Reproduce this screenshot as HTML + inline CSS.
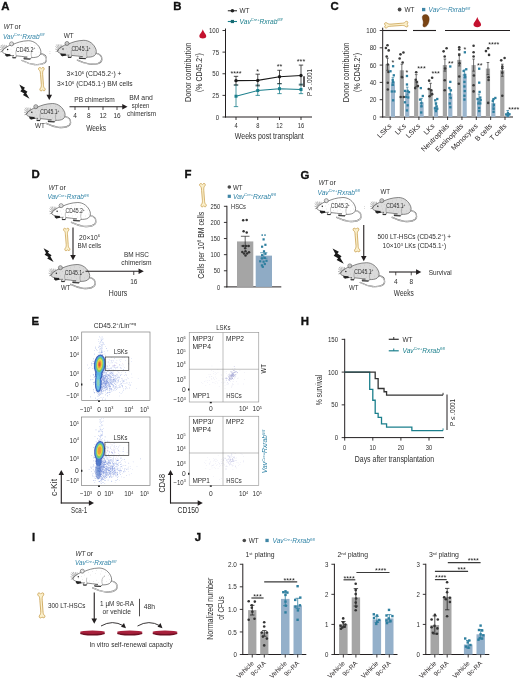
<!DOCTYPE html>
<html><head><meta charset="utf-8"><title>Figure</title>
<style>
html,body{margin:0;padding:0;background:#fff;}
body{width:520px;height:681px;overflow:hidden;}
svg{display:block;}
text{font-family:"Liberation Sans",sans-serif;}
</style></head><body>
<svg width="520" height="681" viewBox="0 0 520 681">
<g fill="#231f20" stroke="none" opacity="0.999">
<rect x="0" y="0" width="520" height="681" fill="#ffffff"/>
<text x="1.20" y="10.30" font-size="11.40" fill="#111" font-weight="bold" stroke="#111" stroke-width="0.35">A</text>
<text x="173.20" y="10.30" font-size="11.40" fill="#111" font-weight="bold" stroke="#111" stroke-width="0.35">B</text>
<text x="330.50" y="10.30" font-size="11.40" fill="#111" font-weight="bold" stroke="#111" stroke-width="0.35">C</text>
<text x="31.50" y="178.20" font-size="11.40" fill="#111" font-weight="bold" stroke="#111" stroke-width="0.35">D</text>
<text x="184.50" y="178.20" font-size="11.40" fill="#111" font-weight="bold" stroke="#111" stroke-width="0.35">F</text>
<text x="300.50" y="178.50" font-size="11.40" fill="#111" font-weight="bold" stroke="#111" stroke-width="0.35">G</text>
<text x="31.50" y="325.20" font-size="11.40" fill="#111" font-weight="bold" stroke="#111" stroke-width="0.35">E</text>
<text x="300.80" y="325.20" font-size="11.40" fill="#111" font-weight="bold" stroke="#111" stroke-width="0.35">H</text>
<text x="32.00" y="541.20" font-size="11.40" fill="#111" font-weight="bold" stroke="#111" stroke-width="0.35">I</text>
<text x="194.80" y="541.20" font-size="11.40" fill="#111" font-weight="bold" stroke="#111" stroke-width="0.35">J</text>
<text x="3.75" y="28.80" font-size="6.50" fill="#2e2e2e" font-style="italic" textLength="9.50" lengthAdjust="spacingAndGlyphs">WT</text>
<text x="14.60" y="28.80" font-size="6.50" fill="#2e2e2e" textLength="6.40" lengthAdjust="spacingAndGlyphs">or</text>
<text x="3.00" y="38.80" font-size="6.50" fill="#2f83a6" font-style="italic" textLength="41.50" lengthAdjust="spacingAndGlyphs">Vav<tspan dy="-2.34" font-size="3.90">Cre+</tspan><tspan dy="2.34">Rxrab</tspan><tspan dy="-2.34" font-size="3.90">fl/fl</tspan></text>
<g transform="translate(1.80,41.20)">
<path d="M38.3,12.3 C42.5,13.2 45,15.8 44.6,18.8 C44.2,22.6 38.5,24 32.5,23.3 C27.5,22.7 24,21.2 20.2,19.3" fill="none" stroke="#6a6a6a" stroke-width="1.35" stroke-linecap="round"/>
<path d="M38.3,12.3 C42.5,13.2 45,15.8 44.6,18.8 C44.2,22.6 38.5,24 32.5,23.3 C27.5,22.7 24,21.2 20.2,19.3" fill="none" stroke="#ffffff" stroke-width="0.7" stroke-linecap="round"/>
<path d="M0,10.3 C1,8.5 3.5,6.3 7.5,4.3 L11.8,3 C15,1.5 20,-0.3 26.5,-0.5 C32,-0.5 37,3.3 38.8,8.8 C39.5,11.2 39,13.6 37,15 C35,16.3 32,16.4 29.5,16.4 L28.5,17.8 L22,17.5 L22.3,16.3 L25.5,15.9 C22,15.3 18,15.1 14.5,14.6 L14,16.5 L10.8,16.5 L11,15.2 L12,14.3 C9.5,14.5 8,14.3 7,14 L5,15.1 L3.6,14.2 L4.2,13 C2.5,12.4 0.8,11.5 0,10.3 Z" fill="#ffffff" stroke="#4a4a4a" stroke-width="0.65" stroke-linejoin="round"/>
<circle cx="9.8" cy="2.7" r="2.0" fill="#ffffff" stroke="#4a4a4a" stroke-width="0.6"/>
<circle cx="9.9" cy="3.0" r="1.0" fill="none" stroke="#777" stroke-width="0.3"/>
<path d="M32.5,7.2 C29.8,8.8 28.5,12 30,16 M14.3,9.2 C13.8,11.6 14,13.2 14.5,14.6" fill="none" stroke="#666" stroke-width="0.4"/>
<path d="M16,4h.4M20,3h.4M24,2h.4M29,2.5h.4M33,4h.4M36,7h.4M18,6.5h.4M23,5h.4M28,5.5h.4M32,8h.4M37,11h.4M21,13h.4M26,14h.4M34,13h.4M17,12.5h.4M24,11.8h.4M30,12h.4M9,8h.4M6,10h.4M10,11h.4M12,6.5h.4M8,12.5h.4" stroke="#888" stroke-width="0.4" fill="none"/>
<path d="M1.8,8.6 L-1.8,5.6 M2,8.2 L-0.8,3.8 M2.6,7.7 L0.8,3.4 M3.4,7.2 L2.8,3.6 M1.6,9.2 L-2,8.2 M1.6,9.8 L-1.6,10.8 M4.4,6.6 L4.6,3.8" stroke="#444" stroke-width="0.38" fill="none"/>
<circle cx="5.8" cy="8.2" r="0.75" fill="#222"/>
<path d="M3.2,12.6 L8.4,13 L9,14.8 L5.2,15.4 L3.8,14.4 Z" fill="#222"/>
<path d="M22,17.6 L28.5,17.9 M10.8,16.6 L14,16.6" stroke="#2a2a2a" stroke-width="1.0"/>
<text x="14.20" y="10.40" font-size="6.60" fill="#2e2e2e" textLength="19.20" lengthAdjust="spacingAndGlyphs">CD45.2<tspan dy="-2.38" font-size="3.96">+</tspan></text>
</g>
<text x="49.30" y="54.00" font-size="5.00" fill="#777">:</text>
<text x="63.75" y="37.50" font-size="6.50" fill="#2e2e2e" textLength="10.00" lengthAdjust="spacingAndGlyphs">WT</text>
<g transform="translate(57.20,40.80)">
<path d="M38.3,12.3 C42.5,13.2 45,15.8 44.6,18.8 C44.2,22.6 38.5,24 32.5,23.3 C27.5,22.7 24,21.2 20.2,19.3" fill="none" stroke="#6a6a6a" stroke-width="1.35" stroke-linecap="round"/>
<path d="M38.3,12.3 C42.5,13.2 45,15.8 44.6,18.8 C44.2,22.6 38.5,24 32.5,23.3 C27.5,22.7 24,21.2 20.2,19.3" fill="none" stroke="#ececec" stroke-width="0.7" stroke-linecap="round"/>
<path d="M0,10.3 C1,8.5 3.5,6.3 7.5,4.3 L11.8,3 C15,1.5 20,-0.3 26.5,-0.5 C32,-0.5 37,3.3 38.8,8.8 C39.5,11.2 39,13.6 37,15 C35,16.3 32,16.4 29.5,16.4 L28.5,17.8 L22,17.5 L22.3,16.3 L25.5,15.9 C22,15.3 18,15.1 14.5,14.6 L14,16.5 L10.8,16.5 L11,15.2 L12,14.3 C9.5,14.5 8,14.3 7,14 L5,15.1 L3.6,14.2 L4.2,13 C2.5,12.4 0.8,11.5 0,10.3 Z" fill="#dcdcdc" stroke="#4a4a4a" stroke-width="0.65" stroke-linejoin="round"/>
<circle cx="9.8" cy="2.7" r="2.0" fill="#dcdcdc" stroke="#4a4a4a" stroke-width="0.6"/>
<circle cx="9.9" cy="3.0" r="1.0" fill="none" stroke="#777" stroke-width="0.3"/>
<path d="M32.5,7.2 C29.8,8.8 28.5,12 30,16 M14.3,9.2 C13.8,11.6 14,13.2 14.5,14.6" fill="none" stroke="#666" stroke-width="0.4"/>
<path d="M16,4h.4M20,3h.4M24,2h.4M29,2.5h.4M33,4h.4M36,7h.4M18,6.5h.4M23,5h.4M28,5.5h.4M32,8h.4M37,11h.4M21,13h.4M26,14h.4M34,13h.4M17,12.5h.4M24,11.8h.4M30,12h.4M9,8h.4M6,10h.4M10,11h.4M12,6.5h.4M8,12.5h.4" stroke="#888" stroke-width="0.4" fill="none"/>
<path d="M1.8,8.6 L-1.8,5.6 M2,8.2 L-0.8,3.8 M2.6,7.7 L0.8,3.4 M3.4,7.2 L2.8,3.6 M1.6,9.2 L-2,8.2 M1.6,9.8 L-1.6,10.8 M4.4,6.6 L4.6,3.8" stroke="#444" stroke-width="0.38" fill="none"/>
<circle cx="5.8" cy="8.2" r="0.75" fill="#222"/>
<path d="M3.2,12.6 L8.4,13 L9,14.8 L5.2,15.4 L3.8,14.4 Z" fill="#222"/>
<path d="M22,17.6 L28.5,17.9 M10.8,16.6 L14,16.6" stroke="#2a2a2a" stroke-width="1.0"/>
<text x="14.20" y="10.40" font-size="6.60" fill="#2e2e2e" textLength="19.20" lengthAdjust="spacingAndGlyphs">CD45.1<tspan dy="-2.38" font-size="3.96">+</tspan></text>
</g>
<path transform="translate(38.20,67.00) rotate(-3) scale(1)" d="M1.2,0.6 C0,0.8 -0.2,2.6 1,3.4 C1.8,4 1.9,5.5 1.9,7.5 L2.2,17.5 C2.2,19.5 1.8,20.6 1,21.4 C0,22.4 0.5,24.2 1.8,24 C2.5,23.9 2.8,23.4 3.1,23.1 C3.5,23.6 4,24.1 4.8,24 C6,23.8 6.2,22.2 5.2,21.4 C4.4,20.7 4.3,19.5 4.3,17.5 L4.1,7.5 C4.1,5.5 4.3,4.1 5.2,3.4 C6.3,2.5 6,0.6 4.7,0.7 C3.9,0.7 3.4,1.3 3,1.7 C2.6,1.2 2.1,0.5 1.2,0.6 Z" fill="#fbf0cc" stroke="#c89e4c" stroke-width="0.75"/>
<line x1="49.25" y1="66.00" x2="49.25" y2="97.20" stroke="#231f20" stroke-width="1.1" />
<path d="M49.25,100.00 L46.45,94.75 L52.05,94.75 Z" fill="#231f20"/>
<text x="94.00" y="76.00" font-size="6.50" fill="#2e2e2e" text-anchor="middle" textLength="55.00" lengthAdjust="spacingAndGlyphs">3×10<tspan dy="-2.34" font-size="3.90">6</tspan><tspan dy="2.34"> (CD45.2</tspan><tspan dy="-2.34" font-size="3.90">+</tspan><tspan dy="2.34">) +</tspan></text>
<text x="94.80" y="86.20" font-size="6.50" fill="#2e2e2e" text-anchor="middle" textLength="75.50" lengthAdjust="spacingAndGlyphs">3×10<tspan dy="-2.34" font-size="3.90">6</tspan><tspan dy="2.34"> (CD45.1</tspan><tspan dy="-2.34" font-size="3.90">+</tspan><tspan dy="2.34">) BM cells</tspan></text>
<polygon transform="translate(19.30,84.60) scale(1.02)" points="0,0 5.6,3 4.3,4.6 8,7 6.8,8.4 10,13.8 3.6,10.3 4.9,8.7 1,6.5 2.4,4.8" fill="#1a1a1a"/>
<g transform="translate(26.00,104.00)">
<path d="M38.3,12.3 C42.5,13.2 45,15.8 44.6,18.8 C44.2,22.6 38.5,24 32.5,23.3 C27.5,22.7 24,21.2 20.2,19.3" fill="none" stroke="#6a6a6a" stroke-width="1.35" stroke-linecap="round"/>
<path d="M38.3,12.3 C42.5,13.2 45,15.8 44.6,18.8 C44.2,22.6 38.5,24 32.5,23.3 C27.5,22.7 24,21.2 20.2,19.3" fill="none" stroke="#ececec" stroke-width="0.7" stroke-linecap="round"/>
<path d="M0,10.3 C1,8.5 3.5,6.3 7.5,4.3 L11.8,3 C15,1.5 20,-0.3 26.5,-0.5 C32,-0.5 37,3.3 38.8,8.8 C39.5,11.2 39,13.6 37,15 C35,16.3 32,16.4 29.5,16.4 L28.5,17.8 L22,17.5 L22.3,16.3 L25.5,15.9 C22,15.3 18,15.1 14.5,14.6 L14,16.5 L10.8,16.5 L11,15.2 L12,14.3 C9.5,14.5 8,14.3 7,14 L5,15.1 L3.6,14.2 L4.2,13 C2.5,12.4 0.8,11.5 0,10.3 Z" fill="#dadada" stroke="#4a4a4a" stroke-width="0.65" stroke-linejoin="round"/>
<circle cx="9.8" cy="2.7" r="2.0" fill="#dadada" stroke="#4a4a4a" stroke-width="0.6"/>
<circle cx="9.9" cy="3.0" r="1.0" fill="none" stroke="#777" stroke-width="0.3"/>
<path d="M32.5,7.2 C29.8,8.8 28.5,12 30,16 M14.3,9.2 C13.8,11.6 14,13.2 14.5,14.6" fill="none" stroke="#666" stroke-width="0.4"/>
<path d="M16,4h.4M20,3h.4M24,2h.4M29,2.5h.4M33,4h.4M36,7h.4M18,6.5h.4M23,5h.4M28,5.5h.4M32,8h.4M37,11h.4M21,13h.4M26,14h.4M34,13h.4M17,12.5h.4M24,11.8h.4M30,12h.4M9,8h.4M6,10h.4M10,11h.4M12,6.5h.4M8,12.5h.4" stroke="#888" stroke-width="0.4" fill="none"/>
<path d="M1.8,8.6 L-1.8,5.6 M2,8.2 L-0.8,3.8 M2.6,7.7 L0.8,3.4 M3.4,7.2 L2.8,3.6 M1.6,9.2 L-2,8.2 M1.6,9.8 L-1.6,10.8 M4.4,6.6 L4.6,3.8" stroke="#444" stroke-width="0.38" fill="none"/>
<circle cx="5.8" cy="8.2" r="0.75" fill="#222"/>
<path d="M3.2,12.6 L8.4,13 L9,14.8 L5.2,15.4 L3.8,14.4 Z" fill="#222"/>
<path d="M22,17.6 L28.5,17.9 M10.8,16.6 L14,16.6" stroke="#2a2a2a" stroke-width="1.0"/>
<text x="14.20" y="10.40" font-size="6.60" fill="#2e2e2e" textLength="19.20" lengthAdjust="spacingAndGlyphs">CD45.1<tspan dy="-2.38" font-size="3.96">+</tspan></text>
</g>
<text x="35.00" y="128.30" font-size="6.50" fill="#2e2e2e" textLength="10.00" lengthAdjust="spacingAndGlyphs">WT</text>
<line x1="69.50" y1="106.75" x2="124.70" y2="106.75" stroke="#231f20" stroke-width="1.1" />
<path d="M127.50,106.75 L122.25,103.95 L122.25,109.55 Z" fill="#231f20"/>
<line x1="75.00" y1="106.75" x2="75.00" y2="110.00" stroke="#231f20" stroke-width="0.8" />
<text x="75.00" y="118.20" font-size="6.50" fill="#2e2e2e" text-anchor="middle">4</text>
<line x1="88.75" y1="106.75" x2="88.75" y2="110.00" stroke="#231f20" stroke-width="0.8" />
<text x="88.75" y="118.20" font-size="6.50" fill="#2e2e2e" text-anchor="middle">8</text>
<line x1="103.00" y1="106.75" x2="103.00" y2="110.00" stroke="#231f20" stroke-width="0.8" />
<text x="103.00" y="118.20" font-size="6.50" fill="#2e2e2e" text-anchor="middle">12</text>
<line x1="117.00" y1="106.75" x2="117.00" y2="110.00" stroke="#231f20" stroke-width="0.8" />
<text x="117.00" y="118.20" font-size="6.50" fill="#2e2e2e" text-anchor="middle">16</text>
<text x="74.25" y="102.30" font-size="6.50" fill="#2e2e2e" textLength="40.50" lengthAdjust="spacingAndGlyphs">PB chimerism</text>
<text x="141.00" y="100.00" font-size="6.50" fill="#2e2e2e" text-anchor="middle" textLength="23.50" lengthAdjust="spacingAndGlyphs">BM and</text>
<text x="140.60" y="107.80" font-size="6.50" fill="#2e2e2e" text-anchor="middle" textLength="17.50" lengthAdjust="spacingAndGlyphs">spleen</text>
<text x="141.60" y="115.60" font-size="6.50" fill="#2e2e2e" text-anchor="middle" textLength="29.00" lengthAdjust="spacingAndGlyphs">chimerism</text>
<text x="96.10" y="131.00" font-size="9.30" fill="#2e2e2e" text-anchor="middle" textLength="19.80" lengthAdjust="spacingAndGlyphs">Weeks</text>
<line x1="225.50" y1="28.50" x2="225.50" y2="117.50" stroke="#231f20" stroke-width="1" />
<line x1="225.00" y1="117.00" x2="312.00" y2="117.00" stroke="#231f20" stroke-width="1" />
<line x1="222.50" y1="117.00" x2="225.50" y2="117.00" stroke="#231f20" stroke-width="0.9" />
<text x="219.10" y="119.60" font-size="7.30" fill="#2e2e2e" text-anchor="end" textLength="3.40" lengthAdjust="spacingAndGlyphs">0</text>
<line x1="222.50" y1="95.38" x2="225.50" y2="95.38" stroke="#231f20" stroke-width="0.9" />
<text x="219.10" y="97.97" font-size="7.30" fill="#2e2e2e" text-anchor="end" textLength="6.80" lengthAdjust="spacingAndGlyphs">25</text>
<line x1="222.50" y1="73.75" x2="225.50" y2="73.75" stroke="#231f20" stroke-width="0.9" />
<text x="219.10" y="76.35" font-size="7.30" fill="#2e2e2e" text-anchor="end" textLength="6.80" lengthAdjust="spacingAndGlyphs">50</text>
<line x1="222.50" y1="52.12" x2="225.50" y2="52.12" stroke="#231f20" stroke-width="0.9" />
<text x="219.10" y="54.73" font-size="7.30" fill="#2e2e2e" text-anchor="end" textLength="6.80" lengthAdjust="spacingAndGlyphs">75</text>
<line x1="222.50" y1="30.50" x2="225.50" y2="30.50" stroke="#231f20" stroke-width="0.9" />
<text x="219.10" y="33.10" font-size="7.30" fill="#2e2e2e" text-anchor="end" textLength="10.20" lengthAdjust="spacingAndGlyphs">100</text>
<line x1="236.00" y1="117.00" x2="236.00" y2="120.00" stroke="#231f20" stroke-width="0.9" />
<text x="236.00" y="127.90" font-size="7.30" fill="#2e2e2e" text-anchor="middle" textLength="3.20" lengthAdjust="spacingAndGlyphs">4</text>
<line x1="257.75" y1="117.00" x2="257.75" y2="120.00" stroke="#231f20" stroke-width="0.9" />
<text x="257.75" y="127.90" font-size="7.30" fill="#2e2e2e" text-anchor="middle" textLength="3.20" lengthAdjust="spacingAndGlyphs">8</text>
<line x1="279.50" y1="117.00" x2="279.50" y2="120.00" stroke="#231f20" stroke-width="0.9" />
<text x="279.50" y="127.90" font-size="7.30" fill="#2e2e2e" text-anchor="middle" textLength="6.40" lengthAdjust="spacingAndGlyphs">12</text>
<line x1="301.00" y1="117.00" x2="301.00" y2="120.00" stroke="#231f20" stroke-width="0.9" />
<text x="301.00" y="127.90" font-size="7.30" fill="#2e2e2e" text-anchor="middle" textLength="6.40" lengthAdjust="spacingAndGlyphs">16</text>
<text x="269.30" y="139.30" font-size="8.60" fill="#2e2e2e" text-anchor="middle" textLength="69.00" lengthAdjust="spacingAndGlyphs">Weeks post transplant</text>
<text x="191.40" y="72.40" font-size="8.60" fill="#2e2e2e" text-anchor="middle" textLength="59.30" lengthAdjust="spacingAndGlyphs" transform="rotate(-90 191.40 72.40)">Donor contribution</text>
<text x="202.40" y="72.60" font-size="8.60" fill="#2e2e2e" text-anchor="middle" textLength="39.00" lengthAdjust="spacingAndGlyphs" transform="rotate(-90 202.40 72.60)">(% CD45.2<tspan dy="-3.10" font-size="5.16">+</tspan><tspan dy="3.10">)</tspan></text>
<path d="M202.80,29.20 C201.77,32.63 199.35,34.10 199.35,36.26 C199.35,39.20 206.25,39.20 206.25,36.26 C206.25,34.10 203.84,32.63 202.80,29.20 Z" fill="#c4122f"/>
<line x1="227.80" y1="10.75" x2="237.00" y2="10.75" stroke="#333" stroke-width="1.1" />
<circle cx="232.40" cy="10.75" r="1.80" fill="#222" />
<text x="239.50" y="13.20" font-size="6.50" fill="#2e2e2e" textLength="10.00" lengthAdjust="spacingAndGlyphs">WT</text>
<line x1="227.80" y1="21.50" x2="237.00" y2="21.50" stroke="#1b7f8c" stroke-width="1.1" />
<rect x="230.80" y="19.90" width="3.20" height="3.20" fill="#176a72" />
<text x="239.50" y="23.60" font-size="6.50" fill="#1b7f8c" font-style="italic" textLength="43.00" lengthAdjust="spacingAndGlyphs">Vav<tspan dy="-2.34" font-size="3.90">Cre+</tspan><tspan dy="2.34">Rxrab</tspan><tspan dy="-2.34" font-size="3.90">fl/fl</tspan></text>
<line x1="236.00" y1="85.00" x2="236.00" y2="106.62" stroke="#1b7f8c" stroke-width="0.8" />
<line x1="233.80" y1="85.00" x2="238.20" y2="85.00" stroke="#1b7f8c" stroke-width="0.8" />
<line x1="233.80" y1="106.62" x2="238.20" y2="106.62" stroke="#1b7f8c" stroke-width="0.8" />
<line x1="257.75" y1="85.00" x2="257.75" y2="95.38" stroke="#1b7f8c" stroke-width="0.8" />
<line x1="255.55" y1="85.00" x2="259.95" y2="85.00" stroke="#1b7f8c" stroke-width="0.8" />
<line x1="255.55" y1="95.38" x2="259.95" y2="95.38" stroke="#1b7f8c" stroke-width="0.8" />
<line x1="279.50" y1="83.70" x2="279.50" y2="93.64" stroke="#1b7f8c" stroke-width="0.8" />
<line x1="277.30" y1="83.70" x2="281.70" y2="83.70" stroke="#1b7f8c" stroke-width="0.8" />
<line x1="277.30" y1="93.64" x2="281.70" y2="93.64" stroke="#1b7f8c" stroke-width="0.8" />
<line x1="301.00" y1="84.13" x2="301.00" y2="93.64" stroke="#1b7f8c" stroke-width="0.8" />
<line x1="298.80" y1="84.13" x2="303.20" y2="84.13" stroke="#1b7f8c" stroke-width="0.8" />
<line x1="298.80" y1="93.64" x2="303.20" y2="93.64" stroke="#1b7f8c" stroke-width="0.8" />
<polyline points="236.00,96.24 257.75,90.53 279.50,88.71 301.00,89.49" fill="none" stroke="#1b7f8c" stroke-width="1.1"/>
<rect x="234.50" y="94.74" width="3.00" height="3.00" fill="#1b7f8c" />
<rect x="256.25" y="89.03" width="3.00" height="3.00" fill="#1b7f8c" />
<rect x="278.00" y="87.21" width="3.00" height="3.00" fill="#1b7f8c" />
<rect x="299.50" y="87.99" width="3.00" height="3.00" fill="#1b7f8c" />
<line x1="236.00" y1="76.34" x2="236.00" y2="85.00" stroke="#222" stroke-width="0.8" />
<line x1="233.80" y1="76.34" x2="238.20" y2="76.34" stroke="#222" stroke-width="0.8" />
<line x1="233.80" y1="85.00" x2="238.20" y2="85.00" stroke="#222" stroke-width="0.8" />
<line x1="257.75" y1="74.18" x2="257.75" y2="85.86" stroke="#222" stroke-width="0.8" />
<line x1="255.55" y1="74.18" x2="259.95" y2="74.18" stroke="#222" stroke-width="0.8" />
<line x1="255.55" y1="85.86" x2="259.95" y2="85.86" stroke="#222" stroke-width="0.8" />
<line x1="279.50" y1="70.29" x2="279.50" y2="83.70" stroke="#222" stroke-width="0.8" />
<line x1="277.30" y1="70.29" x2="281.70" y2="70.29" stroke="#222" stroke-width="0.8" />
<line x1="277.30" y1="83.70" x2="281.70" y2="83.70" stroke="#222" stroke-width="0.8" />
<line x1="301.00" y1="65.10" x2="301.00" y2="85.00" stroke="#222" stroke-width="0.8" />
<line x1="298.80" y1="65.10" x2="303.20" y2="65.10" stroke="#222" stroke-width="0.8" />
<line x1="298.80" y1="85.00" x2="303.20" y2="85.00" stroke="#222" stroke-width="0.8" />
<polyline points="236.00,80.67 257.75,80.41 279.50,76.78 301.00,75.48" fill="none" stroke="#1a1a1a" stroke-width="1.1"/>
<circle cx="236.00" cy="80.67" r="1.70" fill="#1a1a1a" />
<circle cx="257.75" cy="80.41" r="1.70" fill="#1a1a1a" />
<circle cx="279.50" cy="76.78" r="1.70" fill="#1a1a1a" />
<circle cx="301.00" cy="75.48" r="1.70" fill="#1a1a1a" />
<text x="236.00" y="76.20" font-size="7.00" text-anchor="middle" fill="#222222" textLength="11.20" lengthAdjust="spacingAndGlyphs">****</text>
<text x="257.75" y="73.90" font-size="7.00" text-anchor="middle" fill="#222222" textLength="2.80" lengthAdjust="spacingAndGlyphs">*</text>
<text x="279.50" y="68.90" font-size="7.00" text-anchor="middle" fill="#222222" textLength="5.60" lengthAdjust="spacingAndGlyphs">**</text>
<text x="301.00" y="63.80" font-size="7.00" text-anchor="middle" fill="#222222" textLength="8.40" lengthAdjust="spacingAndGlyphs">***</text>
<line x1="304.00" y1="76.30" x2="304.00" y2="87.00" stroke="#231f20" stroke-width="1.5" />
<text x="312.30" y="82.50" font-size="6.80" fill="#2e2e2e" text-anchor="middle" textLength="27.00" lengthAdjust="spacingAndGlyphs" transform="rotate(-90 312.30 82.50)">P ≤ .0001</text>
<line x1="382.70" y1="27.70" x2="382.70" y2="117.50" stroke="#231f20" stroke-width="1" />
<line x1="382.20" y1="117.00" x2="513.00" y2="117.00" stroke="#231f20" stroke-width="1" />
<line x1="379.70" y1="117.00" x2="382.70" y2="117.00" stroke="#231f20" stroke-width="0.9" />
<text x="376.50" y="119.60" font-size="7.30" fill="#2e2e2e" text-anchor="end" textLength="3.40" lengthAdjust="spacingAndGlyphs">0</text>
<line x1="379.70" y1="99.70" x2="382.70" y2="99.70" stroke="#231f20" stroke-width="0.9" />
<text x="376.50" y="102.30" font-size="7.30" fill="#2e2e2e" text-anchor="end" textLength="6.80" lengthAdjust="spacingAndGlyphs">20</text>
<line x1="379.70" y1="82.40" x2="382.70" y2="82.40" stroke="#231f20" stroke-width="0.9" />
<text x="376.50" y="85.00" font-size="7.30" fill="#2e2e2e" text-anchor="end" textLength="6.80" lengthAdjust="spacingAndGlyphs">40</text>
<line x1="379.70" y1="65.10" x2="382.70" y2="65.10" stroke="#231f20" stroke-width="0.9" />
<text x="376.50" y="67.70" font-size="7.30" fill="#2e2e2e" text-anchor="end" textLength="6.80" lengthAdjust="spacingAndGlyphs">60</text>
<line x1="379.70" y1="47.80" x2="382.70" y2="47.80" stroke="#231f20" stroke-width="0.9" />
<text x="376.50" y="50.40" font-size="7.30" fill="#2e2e2e" text-anchor="end" textLength="6.80" lengthAdjust="spacingAndGlyphs">80</text>
<line x1="379.70" y1="30.50" x2="382.70" y2="30.50" stroke="#231f20" stroke-width="0.9" />
<text x="376.50" y="33.10" font-size="7.30" fill="#2e2e2e" text-anchor="end" textLength="10.20" lengthAdjust="spacingAndGlyphs">100</text>
<text x="349.40" y="72.40" font-size="8.60" fill="#2e2e2e" text-anchor="middle" textLength="59.50" lengthAdjust="spacingAndGlyphs" transform="rotate(-90 349.40 72.40)">Donor contribution</text>
<text x="359.80" y="72.40" font-size="8.60" fill="#2e2e2e" text-anchor="middle" textLength="39.00" lengthAdjust="spacingAndGlyphs" transform="rotate(-90 359.80 72.40)">(% CD45.2<tspan dy="-3.10" font-size="5.16">+</tspan><tspan dy="3.10">)</tspan></text>
<line x1="383.00" y1="30.50" x2="407.00" y2="30.50" stroke="#231f20" stroke-width="1.1" />
<line x1="413.00" y1="30.50" x2="436.00" y2="30.50" stroke="#231f20" stroke-width="1.1" />
<line x1="445.00" y1="30.50" x2="510.00" y2="30.50" stroke="#231f20" stroke-width="1.1" />
<path transform="translate(408.40,21.00) rotate(87) scale(1)" d="M1.2,0.6 C0,0.8 -0.2,2.6 1,3.4 C1.8,4 1.9,5.5 1.9,7.5 L2.2,17.5 C2.2,19.5 1.8,20.6 1,21.4 C0,22.4 0.5,24.2 1.8,24 C2.5,23.9 2.8,23.4 3.1,23.1 C3.5,23.6 4,24.1 4.8,24 C6,23.8 6.2,22.2 5.2,21.4 C4.4,20.7 4.3,19.5 4.3,17.5 L4.1,7.5 C4.1,5.5 4.3,4.1 5.2,3.4 C6.3,2.5 6,0.6 4.7,0.7 C3.9,0.7 3.4,1.3 3,1.7 C2.6,1.2 2.1,0.5 1.2,0.6 Z" fill="#fbf0cc" stroke="#c89e4c" stroke-width="0.75"/>
<path d="M424.3,14.8 C427,14 429.2,15.8 429.2,19 C429.2,23 427,27 424.3,27 C422.8,27 422.6,25.3 423.2,23.5 C423.8,21.5 422.3,19.5 422.3,17.5 C422.3,16 423,15.1 424.3,14.8 Z" fill="#7a4413" stroke="#5a300c" stroke-width="0.4"/>
<path d="M477.30,17.00 C476.16,20.78 473.50,22.40 473.50,24.78 C473.50,28.02 481.10,28.02 481.10,24.78 C481.10,22.40 478.44,20.78 477.30,17.00 Z" fill="#c4122f"/>
<circle cx="399.60" cy="9.50" r="1.90" fill="#4a4a4a" />
<text x="404.50" y="12.00" font-size="6.50" fill="#2e2e2e" textLength="10.00" lengthAdjust="spacingAndGlyphs">WT</text>
<rect x="422.00" y="7.90" width="3.30" height="3.30" fill="#3f86a6" />
<text x="428.60" y="12.00" font-size="6.50" fill="#2f83a6" font-style="italic" textLength="41.50" lengthAdjust="spacingAndGlyphs">Vav<tspan dy="-2.34" font-size="3.90">Cre+</tspan><tspan dy="2.34">Rxrab</tspan><tspan dy="-2.34" font-size="3.90">fl/fl</tspan></text>
<rect x="385.40" y="64.23" width="4.20" height="52.77" fill="#a5a5a5" />
<rect x="390.80" y="81.53" width="4.20" height="35.47" fill="#9bb5cd" />
<line x1="387.50" y1="58.18" x2="387.50" y2="70.29" stroke="#333" stroke-width="0.7" />
<line x1="386.20" y1="58.18" x2="388.80" y2="58.18" stroke="#333" stroke-width="0.7" />
<line x1="386.20" y1="70.29" x2="388.80" y2="70.29" stroke="#333" stroke-width="0.7" />
<line x1="392.90" y1="77.64" x2="392.90" y2="85.43" stroke="#2e7f9f" stroke-width="0.7" />
<line x1="391.60" y1="77.64" x2="394.20" y2="77.64" stroke="#2e7f9f" stroke-width="0.7" />
<line x1="391.60" y1="85.43" x2="394.20" y2="85.43" stroke="#2e7f9f" stroke-width="0.7" />
<circle cx="387.50" cy="45.29" r="1.30" fill="#3a3a3a" />
<circle cx="385.90" cy="47.97" r="1.30" fill="#3a3a3a" />
<circle cx="388.70" cy="50.39" r="1.30" fill="#3a3a3a" />
<circle cx="387.80" cy="64.49" r="1.30" fill="#3a3a3a" />
<circle cx="387.80" cy="82.75" r="1.30" fill="#3a3a3a" />
<circle cx="387.80" cy="89.49" r="1.30" fill="#3a3a3a" />
<circle cx="386.70" cy="56.45" r="1.30" fill="#3a3a3a" />
<circle cx="388.40" cy="72.02" r="1.30" fill="#3a3a3a" />
<rect x="391.95" y="65.07" width="2.30" height="2.30" fill="#2e7f9f" />
<rect x="389.35" y="70.09" width="2.30" height="2.30" fill="#2e7f9f" />
<rect x="392.65" y="74.16" width="2.30" height="2.30" fill="#2e7f9f" />
<rect x="391.55" y="78.91" width="2.30" height="2.30" fill="#2e7f9f" />
<rect x="391.95" y="80.90" width="2.30" height="2.30" fill="#2e7f9f" />
<rect x="391.55" y="83.59" width="2.30" height="2.30" fill="#2e7f9f" />
<rect x="390.65" y="90.33" width="2.30" height="2.30" fill="#2e7f9f" />
<rect x="393.35" y="90.33" width="2.30" height="2.30" fill="#2e7f9f" />
<rect x="391.95" y="99.16" width="2.30" height="2.30" fill="#2e7f9f" />
<line x1="390.20" y1="117.00" x2="390.20" y2="120.00" stroke="#231f20" stroke-width="0.9" />
<text x="392.10" y="126.60" font-size="7.1" text-anchor="end" fill="#231f20" transform="rotate(-45 392.10 126.60)">LSKs</text>
<rect x="399.75" y="70.29" width="4.20" height="46.71" fill="#a5a5a5" />
<rect x="405.15" y="91.05" width="4.20" height="25.95" fill="#9bb5cd" />
<line x1="401.85" y1="64.23" x2="401.85" y2="76.34" stroke="#333" stroke-width="0.7" />
<line x1="400.55" y1="64.23" x2="403.15" y2="64.23" stroke="#333" stroke-width="0.7" />
<line x1="400.55" y1="76.34" x2="403.15" y2="76.34" stroke="#333" stroke-width="0.7" />
<line x1="407.25" y1="87.16" x2="407.25" y2="94.94" stroke="#2e7f9f" stroke-width="0.7" />
<line x1="405.95" y1="87.16" x2="408.55" y2="87.16" stroke="#2e7f9f" stroke-width="0.7" />
<line x1="405.95" y1="94.94" x2="408.55" y2="94.94" stroke="#2e7f9f" stroke-width="0.7" />
<circle cx="403.45" cy="52.56" r="1.30" fill="#3a3a3a" />
<circle cx="400.45" cy="54.37" r="1.30" fill="#3a3a3a" />
<circle cx="399.65" cy="58.44" r="1.30" fill="#3a3a3a" />
<circle cx="402.65" cy="62.51" r="1.30" fill="#3a3a3a" />
<circle cx="400.65" cy="96.93" r="1.30" fill="#3a3a3a" />
<circle cx="403.75" cy="96.93" r="1.30" fill="#3a3a3a" />
<circle cx="402.05" cy="77.21" r="1.30" fill="#3a3a3a" />
<rect x="405.80" y="74.85" width="2.30" height="2.30" fill="#2e7f9f" />
<rect x="405.80" y="83.33" width="2.30" height="2.30" fill="#2e7f9f" />
<rect x="403.80" y="89.73" width="2.30" height="2.30" fill="#2e7f9f" />
<rect x="406.50" y="89.73" width="2.30" height="2.30" fill="#2e7f9f" />
<rect x="407.80" y="90.94" width="2.30" height="2.30" fill="#2e7f9f" />
<rect x="405.10" y="95.78" width="2.30" height="2.30" fill="#2e7f9f" />
<rect x="407.10" y="96.30" width="2.30" height="2.30" fill="#2e7f9f" />
<rect x="403.80" y="101.14" width="2.30" height="2.30" fill="#2e7f9f" />
<rect x="406.50" y="104.17" width="2.30" height="2.30" fill="#2e7f9f" />
<rect x="405.80" y="109.28" width="2.30" height="2.30" fill="#2e7f9f" />
<line x1="404.55" y1="117.00" x2="404.55" y2="120.00" stroke="#231f20" stroke-width="0.9" />
<text x="406.45" y="126.60" font-size="7.1" text-anchor="end" fill="#231f20" transform="rotate(-45 406.45 126.60)">LKs</text>
<rect x="414.10" y="80.67" width="4.20" height="36.33" fill="#a5a5a5" />
<rect x="419.50" y="102.30" width="4.20" height="14.70" fill="#9bb5cd" />
<line x1="416.20" y1="74.62" x2="416.20" y2="86.72" stroke="#333" stroke-width="0.7" />
<line x1="414.90" y1="74.62" x2="417.50" y2="74.62" stroke="#333" stroke-width="0.7" />
<line x1="414.90" y1="86.72" x2="417.50" y2="86.72" stroke="#333" stroke-width="0.7" />
<line x1="421.60" y1="98.40" x2="421.60" y2="106.19" stroke="#2e7f9f" stroke-width="0.7" />
<line x1="420.30" y1="98.40" x2="422.90" y2="98.40" stroke="#2e7f9f" stroke-width="0.7" />
<line x1="420.30" y1="106.19" x2="422.90" y2="106.19" stroke="#2e7f9f" stroke-width="0.7" />
<circle cx="416.20" cy="72.28" r="1.30" fill="#3a3a3a" />
<circle cx="415.70" cy="79.81" r="1.30" fill="#3a3a3a" />
<circle cx="416.80" cy="82.05" r="1.30" fill="#3a3a3a" />
<circle cx="417.90" cy="86.12" r="1.30" fill="#3a3a3a" />
<circle cx="415.20" cy="88.11" r="1.30" fill="#3a3a3a" />
<rect x="419.65" y="86.96" width="2.30" height="2.30" fill="#2e7f9f" />
<rect x="421.65" y="94.83" width="2.30" height="2.30" fill="#2e7f9f" />
<rect x="418.95" y="98.46" width="2.30" height="2.30" fill="#2e7f9f" />
<rect x="420.25" y="101.84" width="2.30" height="2.30" fill="#2e7f9f" />
<rect x="420.25" y="105.21" width="2.30" height="2.30" fill="#2e7f9f" />
<rect x="420.05" y="111.35" width="2.30" height="2.30" fill="#2e7f9f" />
<line x1="418.90" y1="117.00" x2="418.90" y2="120.00" stroke="#231f20" stroke-width="0.9" />
<text x="420.80" y="126.60" font-size="7.1" text-anchor="end" fill="#231f20" transform="rotate(-45 420.80 126.60)">LSKs</text>
<rect x="428.45" y="89.32" width="4.20" height="27.68" fill="#a5a5a5" />
<rect x="433.85" y="106.62" width="4.20" height="10.38" fill="#9bb5cd" />
<line x1="430.55" y1="83.27" x2="430.55" y2="95.38" stroke="#333" stroke-width="0.7" />
<line x1="429.25" y1="83.27" x2="431.85" y2="83.27" stroke="#333" stroke-width="0.7" />
<line x1="429.25" y1="95.38" x2="431.85" y2="95.38" stroke="#333" stroke-width="0.7" />
<line x1="435.95" y1="102.73" x2="435.95" y2="110.51" stroke="#2e7f9f" stroke-width="0.7" />
<line x1="434.65" y1="102.73" x2="437.25" y2="102.73" stroke="#2e7f9f" stroke-width="0.7" />
<line x1="434.65" y1="110.51" x2="437.25" y2="110.51" stroke="#2e7f9f" stroke-width="0.7" />
<circle cx="432.15" cy="77.73" r="1.30" fill="#3a3a3a" />
<circle cx="429.15" cy="80.67" r="1.30" fill="#3a3a3a" />
<circle cx="428.75" cy="88.97" r="1.30" fill="#3a3a3a" />
<circle cx="431.15" cy="90.19" r="1.30" fill="#3a3a3a" />
<circle cx="432.15" cy="94.16" r="1.30" fill="#3a3a3a" />
<circle cx="429.55" cy="96.24" r="1.30" fill="#3a3a3a" />
<rect x="436.10" y="97.86" width="2.30" height="2.30" fill="#2e7f9f" />
<rect x="434.10" y="99.16" width="2.30" height="2.30" fill="#2e7f9f" />
<rect x="434.80" y="102.53" width="2.30" height="2.30" fill="#2e7f9f" />
<rect x="435.50" y="105.21" width="2.30" height="2.30" fill="#2e7f9f" />
<rect x="433.80" y="107.20" width="2.30" height="2.30" fill="#2e7f9f" />
<rect x="436.10" y="107.63" width="2.30" height="2.30" fill="#2e7f9f" />
<rect x="434.80" y="109.97" width="2.30" height="2.30" fill="#2e7f9f" />
<line x1="433.25" y1="117.00" x2="433.25" y2="120.00" stroke="#231f20" stroke-width="0.9" />
<text x="435.15" y="126.60" font-size="7.1" text-anchor="end" fill="#231f20" transform="rotate(-45 435.15 126.60)">LKs</text>
<rect x="442.80" y="65.10" width="4.20" height="51.90" fill="#a5a5a5" />
<rect x="448.20" y="93.64" width="4.20" height="23.36" fill="#9bb5cd" />
<line x1="444.90" y1="59.05" x2="444.90" y2="71.16" stroke="#333" stroke-width="0.7" />
<line x1="443.60" y1="59.05" x2="446.20" y2="59.05" stroke="#333" stroke-width="0.7" />
<line x1="443.60" y1="71.16" x2="446.20" y2="71.16" stroke="#333" stroke-width="0.7" />
<line x1="450.30" y1="89.75" x2="450.30" y2="97.54" stroke="#2e7f9f" stroke-width="0.7" />
<line x1="449.00" y1="89.75" x2="451.60" y2="89.75" stroke="#2e7f9f" stroke-width="0.7" />
<line x1="449.00" y1="97.54" x2="451.60" y2="97.54" stroke="#2e7f9f" stroke-width="0.7" />
<circle cx="446.60" cy="48.32" r="1.30" fill="#3a3a3a" />
<circle cx="443.60" cy="51.35" r="1.30" fill="#3a3a3a" />
<circle cx="444.70" cy="56.45" r="1.30" fill="#3a3a3a" />
<circle cx="444.70" cy="80.32" r="1.30" fill="#3a3a3a" />
<circle cx="444.70" cy="90.27" r="1.30" fill="#3a3a3a" />
<circle cx="445.10" cy="68.56" r="1.30" fill="#3a3a3a" />
<rect x="449.15" y="65.33" width="2.30" height="2.30" fill="#2e7f9f" />
<rect x="449.15" y="80.73" width="2.30" height="2.30" fill="#2e7f9f" />
<rect x="448.25" y="86.87" width="2.30" height="2.30" fill="#2e7f9f" />
<rect x="449.75" y="89.21" width="2.30" height="2.30" fill="#2e7f9f" />
<rect x="448.65" y="93.01" width="2.30" height="2.30" fill="#2e7f9f" />
<rect x="449.45" y="96.82" width="2.30" height="2.30" fill="#2e7f9f" />
<rect x="448.65" y="102.27" width="2.30" height="2.30" fill="#2e7f9f" />
<rect x="449.15" y="106.08" width="2.30" height="2.30" fill="#2e7f9f" />
<line x1="447.60" y1="117.00" x2="447.60" y2="120.00" stroke="#231f20" stroke-width="0.9" />
<text x="449.50" y="126.60" font-size="7.1" text-anchor="end" fill="#231f20" transform="rotate(-45 449.50 126.60)">Neutrophils</text>
<rect x="457.15" y="59.91" width="4.20" height="57.09" fill="#a5a5a5" />
<rect x="462.55" y="73.75" width="4.20" height="43.25" fill="#9bb5cd" />
<line x1="459.25" y1="53.85" x2="459.25" y2="65.97" stroke="#333" stroke-width="0.7" />
<line x1="457.95" y1="53.85" x2="460.55" y2="53.85" stroke="#333" stroke-width="0.7" />
<line x1="457.95" y1="65.97" x2="460.55" y2="65.97" stroke="#333" stroke-width="0.7" />
<line x1="464.65" y1="69.86" x2="464.65" y2="77.64" stroke="#2e7f9f" stroke-width="0.7" />
<line x1="463.35" y1="69.86" x2="465.95" y2="69.86" stroke="#2e7f9f" stroke-width="0.7" />
<line x1="463.35" y1="77.64" x2="465.95" y2="77.64" stroke="#2e7f9f" stroke-width="0.7" />
<circle cx="459.25" cy="47.19" r="1.30" fill="#3a3a3a" />
<circle cx="459.25" cy="49.53" r="1.30" fill="#3a3a3a" />
<circle cx="459.25" cy="54.89" r="1.30" fill="#3a3a3a" />
<circle cx="459.25" cy="76.43" r="1.30" fill="#3a3a3a" />
<circle cx="458.85" cy="83.70" r="1.30" fill="#3a3a3a" />
<circle cx="459.55" cy="63.37" r="1.30" fill="#3a3a3a" />
<rect x="463.70" y="51.15" width="2.30" height="2.30" fill="#2e7f9f" />
<rect x="465.10" y="68.10" width="2.30" height="2.30" fill="#2e7f9f" />
<rect x="462.50" y="69.92" width="2.30" height="2.30" fill="#2e7f9f" />
<rect x="463.60" y="73.81" width="2.30" height="2.30" fill="#2e7f9f" />
<rect x="464.00" y="76.06" width="2.30" height="2.30" fill="#2e7f9f" />
<rect x="463.30" y="80.73" width="2.30" height="2.30" fill="#2e7f9f" />
<rect x="463.30" y="85.32" width="2.30" height="2.30" fill="#2e7f9f" />
<rect x="463.60" y="89.90" width="2.30" height="2.30" fill="#2e7f9f" />
<rect x="463.30" y="94.57" width="2.30" height="2.30" fill="#2e7f9f" />
<rect x="463.30" y="98.38" width="2.30" height="2.30" fill="#2e7f9f" />
<line x1="461.95" y1="117.00" x2="461.95" y2="120.00" stroke="#231f20" stroke-width="0.9" />
<text x="463.85" y="126.60" font-size="7.1" text-anchor="end" fill="#231f20" transform="rotate(-45 463.85 126.60)">Eosinophils</text>
<rect x="471.50" y="65.10" width="4.20" height="51.90" fill="#a5a5a5" />
<rect x="476.90" y="97.97" width="4.20" height="19.03" fill="#9bb5cd" />
<line x1="473.60" y1="59.05" x2="473.60" y2="71.16" stroke="#333" stroke-width="0.7" />
<line x1="472.30" y1="59.05" x2="474.90" y2="59.05" stroke="#333" stroke-width="0.7" />
<line x1="472.30" y1="71.16" x2="474.90" y2="71.16" stroke="#333" stroke-width="0.7" />
<line x1="479.00" y1="94.08" x2="479.00" y2="101.86" stroke="#2e7f9f" stroke-width="0.7" />
<line x1="477.70" y1="94.08" x2="480.30" y2="94.08" stroke="#2e7f9f" stroke-width="0.7" />
<line x1="477.70" y1="101.86" x2="480.30" y2="101.86" stroke="#2e7f9f" stroke-width="0.7" />
<circle cx="473.60" cy="45.72" r="1.30" fill="#3a3a3a" />
<circle cx="473.60" cy="52.30" r="1.30" fill="#3a3a3a" />
<circle cx="473.60" cy="56.45" r="1.30" fill="#3a3a3a" />
<circle cx="473.60" cy="85.25" r="1.30" fill="#3a3a3a" />
<circle cx="473.60" cy="91.40" r="1.30" fill="#3a3a3a" />
<circle cx="473.90" cy="75.48" r="1.30" fill="#3a3a3a" />
<rect x="478.05" y="67.58" width="2.30" height="2.30" fill="#2e7f9f" />
<rect x="478.05" y="81.51" width="2.30" height="2.30" fill="#2e7f9f" />
<rect x="478.45" y="90.76" width="2.30" height="2.30" fill="#2e7f9f" />
<rect x="479.15" y="96.39" width="2.30" height="2.30" fill="#2e7f9f" />
<rect x="476.45" y="97.86" width="2.30" height="2.30" fill="#2e7f9f" />
<rect x="479.55" y="98.98" width="2.30" height="2.30" fill="#2e7f9f" />
<rect x="477.25" y="102.27" width="2.30" height="2.30" fill="#2e7f9f" />
<rect x="479.15" y="102.27" width="2.30" height="2.30" fill="#2e7f9f" />
<rect x="478.05" y="106.85" width="2.30" height="2.30" fill="#2e7f9f" />
<rect x="478.05" y="109.88" width="2.30" height="2.30" fill="#2e7f9f" />
<line x1="476.30" y1="117.00" x2="476.30" y2="120.00" stroke="#231f20" stroke-width="0.9" />
<text x="478.20" y="126.60" font-size="7.1" text-anchor="end" fill="#231f20" transform="rotate(-45 478.20 126.60)">Monocytes</text>
<rect x="485.85" y="68.56" width="4.20" height="48.44" fill="#a5a5a5" />
<rect x="491.25" y="103.16" width="4.20" height="13.84" fill="#9bb5cd" />
<line x1="487.95" y1="62.51" x2="487.95" y2="74.62" stroke="#333" stroke-width="0.7" />
<line x1="486.65" y1="62.51" x2="489.25" y2="62.51" stroke="#333" stroke-width="0.7" />
<line x1="486.65" y1="74.62" x2="489.25" y2="74.62" stroke="#333" stroke-width="0.7" />
<line x1="493.35" y1="99.27" x2="493.35" y2="107.05" stroke="#2e7f9f" stroke-width="0.7" />
<line x1="492.05" y1="99.27" x2="494.65" y2="99.27" stroke="#2e7f9f" stroke-width="0.7" />
<line x1="492.05" y1="107.05" x2="494.65" y2="107.05" stroke="#2e7f9f" stroke-width="0.7" />
<circle cx="488.15" cy="48.32" r="1.30" fill="#3a3a3a" />
<circle cx="485.95" cy="51.09" r="1.30" fill="#3a3a3a" />
<circle cx="489.05" cy="54.89" r="1.30" fill="#3a3a3a" />
<circle cx="488.55" cy="77.21" r="1.30" fill="#3a3a3a" />
<circle cx="488.55" cy="79.98" r="1.30" fill="#3a3a3a" />
<circle cx="488.15" cy="102.90" r="1.30" fill="#3a3a3a" />
<rect x="494.20" y="96.82" width="2.30" height="2.30" fill="#2e7f9f" />
<rect x="492.40" y="97.94" width="2.30" height="2.30" fill="#2e7f9f" />
<rect x="491.60" y="99.93" width="2.30" height="2.30" fill="#2e7f9f" />
<rect x="492.70" y="103.74" width="2.30" height="2.30" fill="#2e7f9f" />
<rect x="492.40" y="107.63" width="2.30" height="2.30" fill="#2e7f9f" />
<rect x="492.40" y="110.66" width="2.30" height="2.30" fill="#2e7f9f" />
<line x1="490.65" y1="117.00" x2="490.65" y2="120.00" stroke="#231f20" stroke-width="0.9" />
<text x="492.55" y="126.60" font-size="7.1" text-anchor="end" fill="#231f20" transform="rotate(-45 492.55 126.60)">B cells</text>
<rect x="500.20" y="70.29" width="4.20" height="46.71" fill="#a5a5a5" />
<rect x="505.60" y="114.41" width="4.20" height="2.59" fill="#9bb5cd" />
<line x1="502.30" y1="64.23" x2="502.30" y2="76.34" stroke="#333" stroke-width="0.7" />
<line x1="501.00" y1="64.23" x2="503.60" y2="64.23" stroke="#333" stroke-width="0.7" />
<line x1="501.00" y1="76.34" x2="503.60" y2="76.34" stroke="#333" stroke-width="0.7" />
<line x1="507.70" y1="110.51" x2="507.70" y2="116.57" stroke="#2e7f9f" stroke-width="0.7" />
<line x1="506.40" y1="110.51" x2="509.00" y2="110.51" stroke="#2e7f9f" stroke-width="0.7" />
<line x1="506.40" y1="116.57" x2="509.00" y2="116.57" stroke="#2e7f9f" stroke-width="0.7" />
<circle cx="504.60" cy="58.01" r="1.30" fill="#3a3a3a" />
<circle cx="501.20" cy="60.34" r="1.30" fill="#3a3a3a" />
<circle cx="502.30" cy="66.48" r="1.30" fill="#3a3a3a" />
<circle cx="502.30" cy="68.30" r="1.30" fill="#3a3a3a" />
<circle cx="502.30" cy="72.63" r="1.30" fill="#3a3a3a" />
<circle cx="502.30" cy="95.72" r="1.30" fill="#3a3a3a" />
<rect x="505.05" y="113.25" width="2.30" height="2.30" fill="#2e7f9f" />
<rect x="506.75" y="111.87" width="2.30" height="2.30" fill="#2e7f9f" />
<rect x="508.35" y="113.08" width="2.30" height="2.30" fill="#2e7f9f" />
<rect x="506.75" y="114.12" width="2.30" height="2.30" fill="#2e7f9f" />
<line x1="505.00" y1="117.00" x2="505.00" y2="120.00" stroke="#231f20" stroke-width="0.9" />
<text x="506.90" y="126.60" font-size="7.1" text-anchor="end" fill="#231f20" transform="rotate(-45 506.90 126.60)">T cells</text>
<text x="392.80" y="64.60" font-size="7.00" text-anchor="middle" fill="#222222" textLength="2.80" lengthAdjust="spacingAndGlyphs">*</text>
<text x="407.00" y="75.00" font-size="7.00" text-anchor="middle" fill="#222222" textLength="2.80" lengthAdjust="spacingAndGlyphs">*</text>
<text x="421.50" y="71.30" font-size="7.00" text-anchor="middle" fill="#222222" textLength="8.40" lengthAdjust="spacingAndGlyphs">***</text>
<text x="435.70" y="75.70" font-size="7.00" text-anchor="middle" fill="#222222" textLength="8.40" lengthAdjust="spacingAndGlyphs">***</text>
<text x="450.80" y="66.00" font-size="7.00" text-anchor="middle" fill="#222222" textLength="5.60" lengthAdjust="spacingAndGlyphs">**</text>
<text x="465.00" y="51.50" font-size="7.00" text-anchor="middle" fill="#222222" textLength="2.80" lengthAdjust="spacingAndGlyphs">*</text>
<text x="479.70" y="68.10" font-size="7.00" text-anchor="middle" fill="#222222" textLength="5.60" lengthAdjust="spacingAndGlyphs">**</text>
<text x="493.80" y="47.20" font-size="7.00" text-anchor="middle" fill="#222222" textLength="11.20" lengthAdjust="spacingAndGlyphs">****</text>
<text x="513.80" y="112.10" font-size="7.00" text-anchor="middle" fill="#222222" textLength="11.20" lengthAdjust="spacingAndGlyphs">****</text>
<text x="48.75" y="189.50" font-size="6.50" fill="#2e2e2e" font-style="italic" textLength="9.50" lengthAdjust="spacingAndGlyphs">WT</text>
<text x="59.60" y="189.50" font-size="6.50" fill="#2e2e2e" textLength="6.40" lengthAdjust="spacingAndGlyphs">or</text>
<text x="47.50" y="199.00" font-size="6.50" fill="#2f83a6" font-style="italic" textLength="41.30" lengthAdjust="spacingAndGlyphs">Vav<tspan dy="-2.34" font-size="3.90">Cre+</tspan><tspan dy="2.34">Rxrab</tspan><tspan dy="-2.34" font-size="3.90">fl/fl</tspan></text>
<g transform="translate(51.30,203.00)">
<path d="M38.3,12.3 C42.5,13.2 45,15.8 44.6,18.8 C44.2,22.6 38.5,24 32.5,23.3 C27.5,22.7 24,21.2 20.2,19.3" fill="none" stroke="#6a6a6a" stroke-width="1.35" stroke-linecap="round"/>
<path d="M38.3,12.3 C42.5,13.2 45,15.8 44.6,18.8 C44.2,22.6 38.5,24 32.5,23.3 C27.5,22.7 24,21.2 20.2,19.3" fill="none" stroke="#ffffff" stroke-width="0.7" stroke-linecap="round"/>
<path d="M0,10.3 C1,8.5 3.5,6.3 7.5,4.3 L11.8,3 C15,1.5 20,-0.3 26.5,-0.5 C32,-0.5 37,3.3 38.8,8.8 C39.5,11.2 39,13.6 37,15 C35,16.3 32,16.4 29.5,16.4 L28.5,17.8 L22,17.5 L22.3,16.3 L25.5,15.9 C22,15.3 18,15.1 14.5,14.6 L14,16.5 L10.8,16.5 L11,15.2 L12,14.3 C9.5,14.5 8,14.3 7,14 L5,15.1 L3.6,14.2 L4.2,13 C2.5,12.4 0.8,11.5 0,10.3 Z" fill="#ffffff" stroke="#4a4a4a" stroke-width="0.65" stroke-linejoin="round"/>
<circle cx="9.8" cy="2.7" r="2.0" fill="#ffffff" stroke="#4a4a4a" stroke-width="0.6"/>
<circle cx="9.9" cy="3.0" r="1.0" fill="none" stroke="#777" stroke-width="0.3"/>
<path d="M32.5,7.2 C29.8,8.8 28.5,12 30,16 M14.3,9.2 C13.8,11.6 14,13.2 14.5,14.6" fill="none" stroke="#666" stroke-width="0.4"/>
<path d="M16,4h.4M20,3h.4M24,2h.4M29,2.5h.4M33,4h.4M36,7h.4M18,6.5h.4M23,5h.4M28,5.5h.4M32,8h.4M37,11h.4M21,13h.4M26,14h.4M34,13h.4M17,12.5h.4M24,11.8h.4M30,12h.4M9,8h.4M6,10h.4M10,11h.4M12,6.5h.4M8,12.5h.4" stroke="#888" stroke-width="0.4" fill="none"/>
<path d="M1.8,8.6 L-1.8,5.6 M2,8.2 L-0.8,3.8 M2.6,7.7 L0.8,3.4 M3.4,7.2 L2.8,3.6 M1.6,9.2 L-2,8.2 M1.6,9.8 L-1.6,10.8 M4.4,6.6 L4.6,3.8" stroke="#444" stroke-width="0.38" fill="none"/>
<circle cx="5.8" cy="8.2" r="0.75" fill="#222"/>
<path d="M3.2,12.6 L8.4,13 L9,14.8 L5.2,15.4 L3.8,14.4 Z" fill="#222"/>
<path d="M22,17.6 L28.5,17.9 M10.8,16.6 L14,16.6" stroke="#2a2a2a" stroke-width="1.0"/>
<text x="14.20" y="10.40" font-size="6.60" fill="#2e2e2e" textLength="19.20" lengthAdjust="spacingAndGlyphs">CD45.2<tspan dy="-2.38" font-size="3.96">+</tspan></text>
</g>
<path transform="translate(63.20,227.80) rotate(-3) scale(0.96)" d="M1.2,0.6 C0,0.8 -0.2,2.6 1,3.4 C1.8,4 1.9,5.5 1.9,7.5 L2.2,17.5 C2.2,19.5 1.8,20.6 1,21.4 C0,22.4 0.5,24.2 1.8,24 C2.5,23.9 2.8,23.4 3.1,23.1 C3.5,23.6 4,24.1 4.8,24 C6,23.8 6.2,22.2 5.2,21.4 C4.4,20.7 4.3,19.5 4.3,17.5 L4.1,7.5 C4.1,5.5 4.3,4.1 5.2,3.4 C6.3,2.5 6,0.6 4.7,0.7 C3.9,0.7 3.4,1.3 3,1.7 C2.6,1.2 2.1,0.5 1.2,0.6 Z" fill="#fbf0cc" stroke="#c89e4c" stroke-width="0.75"/>
<line x1="73.00" y1="227.50" x2="73.00" y2="257.50" stroke="#231f20" stroke-width="1.1" />
<path d="M73.00,260.30 L70.20,255.05 L75.80,255.05 Z" fill="#231f20"/>
<text x="89.50" y="239.60" font-size="6.50" fill="#2e2e2e" text-anchor="middle" textLength="21.00" lengthAdjust="spacingAndGlyphs">20×10<tspan dy="-2.34" font-size="3.90">6</tspan></text>
<text x="89.30" y="248.20" font-size="6.50" fill="#2e2e2e" text-anchor="middle" textLength="23.50" lengthAdjust="spacingAndGlyphs">BM cells</text>
<polygon transform="translate(43.60,248.20) scale(1)" points="0,0 5.6,3 4.3,4.6 8,7 6.8,8.4 10,13.8 3.6,10.3 4.9,8.7 1,6.5 2.4,4.8" fill="#1a1a1a"/>
<g transform="translate(50.60,265.00)">
<path d="M38.3,12.3 C42.5,13.2 45,15.8 44.6,18.8 C44.2,22.6 38.5,24 32.5,23.3 C27.5,22.7 24,21.2 20.2,19.3" fill="none" stroke="#6a6a6a" stroke-width="1.35" stroke-linecap="round"/>
<path d="M38.3,12.3 C42.5,13.2 45,15.8 44.6,18.8 C44.2,22.6 38.5,24 32.5,23.3 C27.5,22.7 24,21.2 20.2,19.3" fill="none" stroke="#ececec" stroke-width="0.7" stroke-linecap="round"/>
<path d="M0,10.3 C1,8.5 3.5,6.3 7.5,4.3 L11.8,3 C15,1.5 20,-0.3 26.5,-0.5 C32,-0.5 37,3.3 38.8,8.8 C39.5,11.2 39,13.6 37,15 C35,16.3 32,16.4 29.5,16.4 L28.5,17.8 L22,17.5 L22.3,16.3 L25.5,15.9 C22,15.3 18,15.1 14.5,14.6 L14,16.5 L10.8,16.5 L11,15.2 L12,14.3 C9.5,14.5 8,14.3 7,14 L5,15.1 L3.6,14.2 L4.2,13 C2.5,12.4 0.8,11.5 0,10.3 Z" fill="#dadada" stroke="#4a4a4a" stroke-width="0.65" stroke-linejoin="round"/>
<circle cx="9.8" cy="2.7" r="2.0" fill="#dadada" stroke="#4a4a4a" stroke-width="0.6"/>
<circle cx="9.9" cy="3.0" r="1.0" fill="none" stroke="#777" stroke-width="0.3"/>
<path d="M32.5,7.2 C29.8,8.8 28.5,12 30,16 M14.3,9.2 C13.8,11.6 14,13.2 14.5,14.6" fill="none" stroke="#666" stroke-width="0.4"/>
<path d="M16,4h.4M20,3h.4M24,2h.4M29,2.5h.4M33,4h.4M36,7h.4M18,6.5h.4M23,5h.4M28,5.5h.4M32,8h.4M37,11h.4M21,13h.4M26,14h.4M34,13h.4M17,12.5h.4M24,11.8h.4M30,12h.4M9,8h.4M6,10h.4M10,11h.4M12,6.5h.4M8,12.5h.4" stroke="#888" stroke-width="0.4" fill="none"/>
<path d="M1.8,8.6 L-1.8,5.6 M2,8.2 L-0.8,3.8 M2.6,7.7 L0.8,3.4 M3.4,7.2 L2.8,3.6 M1.6,9.2 L-2,8.2 M1.6,9.8 L-1.6,10.8 M4.4,6.6 L4.6,3.8" stroke="#444" stroke-width="0.38" fill="none"/>
<circle cx="5.8" cy="8.2" r="0.75" fill="#222"/>
<path d="M3.2,12.6 L8.4,13 L9,14.8 L5.2,15.4 L3.8,14.4 Z" fill="#222"/>
<path d="M22,17.6 L28.5,17.9 M10.8,16.6 L14,16.6" stroke="#2a2a2a" stroke-width="1.0"/>
<text x="14.20" y="10.40" font-size="6.60" fill="#2e2e2e" textLength="19.20" lengthAdjust="spacingAndGlyphs">CD45.1<tspan dy="-2.38" font-size="3.96">+</tspan></text>
</g>
<text x="61.00" y="290.30" font-size="6.50" fill="#2e2e2e" textLength="9.30" lengthAdjust="spacingAndGlyphs">WT</text>
<line x1="85.50" y1="271.30" x2="141.00" y2="271.30" stroke="#231f20" stroke-width="1.1" />
<path d="M143.80,271.30 L138.55,268.50 L138.55,274.10 Z" fill="#231f20"/>
<line x1="133.75" y1="271.30" x2="133.75" y2="275.00" stroke="#231f20" stroke-width="0.8" />
<text x="133.75" y="283.80" font-size="6.50" fill="#2e2e2e" text-anchor="middle">16</text>
<text x="136.40" y="257.00" font-size="6.50" fill="#2e2e2e" text-anchor="middle" textLength="25.00" lengthAdjust="spacingAndGlyphs">BM HSC</text>
<text x="136.40" y="265.20" font-size="6.50" fill="#2e2e2e" text-anchor="middle" textLength="30.30" lengthAdjust="spacingAndGlyphs">chimerism</text>
<text x="118.00" y="295.60" font-size="9.30" fill="#2e2e2e" text-anchor="middle" textLength="18.50" lengthAdjust="spacingAndGlyphs">Hours</text>
<line x1="226.90" y1="205.80" x2="226.90" y2="287.40" stroke="#231f20" stroke-width="1" />
<line x1="226.40" y1="286.90" x2="281.30" y2="286.90" stroke="#231f20" stroke-width="1" />
<line x1="223.90" y1="286.90" x2="226.90" y2="286.90" stroke="#231f20" stroke-width="0.9" />
<text x="220.10" y="289.50" font-size="7.30" fill="#2e2e2e" text-anchor="end" textLength="3.20" lengthAdjust="spacingAndGlyphs">0</text>
<line x1="223.90" y1="270.78" x2="226.90" y2="270.78" stroke="#231f20" stroke-width="0.9" />
<text x="220.10" y="273.38" font-size="7.30" fill="#2e2e2e" text-anchor="end" textLength="6.40" lengthAdjust="spacingAndGlyphs">50</text>
<line x1="223.90" y1="254.66" x2="226.90" y2="254.66" stroke="#231f20" stroke-width="0.9" />
<text x="220.10" y="257.26" font-size="7.30" fill="#2e2e2e" text-anchor="end" textLength="9.60" lengthAdjust="spacingAndGlyphs">100</text>
<line x1="223.90" y1="238.54" x2="226.90" y2="238.54" stroke="#231f20" stroke-width="0.9" />
<text x="220.10" y="241.14" font-size="7.30" fill="#2e2e2e" text-anchor="end" textLength="9.60" lengthAdjust="spacingAndGlyphs">150</text>
<line x1="223.90" y1="222.42" x2="226.90" y2="222.42" stroke="#231f20" stroke-width="0.9" />
<text x="220.10" y="225.02" font-size="7.30" fill="#2e2e2e" text-anchor="end" textLength="9.60" lengthAdjust="spacingAndGlyphs">200</text>
<line x1="223.90" y1="206.30" x2="226.90" y2="206.30" stroke="#231f20" stroke-width="0.9" />
<text x="220.10" y="208.90" font-size="7.30" fill="#2e2e2e" text-anchor="end" textLength="9.60" lengthAdjust="spacingAndGlyphs">250</text>
<text x="204.20" y="245.30" font-size="8.60" fill="#2e2e2e" text-anchor="middle" textLength="67.00" lengthAdjust="spacingAndGlyphs" transform="rotate(-90 204.20 245.30)">Cells per 10<tspan dy="-3.10" font-size="5.16">6</tspan><tspan dy="3.10"> BM cells</tspan></text>
<path transform="translate(199.30,183.00) rotate(-3) scale(1)" d="M1.2,0.6 C0,0.8 -0.2,2.6 1,3.4 C1.8,4 1.9,5.5 1.9,7.5 L2.2,17.5 C2.2,19.5 1.8,20.6 1,21.4 C0,22.4 0.5,24.2 1.8,24 C2.5,23.9 2.8,23.4 3.1,23.1 C3.5,23.6 4,24.1 4.8,24 C6,23.8 6.2,22.2 5.2,21.4 C4.4,20.7 4.3,19.5 4.3,17.5 L4.1,7.5 C4.1,5.5 4.3,4.1 5.2,3.4 C6.3,2.5 6,0.6 4.7,0.7 C3.9,0.7 3.4,1.3 3,1.7 C2.6,1.2 2.1,0.5 1.2,0.6 Z" fill="#fbf0cc" stroke="#c89e4c" stroke-width="0.75"/>
<circle cx="229.30" cy="187.00" r="1.80" fill="#4a4a4a" />
<text x="233.00" y="189.60" font-size="6.50" fill="#2e2e2e" textLength="9.60" lengthAdjust="spacingAndGlyphs">WT</text>
<rect x="227.70" y="194.70" width="3.20" height="3.20" fill="#3f86a6" />
<text x="233.00" y="198.80" font-size="6.50" fill="#2f83a6" font-style="italic" textLength="43.00" lengthAdjust="spacingAndGlyphs">Vav<tspan dy="-2.34" font-size="3.90">Cre+</tspan><tspan dy="2.34">Rxrab</tspan><tspan dy="-2.34" font-size="3.90">fl/fl</tspan></text>
<text x="231.00" y="208.80" font-size="6.50" fill="#2e2e2e" textLength="15.00" lengthAdjust="spacingAndGlyphs">HSCs</text>
<rect x="237.00" y="241.44" width="16.30" height="45.46" fill="#a5a5a5" />
<rect x="255.70" y="255.63" width="16.30" height="31.27" fill="#8fabc5" />
<line x1="245.20" y1="236.28" x2="245.20" y2="245.96" stroke="#222" stroke-width="0.7" />
<line x1="240.90" y1="236.28" x2="249.50" y2="236.28" stroke="#222" stroke-width="0.7" />
<line x1="240.90" y1="245.96" x2="249.50" y2="245.96" stroke="#222" stroke-width="0.7" />
<line x1="263.80" y1="252.73" x2="263.80" y2="258.21" stroke="#2e7f9f" stroke-width="0.7" />
<line x1="260.20" y1="252.73" x2="267.40" y2="252.73" stroke="#2e7f9f" stroke-width="0.7" />
<line x1="260.20" y1="258.21" x2="267.40" y2="258.21" stroke="#2e7f9f" stroke-width="0.7" />
<circle cx="243.20" cy="220.30" r="1.25" fill="#333" />
<circle cx="246.70" cy="220.00" r="1.25" fill="#333" />
<circle cx="243.60" cy="231.20" r="1.25" fill="#333" />
<circle cx="246.70" cy="232.40" r="1.25" fill="#333" />
<circle cx="243.20" cy="246.00" r="1.25" fill="#333" />
<circle cx="245.90" cy="246.00" r="1.25" fill="#333" />
<circle cx="248.60" cy="246.00" r="1.25" fill="#333" />
<circle cx="245.20" cy="248.30" r="1.25" fill="#333" />
<circle cx="242.30" cy="252.00" r="1.25" fill="#333" />
<circle cx="249.00" cy="252.30" r="1.25" fill="#333" />
<circle cx="245.50" cy="251.30" r="1.25" fill="#333" />
<circle cx="244.00" cy="253.50" r="1.25" fill="#333" />
<circle cx="247.10" cy="253.50" r="1.25" fill="#333" />
<circle cx="245.50" cy="255.40" r="1.25" fill="#333" />
<rect x="261.45" y="234.35" width="1.50" height="1.50" fill="#2e7f9f" />
<rect x="264.25" y="234.35" width="1.50" height="1.50" fill="#2e7f9f" />
<rect x="262.50" y="238.30" width="2.20" height="2.20" fill="#2e7f9f" />
<rect x="264.30" y="243.70" width="2.20" height="2.20" fill="#2e7f9f" />
<rect x="261.00" y="245.60" width="2.20" height="2.20" fill="#2e7f9f" />
<rect x="262.90" y="250.20" width="2.20" height="2.20" fill="#2e7f9f" />
<rect x="261.00" y="254.10" width="2.20" height="2.20" fill="#2e7f9f" />
<rect x="264.30" y="252.70" width="2.20" height="2.20" fill="#2e7f9f" />
<rect x="261.00" y="257.30" width="2.20" height="2.20" fill="#2e7f9f" />
<rect x="263.70" y="256.80" width="2.20" height="2.20" fill="#2e7f9f" />
<rect x="265.40" y="259.70" width="2.20" height="2.20" fill="#2e7f9f" />
<rect x="259.10" y="260.20" width="2.20" height="2.20" fill="#2e7f9f" />
<rect x="262.50" y="260.60" width="2.20" height="2.20" fill="#2e7f9f" />
<rect x="263.70" y="262.90" width="2.20" height="2.20" fill="#2e7f9f" />
<rect x="260.80" y="264.30" width="2.20" height="2.20" fill="#2e7f9f" />
<rect x="261.70" y="265.70" width="2.20" height="2.20" fill="#2e7f9f" />
<text x="318.75" y="185.00" font-size="6.50" fill="#2e2e2e" font-style="italic" textLength="9.50" lengthAdjust="spacingAndGlyphs">WT</text>
<text x="329.60" y="185.00" font-size="6.50" fill="#2e2e2e" textLength="6.40" lengthAdjust="spacingAndGlyphs">or</text>
<text x="317.50" y="194.60" font-size="6.50" fill="#2f83a6" font-style="italic" textLength="42.50" lengthAdjust="spacingAndGlyphs">Vav<tspan dy="-2.34" font-size="3.90">Cre+</tspan><tspan dy="2.34">Rxrab</tspan><tspan dy="-2.34" font-size="3.90">fl/fl</tspan></text>
<g transform="translate(316.50,198.00)">
<path d="M38.3,12.3 C42.5,13.2 45,15.8 44.6,18.8 C44.2,22.6 38.5,24 32.5,23.3 C27.5,22.7 24,21.2 20.2,19.3" fill="none" stroke="#6a6a6a" stroke-width="1.35" stroke-linecap="round"/>
<path d="M38.3,12.3 C42.5,13.2 45,15.8 44.6,18.8 C44.2,22.6 38.5,24 32.5,23.3 C27.5,22.7 24,21.2 20.2,19.3" fill="none" stroke="#ffffff" stroke-width="0.7" stroke-linecap="round"/>
<path d="M0,10.3 C1,8.5 3.5,6.3 7.5,4.3 L11.8,3 C15,1.5 20,-0.3 26.5,-0.5 C32,-0.5 37,3.3 38.8,8.8 C39.5,11.2 39,13.6 37,15 C35,16.3 32,16.4 29.5,16.4 L28.5,17.8 L22,17.5 L22.3,16.3 L25.5,15.9 C22,15.3 18,15.1 14.5,14.6 L14,16.5 L10.8,16.5 L11,15.2 L12,14.3 C9.5,14.5 8,14.3 7,14 L5,15.1 L3.6,14.2 L4.2,13 C2.5,12.4 0.8,11.5 0,10.3 Z" fill="#ffffff" stroke="#4a4a4a" stroke-width="0.65" stroke-linejoin="round"/>
<circle cx="9.8" cy="2.7" r="2.0" fill="#ffffff" stroke="#4a4a4a" stroke-width="0.6"/>
<circle cx="9.9" cy="3.0" r="1.0" fill="none" stroke="#777" stroke-width="0.3"/>
<path d="M32.5,7.2 C29.8,8.8 28.5,12 30,16 M14.3,9.2 C13.8,11.6 14,13.2 14.5,14.6" fill="none" stroke="#666" stroke-width="0.4"/>
<path d="M16,4h.4M20,3h.4M24,2h.4M29,2.5h.4M33,4h.4M36,7h.4M18,6.5h.4M23,5h.4M28,5.5h.4M32,8h.4M37,11h.4M21,13h.4M26,14h.4M34,13h.4M17,12.5h.4M24,11.8h.4M30,12h.4M9,8h.4M6,10h.4M10,11h.4M12,6.5h.4M8,12.5h.4" stroke="#888" stroke-width="0.4" fill="none"/>
<path d="M1.8,8.6 L-1.8,5.6 M2,8.2 L-0.8,3.8 M2.6,7.7 L0.8,3.4 M3.4,7.2 L2.8,3.6 M1.6,9.2 L-2,8.2 M1.6,9.8 L-1.6,10.8 M4.4,6.6 L4.6,3.8" stroke="#444" stroke-width="0.38" fill="none"/>
<circle cx="5.8" cy="8.2" r="0.75" fill="#222"/>
<path d="M3.2,12.6 L8.4,13 L9,14.8 L5.2,15.4 L3.8,14.4 Z" fill="#222"/>
<path d="M22,17.6 L28.5,17.9 M10.8,16.6 L14,16.6" stroke="#2a2a2a" stroke-width="1.0"/>
<text x="14.20" y="10.40" font-size="6.60" fill="#2e2e2e" textLength="19.20" lengthAdjust="spacingAndGlyphs">CD45.2<tspan dy="-2.38" font-size="3.96">+</tspan></text>
</g>
<text x="363.80" y="209.00" font-size="5.00" fill="#777">:</text>
<text x="380.50" y="193.80" font-size="6.50" fill="#2e2e2e" textLength="9.60" lengthAdjust="spacingAndGlyphs">WT</text>
<g transform="translate(372.00,198.00)">
<path d="M38.3,12.3 C42.5,13.2 45,15.8 44.6,18.8 C44.2,22.6 38.5,24 32.5,23.3 C27.5,22.7 24,21.2 20.2,19.3" fill="none" stroke="#6a6a6a" stroke-width="1.35" stroke-linecap="round"/>
<path d="M38.3,12.3 C42.5,13.2 45,15.8 44.6,18.8 C44.2,22.6 38.5,24 32.5,23.3 C27.5,22.7 24,21.2 20.2,19.3" fill="none" stroke="#ececec" stroke-width="0.7" stroke-linecap="round"/>
<path d="M0,10.3 C1,8.5 3.5,6.3 7.5,4.3 L11.8,3 C15,1.5 20,-0.3 26.5,-0.5 C32,-0.5 37,3.3 38.8,8.8 C39.5,11.2 39,13.6 37,15 C35,16.3 32,16.4 29.5,16.4 L28.5,17.8 L22,17.5 L22.3,16.3 L25.5,15.9 C22,15.3 18,15.1 14.5,14.6 L14,16.5 L10.8,16.5 L11,15.2 L12,14.3 C9.5,14.5 8,14.3 7,14 L5,15.1 L3.6,14.2 L4.2,13 C2.5,12.4 0.8,11.5 0,10.3 Z" fill="#dcdcdc" stroke="#4a4a4a" stroke-width="0.65" stroke-linejoin="round"/>
<circle cx="9.8" cy="2.7" r="2.0" fill="#dcdcdc" stroke="#4a4a4a" stroke-width="0.6"/>
<circle cx="9.9" cy="3.0" r="1.0" fill="none" stroke="#777" stroke-width="0.3"/>
<path d="M32.5,7.2 C29.8,8.8 28.5,12 30,16 M14.3,9.2 C13.8,11.6 14,13.2 14.5,14.6" fill="none" stroke="#666" stroke-width="0.4"/>
<path d="M16,4h.4M20,3h.4M24,2h.4M29,2.5h.4M33,4h.4M36,7h.4M18,6.5h.4M23,5h.4M28,5.5h.4M32,8h.4M37,11h.4M21,13h.4M26,14h.4M34,13h.4M17,12.5h.4M24,11.8h.4M30,12h.4M9,8h.4M6,10h.4M10,11h.4M12,6.5h.4M8,12.5h.4" stroke="#888" stroke-width="0.4" fill="none"/>
<path d="M1.8,8.6 L-1.8,5.6 M2,8.2 L-0.8,3.8 M2.6,7.7 L0.8,3.4 M3.4,7.2 L2.8,3.6 M1.6,9.2 L-2,8.2 M1.6,9.8 L-1.6,10.8 M4.4,6.6 L4.6,3.8" stroke="#444" stroke-width="0.38" fill="none"/>
<circle cx="5.8" cy="8.2" r="0.75" fill="#222"/>
<path d="M3.2,12.6 L8.4,13 L9,14.8 L5.2,15.4 L3.8,14.4 Z" fill="#222"/>
<path d="M22,17.6 L28.5,17.9 M10.8,16.6 L14,16.6" stroke="#2a2a2a" stroke-width="1.0"/>
<text x="14.20" y="10.40" font-size="6.60" fill="#2e2e2e" textLength="19.20" lengthAdjust="spacingAndGlyphs">CD45.1<tspan dy="-2.38" font-size="3.96">+</tspan></text>
</g>
<path transform="translate(352.80,227.60) rotate(-3) scale(1.02)" d="M1.2,0.6 C0,0.8 -0.2,2.6 1,3.4 C1.8,4 1.9,5.5 1.9,7.5 L2.2,17.5 C2.2,19.5 1.8,20.6 1,21.4 C0,22.4 0.5,24.2 1.8,24 C2.5,23.9 2.8,23.4 3.1,23.1 C3.5,23.6 4,24.1 4.8,24 C6,23.8 6.2,22.2 5.2,21.4 C4.4,20.7 4.3,19.5 4.3,17.5 L4.1,7.5 C4.1,5.5 4.3,4.1 5.2,3.4 C6.3,2.5 6,0.6 4.7,0.7 C3.9,0.7 3.4,1.3 3,1.7 C2.6,1.2 2.1,0.5 1.2,0.6 Z" fill="#fbf0cc" stroke="#c89e4c" stroke-width="0.75"/>
<line x1="363.75" y1="225.00" x2="363.75" y2="258.50" stroke="#231f20" stroke-width="1.1" />
<path d="M363.75,261.30 L360.95,256.05 L366.55,256.05 Z" fill="#231f20"/>
<text x="414.30" y="238.80" font-size="6.50" fill="#2e2e2e" text-anchor="middle" textLength="73.50" lengthAdjust="spacingAndGlyphs">500 LT-HSCs (CD45.2<tspan dy="-2.34" font-size="3.90">+</tspan><tspan dy="2.34">) +</tspan></text>
<text x="414.30" y="248.10" font-size="6.50" fill="#2e2e2e" text-anchor="middle" textLength="63.50" lengthAdjust="spacingAndGlyphs">10×10<tspan dy="-2.34" font-size="3.90">3</tspan><tspan dy="2.34"> LKs (CD45.1</tspan><tspan dy="-2.34" font-size="3.90">+</tspan><tspan dy="2.34">)</tspan></text>
<polygon transform="translate(332.60,248.40) scale(1.12)" points="0,0 5.6,3 4.3,4.6 8,7 6.8,8.4 10,13.8 3.6,10.3 4.9,8.7 1,6.5 2.4,4.8" fill="#1a1a1a"/>
<g transform="translate(340.00,263.20)">
<path d="M38.3,12.3 C42.5,13.2 45,15.8 44.6,18.8 C44.2,22.6 38.5,24 32.5,23.3 C27.5,22.7 24,21.2 20.2,19.3" fill="none" stroke="#6a6a6a" stroke-width="1.35" stroke-linecap="round"/>
<path d="M38.3,12.3 C42.5,13.2 45,15.8 44.6,18.8 C44.2,22.6 38.5,24 32.5,23.3 C27.5,22.7 24,21.2 20.2,19.3" fill="none" stroke="#ececec" stroke-width="0.7" stroke-linecap="round"/>
<path d="M0,10.3 C1,8.5 3.5,6.3 7.5,4.3 L11.8,3 C15,1.5 20,-0.3 26.5,-0.5 C32,-0.5 37,3.3 38.8,8.8 C39.5,11.2 39,13.6 37,15 C35,16.3 32,16.4 29.5,16.4 L28.5,17.8 L22,17.5 L22.3,16.3 L25.5,15.9 C22,15.3 18,15.1 14.5,14.6 L14,16.5 L10.8,16.5 L11,15.2 L12,14.3 C9.5,14.5 8,14.3 7,14 L5,15.1 L3.6,14.2 L4.2,13 C2.5,12.4 0.8,11.5 0,10.3 Z" fill="#dadada" stroke="#4a4a4a" stroke-width="0.65" stroke-linejoin="round"/>
<circle cx="9.8" cy="2.7" r="2.0" fill="#dadada" stroke="#4a4a4a" stroke-width="0.6"/>
<circle cx="9.9" cy="3.0" r="1.0" fill="none" stroke="#777" stroke-width="0.3"/>
<path d="M32.5,7.2 C29.8,8.8 28.5,12 30,16 M14.3,9.2 C13.8,11.6 14,13.2 14.5,14.6" fill="none" stroke="#666" stroke-width="0.4"/>
<path d="M16,4h.4M20,3h.4M24,2h.4M29,2.5h.4M33,4h.4M36,7h.4M18,6.5h.4M23,5h.4M28,5.5h.4M32,8h.4M37,11h.4M21,13h.4M26,14h.4M34,13h.4M17,12.5h.4M24,11.8h.4M30,12h.4M9,8h.4M6,10h.4M10,11h.4M12,6.5h.4M8,12.5h.4" stroke="#888" stroke-width="0.4" fill="none"/>
<path d="M1.8,8.6 L-1.8,5.6 M2,8.2 L-0.8,3.8 M2.6,7.7 L0.8,3.4 M3.4,7.2 L2.8,3.6 M1.6,9.2 L-2,8.2 M1.6,9.8 L-1.6,10.8 M4.4,6.6 L4.6,3.8" stroke="#444" stroke-width="0.38" fill="none"/>
<circle cx="5.8" cy="8.2" r="0.75" fill="#222"/>
<path d="M3.2,12.6 L8.4,13 L9,14.8 L5.2,15.4 L3.8,14.4 Z" fill="#222"/>
<path d="M22,17.6 L28.5,17.9 M10.8,16.6 L14,16.6" stroke="#2a2a2a" stroke-width="1.0"/>
<text x="14.20" y="10.40" font-size="6.60" fill="#2e2e2e" textLength="19.20" lengthAdjust="spacingAndGlyphs">CD45.1<tspan dy="-2.38" font-size="3.96">+</tspan></text>
</g>
<text x="349.00" y="289.50" font-size="6.50" fill="#2e2e2e" textLength="9.50" lengthAdjust="spacingAndGlyphs">WT</text>
<line x1="389.00" y1="272.00" x2="418.50" y2="272.00" stroke="#231f20" stroke-width="1.1" />
<path d="M421.30,272.00 L416.05,269.20 L416.05,274.80 Z" fill="#231f20"/>
<line x1="395.75" y1="272.00" x2="395.75" y2="275.30" stroke="#231f20" stroke-width="0.8" />
<text x="395.75" y="283.80" font-size="6.50" fill="#2e2e2e" text-anchor="middle">4</text>
<line x1="411.25" y1="272.00" x2="411.25" y2="275.30" stroke="#231f20" stroke-width="0.8" />
<text x="411.25" y="283.80" font-size="6.50" fill="#2e2e2e" text-anchor="middle">8</text>
<text x="428.75" y="274.60" font-size="6.50" fill="#2e2e2e" textLength="23.00" lengthAdjust="spacingAndGlyphs">Survival</text>
<text x="403.75" y="296.20" font-size="9.30" fill="#2e2e2e" text-anchor="middle" textLength="19.80" lengthAdjust="spacingAndGlyphs">Weeks</text>
<defs><filter id="bl" x="-20%" y="-20%" width="140%" height="140%"><feGaussianBlur stdDeviation="0.5"/></filter></defs>
<text x="114.90" y="327.60" font-size="6.30" fill="#2e2e2e" text-anchor="middle" textLength="42.50" lengthAdjust="spacingAndGlyphs">CD45.2<tspan dy="-2.27" font-size="3.78">+</tspan><tspan dy="2.27">/Lin</tspan><tspan dy="-2.27" font-size="3.78">neg</tspan></text>
<path d="M99.1,349.6h0.55v0.55h-0.55zM102.0,342.5h0.55v0.55h-0.55zM99.0,346.1h0.55v0.55h-0.55zM101.3,355.4h0.55v0.55h-0.55zM99.1,336.3h0.55v0.55h-0.55zM101.6,350.4h0.55v0.55h-0.55zM102.7,354.5h0.55v0.55h-0.55zM100.6,344.4h0.55v0.55h-0.55zM104.0,344.3h0.55v0.55h-0.55zM99.7,337.5h0.55v0.55h-0.55zM100.8,347.8h0.55v0.55h-0.55zM100.3,346.1h0.55v0.55h-0.55zM101.1,352.1h0.55v0.55h-0.55zM102.1,348.3h0.55v0.55h-0.55zM98.4,352.2h0.55v0.55h-0.55zM98.9,345.2h0.55v0.55h-0.55zM98.8,346.6h0.55v0.55h-0.55zM99.7,348.3h0.55v0.55h-0.55zM105.0,346.2h0.55v0.55h-0.55zM101.8,336.0h0.55v0.55h-0.55zM100.3,351.9h0.55v0.55h-0.55zM100.6,349.6h0.55v0.55h-0.55zM100.8,338.6h0.55v0.55h-0.55zM101.4,340.1h0.55v0.55h-0.55zM103.1,342.6h0.55v0.55h-0.55zM101.6,346.6h0.55v0.55h-0.55zM101.9,341.8h0.55v0.55h-0.55zM102.0,345.6h0.55v0.55h-0.55zM102.3,351.6h0.55v0.55h-0.55zM100.9,340.4h0.55v0.55h-0.55zM101.7,350.3h0.55v0.55h-0.55zM102.8,343.6h0.55v0.55h-0.55zM101.4,350.7h0.55v0.55h-0.55zM101.1,348.3h0.55v0.55h-0.55zM100.9,341.8h0.55v0.55h-0.55zM99.4,343.4h0.55v0.55h-0.55zM101.5,358.7h0.55v0.55h-0.55zM102.0,355.0h0.55v0.55h-0.55zM101.7,352.2h0.55v0.55h-0.55zM100.9,352.8h0.55v0.55h-0.55zM103.0,344.0h0.55v0.55h-0.55zM99.8,362.3h0.55v0.55h-0.55zM101.0,354.4h0.55v0.55h-0.55zM101.8,337.5h0.55v0.55h-0.55zM103.9,360.8h0.55v0.55h-0.55zM100.9,352.6h0.55v0.55h-0.55zM100.9,339.5h0.55v0.55h-0.55zM100.6,349.6h0.55v0.55h-0.55zM102.2,352.3h0.55v0.55h-0.55zM100.8,357.4h0.55v0.55h-0.55zM99.7,352.9h0.55v0.55h-0.55zM102.1,344.3h0.55v0.55h-0.55zM98.4,339.3h0.55v0.55h-0.55zM101.0,350.8h0.55v0.55h-0.55zM102.7,338.6h0.55v0.55h-0.55zM100.7,351.8h0.55v0.55h-0.55zM101.7,365.1h0.55v0.55h-0.55zM102.0,339.3h0.55v0.55h-0.55zM100.2,348.4h0.55v0.55h-0.55zM103.9,351.5h0.55v0.55h-0.55zM100.8,359.1h0.55v0.55h-0.55zM100.6,361.5h0.55v0.55h-0.55zM99.8,342.8h0.55v0.55h-0.55zM101.6,358.0h0.55v0.55h-0.55zM101.6,349.0h0.55v0.55h-0.55zM98.3,340.9h0.55v0.55h-0.55zM99.9,342.3h0.55v0.55h-0.55zM101.5,343.9h0.55v0.55h-0.55zM101.7,347.3h0.55v0.55h-0.55z" fill="#4f6fd2" opacity="0.55"/>
<path d="M99.9,382.1h0.6v0.6h-0.6zM106.3,386.2h0.6v0.6h-0.6zM115.0,380.5h0.6v0.6h-0.6zM104.1,382.6h0.6v0.6h-0.6zM121.2,382.9h0.6v0.6h-0.6zM114.7,382.5h0.6v0.6h-0.6zM112.2,384.6h0.6v0.6h-0.6zM101.2,369.7h0.6v0.6h-0.6zM101.6,372.9h0.6v0.6h-0.6zM107.8,369.7h0.6v0.6h-0.6zM116.7,375.0h0.6v0.6h-0.6zM110.0,376.1h0.6v0.6h-0.6zM113.3,385.3h0.6v0.6h-0.6zM120.2,381.0h0.6v0.6h-0.6zM101.5,376.1h0.6v0.6h-0.6zM101.6,374.3h0.6v0.6h-0.6zM114.9,386.1h0.6v0.6h-0.6zM114.0,382.9h0.6v0.6h-0.6zM99.5,375.4h0.6v0.6h-0.6zM102.7,382.3h0.6v0.6h-0.6zM104.2,384.7h0.6v0.6h-0.6zM113.1,377.0h0.6v0.6h-0.6zM105.6,387.0h0.6v0.6h-0.6zM109.2,370.1h0.6v0.6h-0.6zM108.8,377.8h0.6v0.6h-0.6zM109.2,386.4h0.6v0.6h-0.6zM111.3,372.4h0.6v0.6h-0.6zM101.8,384.8h0.6v0.6h-0.6zM104.7,387.0h0.6v0.6h-0.6zM112.0,380.8h0.6v0.6h-0.6zM104.6,382.1h0.6v0.6h-0.6zM104.4,380.4h0.6v0.6h-0.6zM99.9,374.6h0.6v0.6h-0.6zM107.3,381.9h0.6v0.6h-0.6zM100.9,381.8h0.6v0.6h-0.6zM105.7,377.9h0.6v0.6h-0.6zM104.4,382.8h0.6v0.6h-0.6zM110.3,368.5h0.6v0.6h-0.6zM100.4,378.1h0.6v0.6h-0.6zM112.3,381.9h0.6v0.6h-0.6zM101.5,378.1h0.6v0.6h-0.6zM101.6,386.5h0.6v0.6h-0.6zM99.4,375.2h0.6v0.6h-0.6zM105.7,380.2h0.6v0.6h-0.6zM115.1,377.9h0.6v0.6h-0.6zM109.1,385.9h0.6v0.6h-0.6zM113.7,374.7h0.6v0.6h-0.6zM111.6,379.4h0.6v0.6h-0.6zM99.4,378.5h0.6v0.6h-0.6zM99.9,371.5h0.6v0.6h-0.6zM106.9,393.0h0.6v0.6h-0.6zM125.9,379.6h0.6v0.6h-0.6zM107.6,377.5h0.6v0.6h-0.6zM110.7,384.4h0.6v0.6h-0.6zM100.7,381.6h0.6v0.6h-0.6zM103.8,379.6h0.6v0.6h-0.6zM104.3,378.3h0.6v0.6h-0.6zM105.8,383.9h0.6v0.6h-0.6zM109.7,374.4h0.6v0.6h-0.6zM112.0,379.4h0.6v0.6h-0.6zM106.1,380.8h0.6v0.6h-0.6zM104.6,388.1h0.6v0.6h-0.6zM99.3,390.1h0.6v0.6h-0.6zM108.7,375.6h0.6v0.6h-0.6zM99.6,386.5h0.6v0.6h-0.6zM113.0,371.7h0.6v0.6h-0.6zM107.0,391.9h0.6v0.6h-0.6zM112.9,380.2h0.6v0.6h-0.6zM101.1,380.7h0.6v0.6h-0.6zM112.8,380.2h0.6v0.6h-0.6zM101.6,379.6h0.6v0.6h-0.6zM121.3,378.2h0.6v0.6h-0.6zM101.5,387.7h0.6v0.6h-0.6zM109.0,385.7h0.6v0.6h-0.6zM110.0,370.7h0.6v0.6h-0.6zM106.9,388.6h0.6v0.6h-0.6zM106.7,380.2h0.6v0.6h-0.6zM103.0,380.3h0.6v0.6h-0.6zM104.8,385.2h0.6v0.6h-0.6zM99.8,377.0h0.6v0.6h-0.6zM113.6,387.0h0.6v0.6h-0.6zM110.0,386.1h0.6v0.6h-0.6zM102.7,385.2h0.6v0.6h-0.6zM106.1,389.0h0.6v0.6h-0.6zM109.6,375.4h0.6v0.6h-0.6zM106.5,378.4h0.6v0.6h-0.6zM101.8,371.5h0.6v0.6h-0.6zM108.8,378.7h0.6v0.6h-0.6zM106.2,379.6h0.6v0.6h-0.6zM103.6,390.3h0.6v0.6h-0.6zM102.5,384.0h0.6v0.6h-0.6zM107.1,376.5h0.6v0.6h-0.6zM103.8,378.7h0.6v0.6h-0.6zM108.4,381.9h0.6v0.6h-0.6zM106.8,381.0h0.6v0.6h-0.6zM103.9,383.5h0.6v0.6h-0.6zM104.5,382.4h0.6v0.6h-0.6zM105.0,384.9h0.6v0.6h-0.6zM116.6,367.4h0.6v0.6h-0.6zM106.1,380.4h0.6v0.6h-0.6zM122.0,386.6h0.6v0.6h-0.6zM101.6,381.0h0.6v0.6h-0.6zM106.6,387.0h0.6v0.6h-0.6zM102.1,375.9h0.6v0.6h-0.6zM104.4,384.6h0.6v0.6h-0.6zM101.2,381.4h0.6v0.6h-0.6zM114.7,375.3h0.6v0.6h-0.6zM118.0,380.4h0.6v0.6h-0.6zM101.7,393.6h0.6v0.6h-0.6zM102.2,372.0h0.6v0.6h-0.6zM106.1,376.3h0.6v0.6h-0.6zM116.6,374.6h0.6v0.6h-0.6zM103.5,375.9h0.6v0.6h-0.6zM102.1,379.4h0.6v0.6h-0.6zM110.7,381.8h0.6v0.6h-0.6zM105.0,394.6h0.6v0.6h-0.6zM98.8,377.2h0.6v0.6h-0.6zM114.9,381.5h0.6v0.6h-0.6zM104.5,381.4h0.6v0.6h-0.6zM102.3,387.1h0.6v0.6h-0.6zM108.0,382.6h0.6v0.6h-0.6zM100.0,383.3h0.6v0.6h-0.6zM102.6,393.5h0.6v0.6h-0.6zM113.5,380.0h0.6v0.6h-0.6zM114.8,381.3h0.6v0.6h-0.6zM103.9,379.5h0.6v0.6h-0.6zM121.5,385.0h0.6v0.6h-0.6zM107.8,386.7h0.6v0.6h-0.6zM107.5,387.1h0.6v0.6h-0.6zM100.4,380.3h0.6v0.6h-0.6zM111.1,379.6h0.6v0.6h-0.6zM99.9,390.0h0.6v0.6h-0.6zM102.3,382.4h0.6v0.6h-0.6zM102.8,383.1h0.6v0.6h-0.6zM110.6,389.2h0.6v0.6h-0.6zM102.7,379.7h0.6v0.6h-0.6zM123.1,380.6h0.6v0.6h-0.6zM119.2,386.8h0.6v0.6h-0.6zM109.0,380.8h0.6v0.6h-0.6zM101.1,375.4h0.6v0.6h-0.6zM118.2,380.2h0.6v0.6h-0.6zM99.4,379.9h0.6v0.6h-0.6zM103.5,383.2h0.6v0.6h-0.6zM104.5,374.8h0.6v0.6h-0.6zM123.7,381.3h0.6v0.6h-0.6zM102.1,377.5h0.6v0.6h-0.6zM116.3,389.1h0.6v0.6h-0.6zM105.2,374.0h0.6v0.6h-0.6zM102.8,377.9h0.6v0.6h-0.6zM102.9,396.9h0.6v0.6h-0.6zM117.8,375.8h0.6v0.6h-0.6zM105.6,382.0h0.6v0.6h-0.6zM101.5,387.2h0.6v0.6h-0.6zM99.9,379.7h0.6v0.6h-0.6zM99.5,380.9h0.6v0.6h-0.6zM113.6,385.8h0.6v0.6h-0.6zM104.6,386.4h0.6v0.6h-0.6zM102.2,371.0h0.6v0.6h-0.6zM106.5,382.8h0.6v0.6h-0.6zM107.0,374.3h0.6v0.6h-0.6zM103.4,377.7h0.6v0.6h-0.6zM105.7,376.6h0.6v0.6h-0.6zM102.2,369.1h0.6v0.6h-0.6zM116.9,387.9h0.6v0.6h-0.6zM105.8,382.6h0.6v0.6h-0.6zM99.9,377.2h0.6v0.6h-0.6zM103.2,379.3h0.6v0.6h-0.6zM105.6,389.4h0.6v0.6h-0.6zM109.0,383.8h0.6v0.6h-0.6zM100.7,373.1h0.6v0.6h-0.6zM101.7,384.5h0.6v0.6h-0.6zM99.9,383.5h0.6v0.6h-0.6zM99.9,374.6h0.6v0.6h-0.6zM120.3,375.1h0.6v0.6h-0.6zM110.5,378.4h0.6v0.6h-0.6zM105.1,377.1h0.6v0.6h-0.6zM99.2,386.6h0.6v0.6h-0.6zM119.2,376.8h0.6v0.6h-0.6zM102.8,386.7h0.6v0.6h-0.6zM106.4,388.2h0.6v0.6h-0.6zM105.8,374.9h0.6v0.6h-0.6zM108.3,375.4h0.6v0.6h-0.6zM109.1,389.8h0.6v0.6h-0.6zM107.8,378.5h0.6v0.6h-0.6zM112.8,382.4h0.6v0.6h-0.6zM114.8,379.8h0.6v0.6h-0.6zM103.7,379.6h0.6v0.6h-0.6zM105.7,382.6h0.6v0.6h-0.6zM101.2,369.8h0.6v0.6h-0.6zM113.1,385.5h0.6v0.6h-0.6zM111.4,388.7h0.6v0.6h-0.6zM98.9,378.2h0.6v0.6h-0.6zM105.4,390.7h0.6v0.6h-0.6zM115.1,379.9h0.6v0.6h-0.6zM100.3,373.0h0.6v0.6h-0.6zM110.2,378.6h0.6v0.6h-0.6zM108.5,374.3h0.6v0.6h-0.6zM112.0,373.6h0.6v0.6h-0.6zM111.7,371.5h0.6v0.6h-0.6zM114.4,379.4h0.6v0.6h-0.6zM105.6,376.1h0.6v0.6h-0.6zM101.3,364.6h0.6v0.6h-0.6zM99.0,383.8h0.6v0.6h-0.6zM105.2,387.0h0.6v0.6h-0.6zM109.5,383.2h0.6v0.6h-0.6zM111.9,386.7h0.6v0.6h-0.6zM103.6,378.1h0.6v0.6h-0.6zM111.4,383.8h0.6v0.6h-0.6zM106.7,382.1h0.6v0.6h-0.6zM105.1,385.0h0.6v0.6h-0.6zM103.9,390.2h0.6v0.6h-0.6zM105.4,385.6h0.6v0.6h-0.6zM109.4,389.7h0.6v0.6h-0.6zM106.7,375.8h0.6v0.6h-0.6zM101.5,393.0h0.6v0.6h-0.6zM109.4,378.9h0.6v0.6h-0.6zM122.3,385.6h0.6v0.6h-0.6zM105.4,376.4h0.6v0.6h-0.6zM98.7,398.0h0.6v0.6h-0.6zM99.3,378.1h0.6v0.6h-0.6zM112.3,381.9h0.6v0.6h-0.6zM100.0,374.2h0.6v0.6h-0.6zM105.4,384.2h0.6v0.6h-0.6zM99.8,385.3h0.6v0.6h-0.6zM109.7,376.6h0.6v0.6h-0.6zM101.6,388.3h0.6v0.6h-0.6zM111.2,389.2h0.6v0.6h-0.6zM118.5,381.6h0.6v0.6h-0.6zM111.7,373.1h0.6v0.6h-0.6zM108.6,383.7h0.6v0.6h-0.6zM101.9,379.1h0.6v0.6h-0.6zM113.6,379.5h0.6v0.6h-0.6zM107.2,377.8h0.6v0.6h-0.6zM104.9,376.0h0.6v0.6h-0.6zM105.9,380.3h0.6v0.6h-0.6zM105.4,378.2h0.6v0.6h-0.6zM111.5,390.2h0.6v0.6h-0.6zM99.9,385.9h0.6v0.6h-0.6zM109.1,383.7h0.6v0.6h-0.6zM109.4,384.9h0.6v0.6h-0.6zM108.6,374.5h0.6v0.6h-0.6zM110.9,381.9h0.6v0.6h-0.6zM101.1,377.6h0.6v0.6h-0.6zM128.9,382.6h0.6v0.6h-0.6zM104.5,377.9h0.6v0.6h-0.6zM100.4,386.3h0.6v0.6h-0.6zM102.5,385.2h0.6v0.6h-0.6zM101.8,376.6h0.6v0.6h-0.6zM113.0,379.1h0.6v0.6h-0.6zM101.4,376.6h0.6v0.6h-0.6zM104.4,379.4h0.6v0.6h-0.6zM105.1,383.4h0.6v0.6h-0.6zM106.4,386.5h0.6v0.6h-0.6zM108.6,375.2h0.6v0.6h-0.6zM107.8,383.6h0.6v0.6h-0.6zM105.1,383.9h0.6v0.6h-0.6zM99.9,382.7h0.6v0.6h-0.6zM110.6,378.7h0.6v0.6h-0.6zM104.4,371.4h0.6v0.6h-0.6zM101.4,382.0h0.6v0.6h-0.6zM117.6,380.4h0.6v0.6h-0.6zM110.3,382.1h0.6v0.6h-0.6zM109.2,384.8h0.6v0.6h-0.6zM108.0,374.8h0.6v0.6h-0.6zM110.6,389.4h0.6v0.6h-0.6zM111.5,377.5h0.6v0.6h-0.6zM111.2,388.3h0.6v0.6h-0.6zM112.9,381.0h0.6v0.6h-0.6zM99.2,371.3h0.6v0.6h-0.6zM109.4,394.0h0.6v0.6h-0.6zM98.8,378.9h0.6v0.6h-0.6zM108.2,383.6h0.6v0.6h-0.6zM119.0,391.9h0.6v0.6h-0.6zM114.8,390.5h0.6v0.6h-0.6zM125.0,372.3h0.6v0.6h-0.6zM107.4,374.7h0.6v0.6h-0.6zM114.1,388.6h0.6v0.6h-0.6zM103.3,388.7h0.6v0.6h-0.6zM105.3,378.4h0.6v0.6h-0.6zM99.5,380.9h0.6v0.6h-0.6zM107.9,382.2h0.6v0.6h-0.6zM122.8,380.4h0.6v0.6h-0.6zM98.7,377.5h0.6v0.6h-0.6zM103.2,380.6h0.6v0.6h-0.6zM105.7,387.4h0.6v0.6h-0.6zM107.9,385.8h0.6v0.6h-0.6zM101.2,380.3h0.6v0.6h-0.6zM100.4,378.8h0.6v0.6h-0.6zM113.8,379.6h0.6v0.6h-0.6zM103.4,372.3h0.6v0.6h-0.6zM111.5,372.3h0.6v0.6h-0.6zM101.5,383.2h0.6v0.6h-0.6zM99.9,369.8h0.6v0.6h-0.6zM101.4,374.1h0.6v0.6h-0.6zM102.8,376.8h0.6v0.6h-0.6zM100.0,380.3h0.6v0.6h-0.6zM109.3,385.7h0.6v0.6h-0.6zM115.1,384.2h0.6v0.6h-0.6zM99.7,386.7h0.6v0.6h-0.6zM103.0,383.6h0.6v0.6h-0.6zM121.5,373.9h0.6v0.6h-0.6zM105.2,390.5h0.6v0.6h-0.6zM115.0,387.2h0.6v0.6h-0.6zM110.2,386.3h0.6v0.6h-0.6zM103.0,381.4h0.6v0.6h-0.6zM103.0,386.1h0.6v0.6h-0.6zM101.3,383.3h0.6v0.6h-0.6zM115.1,375.3h0.6v0.6h-0.6zM100.5,380.6h0.6v0.6h-0.6zM120.5,383.8h0.6v0.6h-0.6zM99.2,387.5h0.6v0.6h-0.6zM124.1,375.4h0.6v0.6h-0.6zM107.2,379.3h0.6v0.6h-0.6zM106.9,377.1h0.6v0.6h-0.6zM123.0,369.1h0.6v0.6h-0.6zM106.3,388.9h0.6v0.6h-0.6zM109.0,392.1h0.6v0.6h-0.6zM106.5,382.3h0.6v0.6h-0.6zM101.6,376.8h0.6v0.6h-0.6zM116.6,375.0h0.6v0.6h-0.6zM101.6,378.6h0.6v0.6h-0.6zM99.5,382.3h0.6v0.6h-0.6zM103.9,386.1h0.6v0.6h-0.6zM101.3,378.0h0.6v0.6h-0.6zM105.3,385.2h0.6v0.6h-0.6zM111.2,376.6h0.6v0.6h-0.6zM103.6,386.1h0.6v0.6h-0.6zM114.0,377.9h0.6v0.6h-0.6zM100.7,389.2h0.6v0.6h-0.6zM123.2,389.9h0.6v0.6h-0.6zM100.2,381.2h0.6v0.6h-0.6zM102.6,391.4h0.6v0.6h-0.6zM108.6,383.8h0.6v0.6h-0.6zM102.9,377.4h0.6v0.6h-0.6zM100.8,388.3h0.6v0.6h-0.6zM109.8,392.3h0.6v0.6h-0.6zM104.9,381.4h0.6v0.6h-0.6zM104.8,375.0h0.6v0.6h-0.6zM107.7,380.5h0.6v0.6h-0.6zM103.6,378.3h0.6v0.6h-0.6zM106.1,372.0h0.6v0.6h-0.6zM103.6,387.8h0.6v0.6h-0.6zM104.7,388.6h0.6v0.6h-0.6zM100.4,381.5h0.6v0.6h-0.6zM104.8,384.4h0.6v0.6h-0.6zM112.6,382.2h0.6v0.6h-0.6zM101.5,391.3h0.6v0.6h-0.6zM119.3,386.8h0.6v0.6h-0.6zM104.3,377.6h0.6v0.6h-0.6zM107.2,385.3h0.6v0.6h-0.6zM109.8,382.8h0.6v0.6h-0.6zM101.7,388.8h0.6v0.6h-0.6zM116.1,386.9h0.6v0.6h-0.6zM105.8,385.2h0.6v0.6h-0.6zM109.7,388.6h0.6v0.6h-0.6zM110.0,373.1h0.6v0.6h-0.6zM110.8,383.6h0.6v0.6h-0.6zM98.8,384.4h0.6v0.6h-0.6zM105.2,381.2h0.6v0.6h-0.6zM107.4,381.2h0.6v0.6h-0.6zM108.8,382.5h0.6v0.6h-0.6zM106.3,379.6h0.6v0.6h-0.6zM99.7,382.5h0.6v0.6h-0.6zM130.4,385.4h0.6v0.6h-0.6zM103.9,372.6h0.6v0.6h-0.6zM103.5,385.7h0.6v0.6h-0.6zM114.3,380.6h0.6v0.6h-0.6zM111.1,382.9h0.6v0.6h-0.6zM101.0,380.0h0.6v0.6h-0.6zM110.2,376.0h0.6v0.6h-0.6zM109.9,377.5h0.6v0.6h-0.6zM104.4,386.5h0.6v0.6h-0.6zM107.0,387.9h0.6v0.6h-0.6zM105.7,384.7h0.6v0.6h-0.6zM104.8,387.5h0.6v0.6h-0.6zM99.4,387.1h0.6v0.6h-0.6zM115.5,381.2h0.6v0.6h-0.6zM106.4,378.7h0.6v0.6h-0.6zM100.2,382.9h0.6v0.6h-0.6zM99.8,376.6h0.6v0.6h-0.6zM102.4,382.6h0.6v0.6h-0.6zM105.4,385.4h0.6v0.6h-0.6zM101.2,377.3h0.6v0.6h-0.6zM99.5,383.9h0.6v0.6h-0.6zM110.1,379.5h0.6v0.6h-0.6zM104.0,372.7h0.6v0.6h-0.6zM104.1,380.9h0.6v0.6h-0.6zM99.0,386.4h0.6v0.6h-0.6zM117.9,387.2h0.6v0.6h-0.6zM99.9,381.3h0.6v0.6h-0.6zM107.4,382.3h0.6v0.6h-0.6zM100.9,380.7h0.6v0.6h-0.6zM99.3,386.8h0.6v0.6h-0.6zM100.9,377.4h0.6v0.6h-0.6zM100.8,373.4h0.6v0.6h-0.6zM106.2,384.5h0.6v0.6h-0.6zM100.2,390.0h0.6v0.6h-0.6zM106.8,378.6h0.6v0.6h-0.6zM100.7,386.4h0.6v0.6h-0.6zM103.2,383.0h0.6v0.6h-0.6zM114.6,382.7h0.6v0.6h-0.6zM109.8,380.8h0.6v0.6h-0.6zM105.4,389.7h0.6v0.6h-0.6zM106.9,378.5h0.6v0.6h-0.6zM100.2,379.7h0.6v0.6h-0.6zM110.5,383.5h0.6v0.6h-0.6zM101.8,384.7h0.6v0.6h-0.6zM109.0,388.5h0.6v0.6h-0.6zM102.9,383.9h0.6v0.6h-0.6zM109.3,387.4h0.6v0.6h-0.6zM99.5,374.8h0.6v0.6h-0.6zM102.1,380.4h0.6v0.6h-0.6zM110.7,383.7h0.6v0.6h-0.6zM112.1,383.7h0.6v0.6h-0.6zM99.7,385.2h0.6v0.6h-0.6zM110.5,382.2h0.6v0.6h-0.6zM111.2,377.0h0.6v0.6h-0.6zM101.8,389.6h0.6v0.6h-0.6zM106.4,387.2h0.6v0.6h-0.6zM116.4,378.2h0.6v0.6h-0.6zM100.1,391.7h0.6v0.6h-0.6zM108.8,377.8h0.6v0.6h-0.6zM104.7,380.7h0.6v0.6h-0.6zM109.3,386.4h0.6v0.6h-0.6zM99.8,386.4h0.6v0.6h-0.6zM107.5,381.0h0.6v0.6h-0.6zM104.9,385.2h0.6v0.6h-0.6zM100.1,377.9h0.6v0.6h-0.6zM113.3,381.5h0.6v0.6h-0.6zM110.2,380.5h0.6v0.6h-0.6zM118.1,379.2h0.6v0.6h-0.6zM109.1,388.0h0.6v0.6h-0.6zM102.6,374.7h0.6v0.6h-0.6zM103.2,385.7h0.6v0.6h-0.6zM100.3,384.6h0.6v0.6h-0.6zM105.7,382.3h0.6v0.6h-0.6zM113.3,386.6h0.6v0.6h-0.6zM109.8,385.4h0.6v0.6h-0.6zM104.0,375.3h0.6v0.6h-0.6zM111.6,390.9h0.6v0.6h-0.6zM104.6,380.2h0.6v0.6h-0.6zM102.5,388.0h0.6v0.6h-0.6zM105.1,376.2h0.6v0.6h-0.6zM101.3,377.4h0.6v0.6h-0.6zM101.1,376.7h0.6v0.6h-0.6zM111.5,372.9h0.6v0.6h-0.6zM99.5,374.1h0.6v0.6h-0.6zM110.1,372.9h0.6v0.6h-0.6zM108.5,385.3h0.6v0.6h-0.6zM99.7,378.0h0.6v0.6h-0.6zM103.3,382.3h0.6v0.6h-0.6zM107.2,381.0h0.6v0.6h-0.6zM99.3,376.2h0.6v0.6h-0.6zM126.0,374.8h0.6v0.6h-0.6zM115.5,384.1h0.6v0.6h-0.6zM104.5,382.6h0.6v0.6h-0.6zM99.6,390.2h0.6v0.6h-0.6zM107.0,381.4h0.6v0.6h-0.6zM101.8,382.6h0.6v0.6h-0.6zM107.8,371.5h0.6v0.6h-0.6zM100.9,386.9h0.6v0.6h-0.6zM111.1,380.8h0.6v0.6h-0.6zM99.0,375.0h0.6v0.6h-0.6zM104.2,378.6h0.6v0.6h-0.6zM104.5,383.8h0.6v0.6h-0.6zM108.6,379.8h0.6v0.6h-0.6zM102.0,382.5h0.6v0.6h-0.6zM104.1,387.7h0.6v0.6h-0.6zM105.6,382.1h0.6v0.6h-0.6zM108.4,378.5h0.6v0.6h-0.6zM107.5,383.2h0.6v0.6h-0.6zM107.8,392.1h0.6v0.6h-0.6zM105.7,376.3h0.6v0.6h-0.6zM112.8,384.0h0.6v0.6h-0.6zM99.3,394.3h0.6v0.6h-0.6zM120.7,368.2h0.6v0.6h-0.6zM101.9,378.1h0.6v0.6h-0.6zM107.8,382.1h0.6v0.6h-0.6zM105.2,383.0h0.6v0.6h-0.6zM98.9,387.6h0.6v0.6h-0.6zM108.5,381.7h0.6v0.6h-0.6zM103.9,381.3h0.6v0.6h-0.6zM106.3,372.8h0.6v0.6h-0.6zM109.5,373.2h0.6v0.6h-0.6zM106.6,381.3h0.6v0.6h-0.6zM110.9,379.8h0.6v0.6h-0.6zM100.9,377.5h0.6v0.6h-0.6zM104.3,380.9h0.6v0.6h-0.6zM108.9,378.8h0.6v0.6h-0.6zM109.1,384.3h0.6v0.6h-0.6zM102.4,377.7h0.6v0.6h-0.6zM102.2,374.6h0.6v0.6h-0.6zM100.4,378.4h0.6v0.6h-0.6zM106.4,383.4h0.6v0.6h-0.6zM112.7,381.9h0.6v0.6h-0.6zM107.6,392.4h0.6v0.6h-0.6zM122.3,391.7h0.6v0.6h-0.6zM104.4,387.0h0.6v0.6h-0.6zM101.2,378.2h0.6v0.6h-0.6zM100.8,389.7h0.6v0.6h-0.6zM109.8,379.9h0.6v0.6h-0.6zM105.9,386.2h0.6v0.6h-0.6zM107.5,381.3h0.6v0.6h-0.6zM99.1,378.5h0.6v0.6h-0.6zM110.1,375.4h0.6v0.6h-0.6zM114.9,388.4h0.6v0.6h-0.6zM99.3,375.9h0.6v0.6h-0.6zM100.5,381.4h0.6v0.6h-0.6zM107.1,380.2h0.6v0.6h-0.6zM102.1,376.7h0.6v0.6h-0.6zM100.6,365.0h0.6v0.6h-0.6zM120.8,393.4h0.6v0.6h-0.6zM109.3,374.8h0.6v0.6h-0.6zM117.5,377.6h0.6v0.6h-0.6zM105.7,375.2h0.6v0.6h-0.6zM105.8,381.4h0.6v0.6h-0.6zM111.9,375.2h0.6v0.6h-0.6zM102.6,391.5h0.6v0.6h-0.6zM106.4,378.8h0.6v0.6h-0.6zM100.4,389.3h0.6v0.6h-0.6zM112.4,384.6h0.6v0.6h-0.6zM105.0,375.3h0.6v0.6h-0.6zM103.5,391.4h0.6v0.6h-0.6zM111.6,374.0h0.6v0.6h-0.6zM104.1,378.5h0.6v0.6h-0.6zM100.1,383.4h0.6v0.6h-0.6zM110.3,382.7h0.6v0.6h-0.6zM113.3,373.7h0.6v0.6h-0.6zM106.7,383.8h0.6v0.6h-0.6zM125.4,388.6h0.6v0.6h-0.6zM105.9,389.0h0.6v0.6h-0.6zM112.5,375.3h0.6v0.6h-0.6zM106.8,389.2h0.6v0.6h-0.6zM101.3,381.9h0.6v0.6h-0.6zM98.8,385.5h0.6v0.6h-0.6zM104.6,384.1h0.6v0.6h-0.6zM99.4,375.7h0.6v0.6h-0.6zM105.6,383.5h0.6v0.6h-0.6zM113.6,378.8h0.6v0.6h-0.6zM99.2,384.3h0.6v0.6h-0.6zM115.7,381.2h0.6v0.6h-0.6zM102.0,376.3h0.6v0.6h-0.6zM99.5,386.7h0.6v0.6h-0.6zM110.0,387.7h0.6v0.6h-0.6z" fill="#4f6fd2" opacity="0.60"/>
<path d="M105.3,384.0h0.55v0.55h-0.55zM105.7,387.4h0.55v0.55h-0.55zM114.8,387.6h0.55v0.55h-0.55zM109.7,390.9h0.55v0.55h-0.55zM109.7,390.6h0.55v0.55h-0.55zM109.3,376.1h0.55v0.55h-0.55zM121.9,379.0h0.55v0.55h-0.55zM113.2,374.2h0.55v0.55h-0.55zM110.6,381.6h0.55v0.55h-0.55zM107.3,383.0h0.55v0.55h-0.55zM110.0,388.4h0.55v0.55h-0.55zM110.5,377.7h0.55v0.55h-0.55zM109.6,382.4h0.55v0.55h-0.55zM119.1,378.7h0.55v0.55h-0.55zM106.5,383.2h0.55v0.55h-0.55zM121.2,372.2h0.55v0.55h-0.55zM104.2,377.6h0.55v0.55h-0.55zM129.2,387.2h0.55v0.55h-0.55zM121.0,383.5h0.55v0.55h-0.55zM103.5,386.7h0.55v0.55h-0.55zM109.7,377.0h0.55v0.55h-0.55zM131.3,373.7h0.55v0.55h-0.55zM126.3,382.0h0.55v0.55h-0.55zM105.3,381.9h0.55v0.55h-0.55zM106.0,382.0h0.55v0.55h-0.55zM107.8,375.0h0.55v0.55h-0.55zM137.9,378.5h0.55v0.55h-0.55zM122.7,380.8h0.55v0.55h-0.55zM119.9,374.6h0.55v0.55h-0.55zM104.2,364.4h0.55v0.55h-0.55zM122.9,383.3h0.55v0.55h-0.55zM103.0,385.2h0.55v0.55h-0.55zM119.1,395.8h0.55v0.55h-0.55zM115.9,385.7h0.55v0.55h-0.55zM119.3,384.9h0.55v0.55h-0.55zM113.5,378.9h0.55v0.55h-0.55zM120.2,387.3h0.55v0.55h-0.55zM103.1,375.3h0.55v0.55h-0.55zM113.3,390.1h0.55v0.55h-0.55zM111.8,372.4h0.55v0.55h-0.55zM121.1,384.8h0.55v0.55h-0.55zM131.4,382.0h0.55v0.55h-0.55zM131.7,377.4h0.55v0.55h-0.55zM122.0,381.7h0.55v0.55h-0.55zM102.9,379.6h0.55v0.55h-0.55zM125.9,386.7h0.55v0.55h-0.55zM110.3,386.6h0.55v0.55h-0.55zM122.0,385.6h0.55v0.55h-0.55zM116.4,382.6h0.55v0.55h-0.55zM106.2,380.7h0.55v0.55h-0.55zM114.9,377.3h0.55v0.55h-0.55zM111.1,381.9h0.55v0.55h-0.55zM115.7,386.4h0.55v0.55h-0.55zM104.4,379.0h0.55v0.55h-0.55zM116.2,379.1h0.55v0.55h-0.55zM116.8,378.7h0.55v0.55h-0.55zM124.5,379.9h0.55v0.55h-0.55zM103.4,384.8h0.55v0.55h-0.55zM128.9,371.3h0.55v0.55h-0.55zM112.6,381.4h0.55v0.55h-0.55zM123.2,388.6h0.55v0.55h-0.55zM112.3,373.1h0.55v0.55h-0.55zM119.8,386.1h0.55v0.55h-0.55zM118.0,381.4h0.55v0.55h-0.55zM106.4,393.4h0.55v0.55h-0.55zM102.8,373.4h0.55v0.55h-0.55zM122.6,382.5h0.55v0.55h-0.55zM119.9,382.8h0.55v0.55h-0.55zM129.1,388.2h0.55v0.55h-0.55zM108.7,386.1h0.55v0.55h-0.55zM103.0,372.4h0.55v0.55h-0.55zM124.7,378.9h0.55v0.55h-0.55zM107.7,383.6h0.55v0.55h-0.55zM113.2,377.1h0.55v0.55h-0.55zM107.3,384.9h0.55v0.55h-0.55zM105.3,381.7h0.55v0.55h-0.55zM104.8,383.3h0.55v0.55h-0.55zM130.0,383.9h0.55v0.55h-0.55zM123.9,383.3h0.55v0.55h-0.55zM105.0,379.5h0.55v0.55h-0.55zM114.4,383.3h0.55v0.55h-0.55zM108.3,384.1h0.55v0.55h-0.55zM107.2,381.4h0.55v0.55h-0.55zM113.7,375.2h0.55v0.55h-0.55zM122.9,381.3h0.55v0.55h-0.55zM114.7,380.9h0.55v0.55h-0.55zM105.6,386.0h0.55v0.55h-0.55zM108.5,384.1h0.55v0.55h-0.55zM104.4,376.8h0.55v0.55h-0.55zM109.5,386.4h0.55v0.55h-0.55zM117.5,381.7h0.55v0.55h-0.55zM113.6,385.0h0.55v0.55h-0.55zM116.4,376.0h0.55v0.55h-0.55zM119.5,377.1h0.55v0.55h-0.55zM110.7,388.4h0.55v0.55h-0.55zM136.0,388.4h0.55v0.55h-0.55zM117.6,377.1h0.55v0.55h-0.55zM106.9,389.4h0.55v0.55h-0.55zM116.8,374.0h0.55v0.55h-0.55zM128.0,384.0h0.55v0.55h-0.55zM125.7,383.1h0.55v0.55h-0.55zM112.5,380.2h0.55v0.55h-0.55zM127.5,377.6h0.55v0.55h-0.55zM112.9,380.7h0.55v0.55h-0.55zM112.9,375.8h0.55v0.55h-0.55zM102.7,368.0h0.55v0.55h-0.55zM116.8,380.0h0.55v0.55h-0.55zM115.6,375.7h0.55v0.55h-0.55zM113.8,376.1h0.55v0.55h-0.55zM104.6,382.7h0.55v0.55h-0.55zM119.5,384.0h0.55v0.55h-0.55zM113.4,379.1h0.55v0.55h-0.55zM126.4,387.3h0.55v0.55h-0.55zM108.0,375.6h0.55v0.55h-0.55zM117.1,382.6h0.55v0.55h-0.55zM105.5,392.5h0.55v0.55h-0.55zM116.0,386.0h0.55v0.55h-0.55zM126.8,388.1h0.55v0.55h-0.55zM111.5,381.2h0.55v0.55h-0.55zM105.7,383.0h0.55v0.55h-0.55zM104.2,370.8h0.55v0.55h-0.55zM99.9,381.3h0.55v0.55h-0.55zM101.8,386.6h0.55v0.55h-0.55zM125.4,386.1h0.55v0.55h-0.55zM119.7,386.7h0.55v0.55h-0.55zM116.2,385.4h0.55v0.55h-0.55zM118.0,385.0h0.55v0.55h-0.55zM104.5,377.7h0.55v0.55h-0.55zM104.7,385.2h0.55v0.55h-0.55zM118.3,377.1h0.55v0.55h-0.55zM104.8,378.1h0.55v0.55h-0.55zM121.7,380.5h0.55v0.55h-0.55zM111.6,377.6h0.55v0.55h-0.55zM112.7,389.1h0.55v0.55h-0.55zM107.5,379.3h0.55v0.55h-0.55zM129.2,384.7h0.55v0.55h-0.55zM103.4,386.5h0.55v0.55h-0.55zM102.3,383.8h0.55v0.55h-0.55zM122.1,378.0h0.55v0.55h-0.55zM107.2,381.3h0.55v0.55h-0.55zM113.8,378.7h0.55v0.55h-0.55zM107.6,390.1h0.55v0.55h-0.55zM127.3,382.7h0.55v0.55h-0.55zM103.3,378.4h0.55v0.55h-0.55zM111.1,383.5h0.55v0.55h-0.55zM128.3,378.4h0.55v0.55h-0.55zM115.1,378.9h0.55v0.55h-0.55zM115.0,377.6h0.55v0.55h-0.55zM117.2,386.9h0.55v0.55h-0.55zM110.2,379.4h0.55v0.55h-0.55z" fill="#6f86da" opacity="0.50"/>
<path d="M111.7,360.0h0.55v0.55h-0.55zM125.3,359.9h0.55v0.55h-0.55zM107.9,362.2h0.55v0.55h-0.55zM122.8,364.2h0.55v0.55h-0.55zM106.7,376.1h0.55v0.55h-0.55zM109.8,362.7h0.55v0.55h-0.55zM110.7,367.6h0.55v0.55h-0.55zM104.7,365.7h0.55v0.55h-0.55zM109.1,370.3h0.55v0.55h-0.55zM116.9,370.8h0.55v0.55h-0.55zM109.8,370.7h0.55v0.55h-0.55zM109.1,372.5h0.55v0.55h-0.55zM114.0,364.5h0.55v0.55h-0.55zM120.7,359.0h0.55v0.55h-0.55zM109.7,360.4h0.55v0.55h-0.55zM111.7,362.8h0.55v0.55h-0.55zM128.4,370.5h0.55v0.55h-0.55zM111.6,372.1h0.55v0.55h-0.55zM119.6,364.5h0.55v0.55h-0.55zM112.9,378.8h0.55v0.55h-0.55zM125.3,374.2h0.55v0.55h-0.55zM109.0,365.0h0.55v0.55h-0.55zM113.7,365.3h0.55v0.55h-0.55zM107.0,365.6h0.55v0.55h-0.55zM117.6,366.3h0.55v0.55h-0.55zM112.7,365.3h0.55v0.55h-0.55zM109.2,365.0h0.55v0.55h-0.55zM120.9,367.8h0.55v0.55h-0.55zM122.8,365.8h0.55v0.55h-0.55zM119.3,359.7h0.55v0.55h-0.55zM107.5,366.3h0.55v0.55h-0.55zM105.7,366.1h0.55v0.55h-0.55zM105.4,366.6h0.55v0.55h-0.55zM108.4,361.6h0.55v0.55h-0.55zM107.5,366.8h0.55v0.55h-0.55zM120.8,365.5h0.55v0.55h-0.55zM115.2,369.8h0.55v0.55h-0.55zM131.0,361.5h0.55v0.55h-0.55zM128.0,363.1h0.55v0.55h-0.55zM122.5,357.5h0.55v0.55h-0.55zM119.9,367.3h0.55v0.55h-0.55zM113.8,365.7h0.55v0.55h-0.55zM114.5,367.1h0.55v0.55h-0.55zM124.4,357.4h0.55v0.55h-0.55zM112.7,366.8h0.55v0.55h-0.55zM116.6,359.9h0.55v0.55h-0.55zM111.4,357.5h0.55v0.55h-0.55zM113.7,366.6h0.55v0.55h-0.55zM116.7,353.5h0.55v0.55h-0.55zM114.8,362.2h0.55v0.55h-0.55zM106.9,370.6h0.55v0.55h-0.55zM124.4,367.4h0.55v0.55h-0.55zM109.9,373.2h0.55v0.55h-0.55zM106.7,361.7h0.55v0.55h-0.55zM112.3,376.9h0.55v0.55h-0.55zM112.8,369.1h0.55v0.55h-0.55zM110.5,372.3h0.55v0.55h-0.55zM112.2,362.2h0.55v0.55h-0.55zM111.6,373.9h0.55v0.55h-0.55zM110.1,372.7h0.55v0.55h-0.55zM110.2,376.8h0.55v0.55h-0.55zM113.0,369.9h0.55v0.55h-0.55zM108.4,370.8h0.55v0.55h-0.55zM108.9,359.2h0.55v0.55h-0.55zM113.2,360.6h0.55v0.55h-0.55zM122.7,370.6h0.55v0.55h-0.55zM110.9,370.1h0.55v0.55h-0.55zM105.5,370.0h0.55v0.55h-0.55zM131.4,358.5h0.55v0.55h-0.55zM107.4,368.4h0.55v0.55h-0.55zM114.1,358.1h0.55v0.55h-0.55zM105.9,369.4h0.55v0.55h-0.55zM120.1,367.1h0.55v0.55h-0.55zM108.6,367.9h0.55v0.55h-0.55zM114.5,365.2h0.55v0.55h-0.55zM115.2,376.5h0.55v0.55h-0.55zM128.7,363.8h0.55v0.55h-0.55zM118.7,372.8h0.55v0.55h-0.55zM115.6,365.5h0.55v0.55h-0.55zM118.6,372.3h0.55v0.55h-0.55zM120.2,361.2h0.55v0.55h-0.55zM119.1,364.9h0.55v0.55h-0.55zM107.9,368.4h0.55v0.55h-0.55zM108.0,378.3h0.55v0.55h-0.55zM115.3,368.0h0.55v0.55h-0.55zM109.2,367.9h0.55v0.55h-0.55zM108.9,369.6h0.55v0.55h-0.55zM117.7,370.9h0.55v0.55h-0.55zM111.5,360.5h0.55v0.55h-0.55zM113.8,365.9h0.55v0.55h-0.55zM111.2,368.6h0.55v0.55h-0.55zM105.8,374.5h0.55v0.55h-0.55zM119.1,363.9h0.55v0.55h-0.55zM114.5,370.4h0.55v0.55h-0.55zM116.4,353.7h0.55v0.55h-0.55zM115.8,362.0h0.55v0.55h-0.55zM117.7,377.8h0.55v0.55h-0.55zM112.5,366.4h0.55v0.55h-0.55zM111.3,361.6h0.55v0.55h-0.55zM115.2,367.6h0.55v0.55h-0.55zM116.8,373.8h0.55v0.55h-0.55zM111.1,367.6h0.55v0.55h-0.55zM113.4,375.4h0.55v0.55h-0.55zM105.7,367.3h0.55v0.55h-0.55zM117.5,367.0h0.55v0.55h-0.55zM116.7,367.6h0.55v0.55h-0.55zM105.1,363.3h0.55v0.55h-0.55z" fill="#6f80d8" opacity="0.55"/>
<path d="M107.0,370.0h0.55v0.55h-0.55zM116.6,363.1h0.55v0.55h-0.55zM114.1,365.1h0.55v0.55h-0.55zM122.3,363.5h0.55v0.55h-0.55zM112.8,365.0h0.55v0.55h-0.55zM108.7,369.0h0.55v0.55h-0.55zM108.8,363.7h0.55v0.55h-0.55zM106.2,365.4h0.55v0.55h-0.55zM115.1,365.5h0.55v0.55h-0.55zM118.5,370.1h0.55v0.55h-0.55z" fill="#c070b0" opacity="0.50"/>
<path d="M103.6,374.9h0.6v0.6h-0.6zM98.8,389.7h0.6v0.6h-0.6zM96.7,365.4h0.6v0.6h-0.6zM103.0,382.0h0.6v0.6h-0.6zM94.3,376.7h0.6v0.6h-0.6zM102.3,373.1h0.6v0.6h-0.6zM98.0,376.5h0.6v0.6h-0.6zM100.2,366.8h0.6v0.6h-0.6zM102.5,356.7h0.6v0.6h-0.6zM95.6,374.5h0.6v0.6h-0.6zM91.2,365.4h0.6v0.6h-0.6zM95.3,375.6h0.6v0.6h-0.6zM97.7,396.1h0.6v0.6h-0.6zM96.1,374.6h0.6v0.6h-0.6zM100.2,382.4h0.6v0.6h-0.6zM102.7,356.9h0.6v0.6h-0.6zM107.4,371.4h0.6v0.6h-0.6zM96.8,355.9h0.6v0.6h-0.6zM97.8,354.5h0.6v0.6h-0.6zM100.1,368.0h0.6v0.6h-0.6zM100.6,365.8h0.6v0.6h-0.6zM103.7,376.8h0.6v0.6h-0.6zM95.9,391.8h0.6v0.6h-0.6zM93.3,358.6h0.6v0.6h-0.6zM104.1,368.0h0.6v0.6h-0.6zM104.3,381.5h0.6v0.6h-0.6zM107.3,395.5h0.6v0.6h-0.6zM101.5,367.6h0.6v0.6h-0.6zM101.6,391.1h0.6v0.6h-0.6zM99.9,341.5h0.6v0.6h-0.6zM98.1,370.6h0.6v0.6h-0.6zM99.2,370.8h0.6v0.6h-0.6zM103.6,360.3h0.6v0.6h-0.6zM101.0,352.0h0.6v0.6h-0.6zM91.6,363.2h0.6v0.6h-0.6zM96.7,364.5h0.6v0.6h-0.6zM96.9,381.9h0.6v0.6h-0.6zM101.5,375.8h0.6v0.6h-0.6zM100.1,366.9h0.6v0.6h-0.6zM95.9,358.5h0.6v0.6h-0.6zM97.9,361.8h0.6v0.6h-0.6zM98.2,383.2h0.6v0.6h-0.6zM101.4,390.1h0.6v0.6h-0.6zM96.0,349.5h0.6v0.6h-0.6zM95.4,397.8h0.6v0.6h-0.6zM101.9,369.8h0.6v0.6h-0.6zM104.2,370.1h0.6v0.6h-0.6zM105.4,370.2h0.6v0.6h-0.6zM97.9,382.9h0.6v0.6h-0.6zM95.3,372.9h0.6v0.6h-0.6zM106.4,379.9h0.6v0.6h-0.6zM95.4,371.9h0.6v0.6h-0.6zM99.3,366.1h0.6v0.6h-0.6zM100.9,389.2h0.6v0.6h-0.6zM99.6,385.0h0.6v0.6h-0.6zM100.5,376.4h0.6v0.6h-0.6zM96.7,385.9h0.6v0.6h-0.6zM104.3,369.6h0.6v0.6h-0.6zM96.2,380.8h0.6v0.6h-0.6zM99.8,387.8h0.6v0.6h-0.6zM101.2,373.3h0.6v0.6h-0.6zM94.4,382.0h0.6v0.6h-0.6zM99.8,360.2h0.6v0.6h-0.6zM94.0,353.8h0.6v0.6h-0.6zM101.6,369.8h0.6v0.6h-0.6zM87.4,364.7h0.6v0.6h-0.6zM97.1,373.5h0.6v0.6h-0.6zM99.5,370.9h0.6v0.6h-0.6zM102.1,386.6h0.6v0.6h-0.6zM98.6,393.0h0.6v0.6h-0.6zM98.9,364.8h0.6v0.6h-0.6zM100.0,358.3h0.6v0.6h-0.6zM98.3,362.6h0.6v0.6h-0.6zM97.8,377.0h0.6v0.6h-0.6zM90.6,379.3h0.6v0.6h-0.6zM100.3,372.3h0.6v0.6h-0.6zM102.0,378.7h0.6v0.6h-0.6zM98.1,363.2h0.6v0.6h-0.6zM102.0,383.5h0.6v0.6h-0.6zM94.1,366.4h0.6v0.6h-0.6zM95.1,384.3h0.6v0.6h-0.6zM97.3,360.4h0.6v0.6h-0.6zM104.8,380.0h0.6v0.6h-0.6zM100.2,377.6h0.6v0.6h-0.6zM98.7,375.1h0.6v0.6h-0.6zM102.6,379.9h0.6v0.6h-0.6zM97.7,375.9h0.6v0.6h-0.6zM106.1,368.4h0.6v0.6h-0.6zM94.6,376.1h0.6v0.6h-0.6zM101.6,381.5h0.6v0.6h-0.6zM100.7,397.5h0.6v0.6h-0.6zM95.7,374.1h0.6v0.6h-0.6zM93.4,389.1h0.6v0.6h-0.6zM99.1,395.1h0.6v0.6h-0.6zM98.4,362.7h0.6v0.6h-0.6zM96.8,384.0h0.6v0.6h-0.6zM96.4,377.7h0.6v0.6h-0.6zM96.8,366.5h0.6v0.6h-0.6zM97.3,393.5h0.6v0.6h-0.6zM95.5,378.4h0.6v0.6h-0.6zM102.3,366.1h0.6v0.6h-0.6zM93.9,392.1h0.6v0.6h-0.6zM105.6,371.8h0.6v0.6h-0.6zM95.0,384.8h0.6v0.6h-0.6zM99.2,365.2h0.6v0.6h-0.6zM98.0,347.0h0.6v0.6h-0.6zM96.4,360.6h0.6v0.6h-0.6zM94.6,381.4h0.6v0.6h-0.6zM100.3,394.3h0.6v0.6h-0.6zM89.6,367.0h0.6v0.6h-0.6zM96.3,390.0h0.6v0.6h-0.6zM103.1,376.1h0.6v0.6h-0.6zM99.7,365.9h0.6v0.6h-0.6zM97.5,369.5h0.6v0.6h-0.6zM90.2,396.6h0.6v0.6h-0.6zM102.0,398.8h0.6v0.6h-0.6zM103.8,380.4h0.6v0.6h-0.6zM102.4,355.0h0.6v0.6h-0.6zM95.7,384.5h0.6v0.6h-0.6zM98.0,355.9h0.6v0.6h-0.6zM99.3,359.7h0.6v0.6h-0.6zM99.3,392.8h0.6v0.6h-0.6zM95.2,369.4h0.6v0.6h-0.6zM101.3,374.3h0.6v0.6h-0.6zM100.0,364.8h0.6v0.6h-0.6zM98.1,346.9h0.6v0.6h-0.6zM98.7,389.5h0.6v0.6h-0.6zM95.3,372.4h0.6v0.6h-0.6zM101.9,388.8h0.6v0.6h-0.6zM103.6,364.3h0.6v0.6h-0.6zM97.8,395.0h0.6v0.6h-0.6zM97.6,377.9h0.6v0.6h-0.6zM96.3,366.9h0.6v0.6h-0.6zM88.5,368.2h0.6v0.6h-0.6zM91.3,362.8h0.6v0.6h-0.6zM95.7,390.3h0.6v0.6h-0.6zM102.1,379.2h0.6v0.6h-0.6zM97.4,358.4h0.6v0.6h-0.6zM101.1,364.9h0.6v0.6h-0.6zM98.9,385.5h0.6v0.6h-0.6zM98.6,374.2h0.6v0.6h-0.6zM95.7,386.7h0.6v0.6h-0.6zM101.2,382.8h0.6v0.6h-0.6zM105.2,355.6h0.6v0.6h-0.6zM99.4,382.0h0.6v0.6h-0.6zM100.5,378.1h0.6v0.6h-0.6zM101.0,356.7h0.6v0.6h-0.6zM99.0,388.1h0.6v0.6h-0.6zM99.1,372.2h0.6v0.6h-0.6zM102.4,354.1h0.6v0.6h-0.6zM100.8,392.2h0.6v0.6h-0.6zM98.4,364.9h0.6v0.6h-0.6zM101.2,369.2h0.6v0.6h-0.6zM96.3,376.4h0.6v0.6h-0.6zM93.2,382.3h0.6v0.6h-0.6zM94.9,368.1h0.6v0.6h-0.6zM102.0,374.1h0.6v0.6h-0.6zM100.3,390.6h0.6v0.6h-0.6zM104.9,398.8h0.6v0.6h-0.6zM97.3,385.2h0.6v0.6h-0.6zM93.3,383.8h0.6v0.6h-0.6zM104.1,366.0h0.6v0.6h-0.6zM101.0,384.3h0.6v0.6h-0.6zM98.7,367.1h0.6v0.6h-0.6zM104.8,359.1h0.6v0.6h-0.6zM99.9,385.6h0.6v0.6h-0.6zM100.2,392.9h0.6v0.6h-0.6zM104.7,380.0h0.6v0.6h-0.6zM105.8,383.3h0.6v0.6h-0.6zM94.8,370.7h0.6v0.6h-0.6zM100.3,376.7h0.6v0.6h-0.6zM93.6,361.3h0.6v0.6h-0.6zM100.9,376.8h0.6v0.6h-0.6zM104.9,377.1h0.6v0.6h-0.6zM100.7,383.0h0.6v0.6h-0.6zM96.6,359.4h0.6v0.6h-0.6zM97.6,386.4h0.6v0.6h-0.6zM98.3,389.1h0.6v0.6h-0.6zM97.3,383.3h0.6v0.6h-0.6zM99.4,384.4h0.6v0.6h-0.6zM99.4,376.9h0.6v0.6h-0.6zM97.6,389.1h0.6v0.6h-0.6zM99.2,380.4h0.6v0.6h-0.6zM101.7,364.1h0.6v0.6h-0.6zM96.3,374.1h0.6v0.6h-0.6zM104.0,362.3h0.6v0.6h-0.6zM95.6,363.0h0.6v0.6h-0.6zM97.9,362.1h0.6v0.6h-0.6zM96.3,380.7h0.6v0.6h-0.6zM95.4,374.5h0.6v0.6h-0.6zM95.0,372.2h0.6v0.6h-0.6zM101.2,351.2h0.6v0.6h-0.6zM99.5,377.2h0.6v0.6h-0.6zM99.1,377.6h0.6v0.6h-0.6zM100.8,359.5h0.6v0.6h-0.6zM98.9,382.1h0.6v0.6h-0.6zM104.0,358.7h0.6v0.6h-0.6zM97.2,358.7h0.6v0.6h-0.6zM99.3,362.1h0.6v0.6h-0.6zM95.7,383.6h0.6v0.6h-0.6zM107.5,350.6h0.6v0.6h-0.6zM105.3,363.9h0.6v0.6h-0.6zM101.8,378.7h0.6v0.6h-0.6zM103.8,372.2h0.6v0.6h-0.6zM96.3,373.9h0.6v0.6h-0.6zM102.2,364.2h0.6v0.6h-0.6zM100.8,374.5h0.6v0.6h-0.6zM100.0,374.7h0.6v0.6h-0.6zM101.5,384.0h0.6v0.6h-0.6zM98.3,370.5h0.6v0.6h-0.6zM91.5,364.4h0.6v0.6h-0.6zM93.8,382.5h0.6v0.6h-0.6zM95.4,366.5h0.6v0.6h-0.6zM101.3,386.2h0.6v0.6h-0.6zM103.8,364.7h0.6v0.6h-0.6zM100.2,387.0h0.6v0.6h-0.6zM96.3,372.0h0.6v0.6h-0.6zM94.9,367.2h0.6v0.6h-0.6zM101.9,375.7h0.6v0.6h-0.6zM98.0,368.1h0.6v0.6h-0.6zM104.9,383.4h0.6v0.6h-0.6zM97.8,372.9h0.6v0.6h-0.6zM97.6,368.0h0.6v0.6h-0.6zM101.7,357.8h0.6v0.6h-0.6zM99.5,370.9h0.6v0.6h-0.6zM105.7,379.2h0.6v0.6h-0.6zM100.9,380.8h0.6v0.6h-0.6zM101.5,376.1h0.6v0.6h-0.6zM90.5,379.6h0.6v0.6h-0.6zM98.2,382.8h0.6v0.6h-0.6zM100.5,368.3h0.6v0.6h-0.6zM96.1,362.9h0.6v0.6h-0.6zM100.4,373.4h0.6v0.6h-0.6zM96.1,370.4h0.6v0.6h-0.6zM100.6,367.0h0.6v0.6h-0.6zM98.9,367.6h0.6v0.6h-0.6zM89.9,375.7h0.6v0.6h-0.6zM99.6,384.1h0.6v0.6h-0.6zM104.1,366.3h0.6v0.6h-0.6zM101.5,377.8h0.6v0.6h-0.6zM99.6,384.3h0.6v0.6h-0.6zM102.5,360.0h0.6v0.6h-0.6zM104.7,372.6h0.6v0.6h-0.6zM96.9,366.7h0.6v0.6h-0.6zM98.5,361.7h0.6v0.6h-0.6zM103.3,379.6h0.6v0.6h-0.6zM96.1,384.2h0.6v0.6h-0.6zM100.2,375.6h0.6v0.6h-0.6zM102.8,373.6h0.6v0.6h-0.6zM98.4,380.5h0.6v0.6h-0.6zM92.7,360.8h0.6v0.6h-0.6zM101.2,387.1h0.6v0.6h-0.6zM93.3,374.8h0.6v0.6h-0.6zM97.0,371.4h0.6v0.6h-0.6zM101.5,392.0h0.6v0.6h-0.6zM105.8,385.6h0.6v0.6h-0.6zM101.7,376.4h0.6v0.6h-0.6zM92.6,379.3h0.6v0.6h-0.6zM95.0,361.8h0.6v0.6h-0.6zM99.8,356.4h0.6v0.6h-0.6zM105.8,381.6h0.6v0.6h-0.6zM100.7,380.3h0.6v0.6h-0.6zM100.2,375.4h0.6v0.6h-0.6zM101.9,366.9h0.6v0.6h-0.6zM100.4,376.6h0.6v0.6h-0.6zM102.2,362.0h0.6v0.6h-0.6zM100.3,373.2h0.6v0.6h-0.6zM101.6,380.9h0.6v0.6h-0.6zM100.0,380.0h0.6v0.6h-0.6zM101.0,390.5h0.6v0.6h-0.6zM100.5,380.9h0.6v0.6h-0.6zM96.0,372.3h0.6v0.6h-0.6zM102.2,386.8h0.6v0.6h-0.6zM95.8,374.2h0.6v0.6h-0.6zM98.4,375.3h0.6v0.6h-0.6zM97.6,369.8h0.6v0.6h-0.6zM99.1,376.1h0.6v0.6h-0.6zM103.0,364.9h0.6v0.6h-0.6zM95.9,383.8h0.6v0.6h-0.6zM101.2,372.5h0.6v0.6h-0.6zM95.2,386.9h0.6v0.6h-0.6zM95.5,387.8h0.6v0.6h-0.6zM100.3,373.0h0.6v0.6h-0.6zM98.8,384.1h0.6v0.6h-0.6zM99.4,354.7h0.6v0.6h-0.6zM96.8,349.9h0.6v0.6h-0.6zM100.8,385.4h0.6v0.6h-0.6zM103.1,359.2h0.6v0.6h-0.6zM107.0,395.7h0.6v0.6h-0.6zM99.0,351.8h0.6v0.6h-0.6zM96.2,386.8h0.6v0.6h-0.6zM106.8,368.5h0.6v0.6h-0.6zM92.7,363.5h0.6v0.6h-0.6zM106.3,374.7h0.6v0.6h-0.6zM94.3,350.5h0.6v0.6h-0.6zM101.7,384.0h0.6v0.6h-0.6zM97.6,372.4h0.6v0.6h-0.6zM99.6,370.8h0.6v0.6h-0.6zM97.4,368.1h0.6v0.6h-0.6zM97.2,388.9h0.6v0.6h-0.6zM100.8,386.5h0.6v0.6h-0.6zM106.0,348.3h0.6v0.6h-0.6zM99.1,385.7h0.6v0.6h-0.6zM98.6,367.8h0.6v0.6h-0.6zM100.8,368.6h0.6v0.6h-0.6zM96.3,371.1h0.6v0.6h-0.6zM99.6,374.8h0.6v0.6h-0.6zM102.6,374.9h0.6v0.6h-0.6zM98.5,371.6h0.6v0.6h-0.6zM98.8,366.6h0.6v0.6h-0.6zM93.7,376.9h0.6v0.6h-0.6zM104.6,353.7h0.6v0.6h-0.6zM96.6,379.6h0.6v0.6h-0.6zM96.9,380.8h0.6v0.6h-0.6zM99.2,362.0h0.6v0.6h-0.6zM98.6,368.7h0.6v0.6h-0.6zM101.3,345.4h0.6v0.6h-0.6zM100.9,390.0h0.6v0.6h-0.6zM99.9,377.4h0.6v0.6h-0.6zM97.4,378.6h0.6v0.6h-0.6zM98.8,359.9h0.6v0.6h-0.6zM95.1,348.0h0.6v0.6h-0.6zM100.9,376.7h0.6v0.6h-0.6zM103.3,377.6h0.6v0.6h-0.6zM101.9,359.2h0.6v0.6h-0.6zM92.6,368.1h0.6v0.6h-0.6zM98.2,378.9h0.6v0.6h-0.6zM98.9,372.8h0.6v0.6h-0.6zM99.5,377.6h0.6v0.6h-0.6zM100.1,378.4h0.6v0.6h-0.6zM97.6,373.6h0.6v0.6h-0.6zM94.1,361.8h0.6v0.6h-0.6zM98.4,379.6h0.6v0.6h-0.6zM96.6,358.5h0.6v0.6h-0.6zM102.8,365.1h0.6v0.6h-0.6zM93.2,363.5h0.6v0.6h-0.6zM95.1,346.8h0.6v0.6h-0.6zM98.0,394.1h0.6v0.6h-0.6zM96.7,365.2h0.6v0.6h-0.6zM103.5,375.7h0.6v0.6h-0.6zM99.0,390.3h0.6v0.6h-0.6zM95.1,374.0h0.6v0.6h-0.6zM101.2,377.0h0.6v0.6h-0.6zM95.1,364.0h0.6v0.6h-0.6zM105.8,373.6h0.6v0.6h-0.6zM98.4,387.1h0.6v0.6h-0.6zM92.9,374.1h0.6v0.6h-0.6zM93.0,390.7h0.6v0.6h-0.6zM95.8,376.0h0.6v0.6h-0.6zM96.0,376.2h0.6v0.6h-0.6zM100.5,374.8h0.6v0.6h-0.6zM98.2,377.6h0.6v0.6h-0.6zM98.5,368.9h0.6v0.6h-0.6zM101.6,384.5h0.6v0.6h-0.6zM94.5,363.1h0.6v0.6h-0.6zM96.6,378.1h0.6v0.6h-0.6zM94.3,392.6h0.6v0.6h-0.6zM99.5,376.5h0.6v0.6h-0.6zM102.5,366.1h0.6v0.6h-0.6zM100.7,379.4h0.6v0.6h-0.6zM104.0,362.6h0.6v0.6h-0.6zM104.4,381.6h0.6v0.6h-0.6zM100.3,387.0h0.6v0.6h-0.6zM98.5,372.5h0.6v0.6h-0.6zM102.4,370.7h0.6v0.6h-0.6zM103.3,390.5h0.6v0.6h-0.6zM100.2,376.8h0.6v0.6h-0.6zM97.1,364.2h0.6v0.6h-0.6zM104.6,362.9h0.6v0.6h-0.6zM99.7,378.2h0.6v0.6h-0.6zM96.2,367.0h0.6v0.6h-0.6zM96.9,399.1h0.6v0.6h-0.6zM100.7,390.8h0.6v0.6h-0.6zM106.7,386.4h0.6v0.6h-0.6z" fill="#3f5fc4" opacity="0.60"/>
<g filter="url(#bl)" opacity="0.92">
<ellipse cx="99.70" cy="364.60" rx="5.80" ry="10.20" fill="#2f4fa8" opacity="1.00" transform="rotate(6 99.70 364.60)"/>
<ellipse cx="98.20" cy="383.00" rx="3.30" ry="9.60" fill="#2f4fa8" opacity="1.00" transform="rotate(0 98.20 383.00)"/>
<ellipse cx="98.80" cy="374.40" rx="3.70" ry="4.50" fill="#2f4fa8" opacity="1.00" transform="rotate(0 98.80 374.40)"/>
<ellipse cx="99.70" cy="364.60" rx="5.00" ry="9.50" fill="#3c74d0" opacity="1.00" transform="rotate(6 99.70 364.60)"/>
<ellipse cx="98.20" cy="383.00" rx="2.70" ry="8.90" fill="#3c74d0" opacity="1.00" transform="rotate(0 98.20 383.00)"/>
<ellipse cx="98.80" cy="374.40" rx="3.00" ry="4.20" fill="#3c74d0" opacity="1.00" transform="rotate(0 98.80 374.40)"/>
<ellipse cx="99.70" cy="364.60" rx="4.20" ry="8.60" fill="#45b5d8" opacity="1.00" transform="rotate(6 99.70 364.60)"/>
<ellipse cx="98.80" cy="374.40" rx="2.20" ry="3.80" fill="#52b6dc" opacity="0.90" transform="rotate(0 98.80 374.40)"/>
<ellipse cx="98.20" cy="382.70" rx="2.00" ry="7.60" fill="#62bfe0" opacity="1.00" transform="rotate(0 98.20 382.70)"/>
<ellipse cx="98.20" cy="382.70" rx="1.10" ry="3.40" fill="#8fd4a8" opacity="0.90" transform="rotate(0 98.20 382.70)"/>
<ellipse cx="99.70" cy="364.60" rx="3.50" ry="7.60" fill="#6cc66a" opacity="1.00" transform="rotate(6 99.70 364.60)"/>
<ellipse cx="99.70" cy="364.30" rx="2.70" ry="5.90" fill="#e8d83a" opacity="1.00" transform="rotate(6 99.70 364.30)"/>
<ellipse cx="99.60" cy="364.30" rx="1.80" ry="3.90" fill="#f0982a" opacity="1.00" transform="rotate(6 99.60 364.30)"/>
<ellipse cx="99.50" cy="364.40" rx="1.00" ry="2.10" fill="#e0452a" opacity="1.00" transform="rotate(6 99.50 364.40)"/>
</g>
<rect x="81.70" y="332.00" width="68.30" height="68.60" fill="none" stroke="#808080" stroke-width="0.7" />
<rect x="105.30" y="357.00" width="23.50" height="13.40" fill="none" stroke="#333" stroke-width="0.7" />
<text x="120.65" y="354.20" font-size="6.70" fill="#2e2e2e" text-anchor="middle" textLength="14.00" lengthAdjust="spacingAndGlyphs">LSKs</text>
<path d="M102.3,429.3h0.55v0.55h-0.55zM99.7,444.4h0.55v0.55h-0.55zM102.5,424.7h0.55v0.55h-0.55zM102.1,435.2h0.55v0.55h-0.55zM101.6,440.5h0.55v0.55h-0.55zM103.1,427.9h0.55v0.55h-0.55zM100.6,442.9h0.55v0.55h-0.55zM100.3,437.2h0.55v0.55h-0.55zM100.5,419.3h0.55v0.55h-0.55zM99.9,439.9h0.55v0.55h-0.55zM99.9,420.6h0.55v0.55h-0.55zM100.0,433.7h0.55v0.55h-0.55zM101.3,435.6h0.55v0.55h-0.55zM101.3,424.5h0.55v0.55h-0.55zM99.8,426.8h0.55v0.55h-0.55zM100.1,436.5h0.55v0.55h-0.55zM102.4,431.1h0.55v0.55h-0.55zM102.0,441.8h0.55v0.55h-0.55zM99.1,426.4h0.55v0.55h-0.55zM100.8,421.9h0.55v0.55h-0.55zM103.1,418.0h0.55v0.55h-0.55zM99.0,439.2h0.55v0.55h-0.55zM99.7,438.6h0.55v0.55h-0.55zM99.3,441.4h0.55v0.55h-0.55zM99.9,438.8h0.55v0.55h-0.55zM101.9,421.0h0.55v0.55h-0.55zM99.5,419.0h0.55v0.55h-0.55zM99.2,440.3h0.55v0.55h-0.55zM100.6,439.8h0.55v0.55h-0.55zM102.5,441.3h0.55v0.55h-0.55zM101.6,429.6h0.55v0.55h-0.55zM100.1,435.6h0.55v0.55h-0.55zM101.8,441.7h0.55v0.55h-0.55zM101.0,430.7h0.55v0.55h-0.55zM100.5,446.3h0.55v0.55h-0.55zM101.0,449.0h0.55v0.55h-0.55zM99.7,440.0h0.55v0.55h-0.55zM100.9,439.1h0.55v0.55h-0.55zM99.7,435.7h0.55v0.55h-0.55zM100.6,430.8h0.55v0.55h-0.55zM99.1,421.8h0.55v0.55h-0.55zM100.2,437.4h0.55v0.55h-0.55zM101.0,435.0h0.55v0.55h-0.55zM101.1,422.3h0.55v0.55h-0.55zM102.0,433.6h0.55v0.55h-0.55zM99.7,428.7h0.55v0.55h-0.55zM101.9,434.6h0.55v0.55h-0.55zM98.5,449.8h0.55v0.55h-0.55zM98.7,446.8h0.55v0.55h-0.55zM101.7,425.1h0.55v0.55h-0.55zM102.3,443.1h0.55v0.55h-0.55zM102.0,438.3h0.55v0.55h-0.55zM101.1,434.8h0.55v0.55h-0.55zM100.0,435.3h0.55v0.55h-0.55zM102.3,432.3h0.55v0.55h-0.55zM103.2,420.7h0.55v0.55h-0.55zM100.7,421.3h0.55v0.55h-0.55zM98.4,435.1h0.55v0.55h-0.55zM100.2,428.7h0.55v0.55h-0.55zM99.3,431.2h0.55v0.55h-0.55zM98.6,431.6h0.55v0.55h-0.55zM100.0,423.2h0.55v0.55h-0.55zM101.2,418.3h0.55v0.55h-0.55zM101.2,435.3h0.55v0.55h-0.55zM101.3,434.2h0.55v0.55h-0.55zM101.7,431.0h0.55v0.55h-0.55zM99.3,436.1h0.55v0.55h-0.55zM99.6,430.2h0.55v0.55h-0.55zM100.8,425.7h0.55v0.55h-0.55zM101.9,420.9h0.55v0.55h-0.55z" fill="#4f6fd2" opacity="0.55"/>
<path d="M113.3,468.5h0.6v0.6h-0.6zM117.3,474.8h0.6v0.6h-0.6zM108.7,470.3h0.6v0.6h-0.6zM103.9,461.2h0.6v0.6h-0.6zM100.8,466.2h0.6v0.6h-0.6zM106.3,471.3h0.6v0.6h-0.6zM127.7,468.8h0.6v0.6h-0.6zM106.8,463.9h0.6v0.6h-0.6zM111.2,477.1h0.6v0.6h-0.6zM107.9,468.0h0.6v0.6h-0.6zM103.2,458.4h0.6v0.6h-0.6zM108.0,467.1h0.6v0.6h-0.6zM106.3,470.8h0.6v0.6h-0.6zM104.7,480.2h0.6v0.6h-0.6zM110.7,465.2h0.6v0.6h-0.6zM108.1,472.2h0.6v0.6h-0.6zM103.3,476.4h0.6v0.6h-0.6zM99.8,459.2h0.6v0.6h-0.6zM100.8,463.8h0.6v0.6h-0.6zM110.7,470.0h0.6v0.6h-0.6zM101.2,469.6h0.6v0.6h-0.6zM110.5,471.3h0.6v0.6h-0.6zM117.8,464.8h0.6v0.6h-0.6zM109.9,469.4h0.6v0.6h-0.6zM110.0,474.1h0.6v0.6h-0.6zM107.0,463.9h0.6v0.6h-0.6zM104.4,470.8h0.6v0.6h-0.6zM117.0,469.4h0.6v0.6h-0.6zM104.2,477.3h0.6v0.6h-0.6zM103.5,466.3h0.6v0.6h-0.6zM105.4,472.9h0.6v0.6h-0.6zM104.2,459.6h0.6v0.6h-0.6zM99.6,474.2h0.6v0.6h-0.6zM104.4,464.4h0.6v0.6h-0.6zM109.7,457.0h0.6v0.6h-0.6zM107.4,467.2h0.6v0.6h-0.6zM108.3,468.3h0.6v0.6h-0.6zM104.1,465.9h0.6v0.6h-0.6zM99.6,474.1h0.6v0.6h-0.6zM109.4,461.5h0.6v0.6h-0.6zM107.8,479.8h0.6v0.6h-0.6zM109.3,463.6h0.6v0.6h-0.6zM109.2,469.9h0.6v0.6h-0.6zM100.3,474.0h0.6v0.6h-0.6zM113.3,465.9h0.6v0.6h-0.6zM104.0,466.6h0.6v0.6h-0.6zM103.0,477.4h0.6v0.6h-0.6zM99.3,471.8h0.6v0.6h-0.6zM105.1,469.2h0.6v0.6h-0.6zM102.2,469.5h0.6v0.6h-0.6zM99.1,464.1h0.6v0.6h-0.6zM102.3,470.3h0.6v0.6h-0.6zM100.5,472.9h0.6v0.6h-0.6zM104.2,469.4h0.6v0.6h-0.6zM100.9,468.6h0.6v0.6h-0.6zM108.4,464.9h0.6v0.6h-0.6zM106.5,468.9h0.6v0.6h-0.6zM105.0,461.7h0.6v0.6h-0.6zM102.7,462.0h0.6v0.6h-0.6zM106.8,458.4h0.6v0.6h-0.6zM113.3,463.0h0.6v0.6h-0.6zM104.3,467.1h0.6v0.6h-0.6zM102.8,460.9h0.6v0.6h-0.6zM111.8,470.4h0.6v0.6h-0.6zM108.2,474.6h0.6v0.6h-0.6zM111.4,475.8h0.6v0.6h-0.6zM108.7,468.7h0.6v0.6h-0.6zM100.8,457.3h0.6v0.6h-0.6zM103.8,464.2h0.6v0.6h-0.6zM114.3,472.7h0.6v0.6h-0.6zM102.3,466.6h0.6v0.6h-0.6zM112.2,465.8h0.6v0.6h-0.6zM112.1,469.8h0.6v0.6h-0.6zM100.5,470.7h0.6v0.6h-0.6zM117.5,460.0h0.6v0.6h-0.6zM109.2,472.7h0.6v0.6h-0.6zM100.7,476.6h0.6v0.6h-0.6zM108.5,471.7h0.6v0.6h-0.6zM120.9,463.8h0.6v0.6h-0.6zM115.9,462.8h0.6v0.6h-0.6zM103.5,472.6h0.6v0.6h-0.6zM109.9,468.3h0.6v0.6h-0.6zM106.3,468.8h0.6v0.6h-0.6zM106.1,477.1h0.6v0.6h-0.6zM103.9,467.1h0.6v0.6h-0.6zM103.1,472.6h0.6v0.6h-0.6zM106.7,457.1h0.6v0.6h-0.6zM102.3,471.0h0.6v0.6h-0.6zM124.8,465.5h0.6v0.6h-0.6zM100.6,462.4h0.6v0.6h-0.6zM102.3,459.1h0.6v0.6h-0.6zM116.3,480.2h0.6v0.6h-0.6zM104.1,472.3h0.6v0.6h-0.6zM122.8,465.2h0.6v0.6h-0.6zM117.1,463.7h0.6v0.6h-0.6zM111.8,460.2h0.6v0.6h-0.6zM99.5,467.6h0.6v0.6h-0.6zM100.8,458.1h0.6v0.6h-0.6zM103.9,467.1h0.6v0.6h-0.6zM115.4,471.8h0.6v0.6h-0.6zM111.8,468.2h0.6v0.6h-0.6zM99.8,463.6h0.6v0.6h-0.6zM100.6,466.9h0.6v0.6h-0.6zM113.6,463.3h0.6v0.6h-0.6zM105.7,462.7h0.6v0.6h-0.6zM105.2,474.3h0.6v0.6h-0.6zM103.2,468.8h0.6v0.6h-0.6zM103.5,472.4h0.6v0.6h-0.6zM113.5,464.2h0.6v0.6h-0.6zM119.5,469.9h0.6v0.6h-0.6zM100.9,470.3h0.6v0.6h-0.6zM101.1,466.9h0.6v0.6h-0.6zM110.3,455.5h0.6v0.6h-0.6zM112.5,453.1h0.6v0.6h-0.6zM101.2,468.7h0.6v0.6h-0.6zM110.2,462.8h0.6v0.6h-0.6zM102.1,468.9h0.6v0.6h-0.6zM108.4,461.8h0.6v0.6h-0.6zM114.0,467.8h0.6v0.6h-0.6zM111.4,460.9h0.6v0.6h-0.6zM112.1,468.1h0.6v0.6h-0.6zM109.4,465.2h0.6v0.6h-0.6zM110.1,468.8h0.6v0.6h-0.6zM101.2,466.2h0.6v0.6h-0.6zM99.7,473.7h0.6v0.6h-0.6zM110.7,473.7h0.6v0.6h-0.6zM106.1,474.9h0.6v0.6h-0.6zM102.8,469.4h0.6v0.6h-0.6zM100.1,474.7h0.6v0.6h-0.6zM99.5,468.1h0.6v0.6h-0.6zM108.4,459.9h0.6v0.6h-0.6zM99.1,461.5h0.6v0.6h-0.6zM111.9,461.8h0.6v0.6h-0.6zM106.8,469.5h0.6v0.6h-0.6zM102.4,458.0h0.6v0.6h-0.6zM117.3,467.9h0.6v0.6h-0.6zM108.6,474.5h0.6v0.6h-0.6zM117.4,479.3h0.6v0.6h-0.6zM110.9,467.9h0.6v0.6h-0.6zM114.0,472.0h0.6v0.6h-0.6zM102.2,472.4h0.6v0.6h-0.6zM98.8,475.6h0.6v0.6h-0.6zM124.2,459.1h0.6v0.6h-0.6zM117.3,460.5h0.6v0.6h-0.6zM102.3,478.8h0.6v0.6h-0.6zM112.1,472.4h0.6v0.6h-0.6zM106.1,469.6h0.6v0.6h-0.6zM106.8,467.6h0.6v0.6h-0.6zM100.5,461.9h0.6v0.6h-0.6zM117.7,468.6h0.6v0.6h-0.6zM119.1,472.8h0.6v0.6h-0.6zM106.8,462.6h0.6v0.6h-0.6zM100.7,468.9h0.6v0.6h-0.6zM101.9,467.0h0.6v0.6h-0.6zM100.8,466.0h0.6v0.6h-0.6zM100.2,460.1h0.6v0.6h-0.6zM98.9,471.2h0.6v0.6h-0.6zM124.5,468.6h0.6v0.6h-0.6zM102.8,452.9h0.6v0.6h-0.6zM100.0,467.5h0.6v0.6h-0.6zM104.0,470.0h0.6v0.6h-0.6zM109.4,467.2h0.6v0.6h-0.6zM103.2,472.4h0.6v0.6h-0.6zM103.8,469.6h0.6v0.6h-0.6zM98.7,468.0h0.6v0.6h-0.6zM114.1,469.9h0.6v0.6h-0.6zM104.5,467.2h0.6v0.6h-0.6zM100.8,464.7h0.6v0.6h-0.6zM101.7,464.4h0.6v0.6h-0.6zM115.0,480.4h0.6v0.6h-0.6zM119.2,462.2h0.6v0.6h-0.6zM99.9,468.0h0.6v0.6h-0.6zM109.1,470.4h0.6v0.6h-0.6zM119.5,471.5h0.6v0.6h-0.6zM100.5,470.3h0.6v0.6h-0.6zM99.1,471.4h0.6v0.6h-0.6zM100.5,466.4h0.6v0.6h-0.6zM99.8,468.1h0.6v0.6h-0.6zM101.4,478.7h0.6v0.6h-0.6zM102.9,474.0h0.6v0.6h-0.6zM102.8,468.0h0.6v0.6h-0.6zM100.5,464.8h0.6v0.6h-0.6zM105.7,474.5h0.6v0.6h-0.6zM100.5,475.3h0.6v0.6h-0.6zM113.7,473.0h0.6v0.6h-0.6zM100.2,469.4h0.6v0.6h-0.6zM117.0,477.3h0.6v0.6h-0.6zM112.8,459.3h0.6v0.6h-0.6zM109.2,476.3h0.6v0.6h-0.6zM108.0,467.2h0.6v0.6h-0.6zM107.0,468.6h0.6v0.6h-0.6zM115.9,473.5h0.6v0.6h-0.6zM111.8,473.7h0.6v0.6h-0.6zM105.6,470.7h0.6v0.6h-0.6zM107.6,458.7h0.6v0.6h-0.6zM107.3,472.1h0.6v0.6h-0.6zM108.7,473.5h0.6v0.6h-0.6zM119.4,470.5h0.6v0.6h-0.6zM110.7,459.6h0.6v0.6h-0.6zM104.6,464.9h0.6v0.6h-0.6zM101.0,470.0h0.6v0.6h-0.6zM103.5,462.3h0.6v0.6h-0.6zM109.6,468.1h0.6v0.6h-0.6zM116.6,466.7h0.6v0.6h-0.6zM116.9,460.1h0.6v0.6h-0.6zM101.0,476.0h0.6v0.6h-0.6zM114.4,471.7h0.6v0.6h-0.6zM112.2,466.6h0.6v0.6h-0.6zM109.3,474.2h0.6v0.6h-0.6zM111.3,470.9h0.6v0.6h-0.6zM110.3,471.3h0.6v0.6h-0.6zM108.4,460.3h0.6v0.6h-0.6zM108.3,463.7h0.6v0.6h-0.6zM99.9,469.2h0.6v0.6h-0.6zM105.3,461.6h0.6v0.6h-0.6zM98.6,470.2h0.6v0.6h-0.6zM99.6,469.0h0.6v0.6h-0.6zM105.1,470.0h0.6v0.6h-0.6zM108.0,461.8h0.6v0.6h-0.6zM109.8,463.3h0.6v0.6h-0.6zM106.3,472.2h0.6v0.6h-0.6zM108.6,462.3h0.6v0.6h-0.6zM108.0,469.6h0.6v0.6h-0.6zM113.3,465.9h0.6v0.6h-0.6zM102.4,470.2h0.6v0.6h-0.6zM107.8,466.9h0.6v0.6h-0.6zM103.0,469.4h0.6v0.6h-0.6zM117.8,470.3h0.6v0.6h-0.6zM106.0,466.2h0.6v0.6h-0.6zM113.7,469.2h0.6v0.6h-0.6zM102.9,476.1h0.6v0.6h-0.6zM114.6,463.7h0.6v0.6h-0.6zM100.4,475.9h0.6v0.6h-0.6zM99.1,477.5h0.6v0.6h-0.6zM101.7,479.6h0.6v0.6h-0.6zM104.4,469.5h0.6v0.6h-0.6zM114.5,474.1h0.6v0.6h-0.6zM111.5,475.7h0.6v0.6h-0.6zM101.4,473.7h0.6v0.6h-0.6zM117.2,464.3h0.6v0.6h-0.6zM114.7,455.2h0.6v0.6h-0.6zM98.9,473.3h0.6v0.6h-0.6zM101.5,464.6h0.6v0.6h-0.6zM110.6,469.4h0.6v0.6h-0.6zM109.1,472.6h0.6v0.6h-0.6zM118.2,459.8h0.6v0.6h-0.6zM99.6,475.4h0.6v0.6h-0.6zM109.1,477.2h0.6v0.6h-0.6zM107.9,470.5h0.6v0.6h-0.6zM101.6,472.1h0.6v0.6h-0.6zM103.8,470.6h0.6v0.6h-0.6zM105.6,477.2h0.6v0.6h-0.6zM103.4,464.0h0.6v0.6h-0.6zM101.3,459.8h0.6v0.6h-0.6zM111.0,481.0h0.6v0.6h-0.6zM112.5,467.8h0.6v0.6h-0.6zM114.4,468.3h0.6v0.6h-0.6zM99.9,470.1h0.6v0.6h-0.6zM113.9,469.3h0.6v0.6h-0.6zM100.3,461.0h0.6v0.6h-0.6zM104.5,462.7h0.6v0.6h-0.6zM102.0,461.0h0.6v0.6h-0.6zM113.3,472.9h0.6v0.6h-0.6zM100.0,462.9h0.6v0.6h-0.6zM112.2,467.3h0.6v0.6h-0.6zM107.7,474.2h0.6v0.6h-0.6zM99.4,471.1h0.6v0.6h-0.6zM106.7,466.3h0.6v0.6h-0.6zM101.4,465.2h0.6v0.6h-0.6zM116.9,474.3h0.6v0.6h-0.6zM126.0,469.1h0.6v0.6h-0.6zM110.4,465.2h0.6v0.6h-0.6zM106.7,472.9h0.6v0.6h-0.6zM110.6,473.0h0.6v0.6h-0.6zM105.6,461.3h0.6v0.6h-0.6zM114.4,470.8h0.6v0.6h-0.6zM105.9,471.9h0.6v0.6h-0.6zM106.9,459.0h0.6v0.6h-0.6zM104.5,483.5h0.6v0.6h-0.6zM102.2,477.2h0.6v0.6h-0.6zM102.0,479.4h0.6v0.6h-0.6zM101.0,479.6h0.6v0.6h-0.6zM115.9,465.7h0.6v0.6h-0.6zM123.7,477.5h0.6v0.6h-0.6zM105.4,468.7h0.6v0.6h-0.6zM105.4,464.5h0.6v0.6h-0.6zM107.8,469.1h0.6v0.6h-0.6zM107.7,468.9h0.6v0.6h-0.6zM105.4,468.6h0.6v0.6h-0.6zM98.7,474.4h0.6v0.6h-0.6zM114.6,466.9h0.6v0.6h-0.6zM109.5,462.7h0.6v0.6h-0.6zM113.4,464.1h0.6v0.6h-0.6zM103.1,473.8h0.6v0.6h-0.6zM111.3,465.6h0.6v0.6h-0.6zM105.6,474.6h0.6v0.6h-0.6zM104.9,464.4h0.6v0.6h-0.6zM99.4,467.2h0.6v0.6h-0.6zM102.9,472.0h0.6v0.6h-0.6zM104.4,476.8h0.6v0.6h-0.6zM110.3,468.4h0.6v0.6h-0.6zM112.0,468.4h0.6v0.6h-0.6zM113.1,472.5h0.6v0.6h-0.6zM104.4,469.4h0.6v0.6h-0.6zM111.8,472.0h0.6v0.6h-0.6zM104.8,472.6h0.6v0.6h-0.6zM103.6,462.6h0.6v0.6h-0.6zM110.3,475.1h0.6v0.6h-0.6zM114.5,468.2h0.6v0.6h-0.6zM104.0,464.4h0.6v0.6h-0.6zM103.3,466.0h0.6v0.6h-0.6zM109.6,473.2h0.6v0.6h-0.6zM107.0,475.0h0.6v0.6h-0.6zM111.4,466.4h0.6v0.6h-0.6zM103.8,462.1h0.6v0.6h-0.6zM99.1,470.2h0.6v0.6h-0.6zM99.8,464.1h0.6v0.6h-0.6zM112.3,468.8h0.6v0.6h-0.6zM101.9,464.3h0.6v0.6h-0.6zM99.0,463.2h0.6v0.6h-0.6zM104.9,461.7h0.6v0.6h-0.6zM110.4,472.4h0.6v0.6h-0.6zM102.5,473.1h0.6v0.6h-0.6zM111.8,466.5h0.6v0.6h-0.6zM102.3,465.3h0.6v0.6h-0.6zM99.7,466.5h0.6v0.6h-0.6zM103.4,471.3h0.6v0.6h-0.6zM120.9,470.4h0.6v0.6h-0.6zM110.5,467.3h0.6v0.6h-0.6zM116.4,469.2h0.6v0.6h-0.6zM101.2,467.1h0.6v0.6h-0.6zM102.9,466.5h0.6v0.6h-0.6zM104.2,478.0h0.6v0.6h-0.6zM103.3,464.5h0.6v0.6h-0.6zM103.9,470.4h0.6v0.6h-0.6zM106.5,474.7h0.6v0.6h-0.6zM108.3,462.8h0.6v0.6h-0.6zM120.7,457.5h0.6v0.6h-0.6zM109.5,460.1h0.6v0.6h-0.6zM98.6,462.0h0.6v0.6h-0.6zM102.7,471.1h0.6v0.6h-0.6zM99.2,465.0h0.6v0.6h-0.6zM103.1,473.2h0.6v0.6h-0.6zM99.5,472.8h0.6v0.6h-0.6zM104.3,458.6h0.6v0.6h-0.6zM99.1,454.0h0.6v0.6h-0.6zM106.8,463.5h0.6v0.6h-0.6zM101.8,469.1h0.6v0.6h-0.6zM100.9,474.7h0.6v0.6h-0.6zM107.0,467.6h0.6v0.6h-0.6zM121.3,460.0h0.6v0.6h-0.6zM104.4,464.2h0.6v0.6h-0.6zM120.0,469.9h0.6v0.6h-0.6zM109.1,470.4h0.6v0.6h-0.6zM114.4,465.4h0.6v0.6h-0.6zM109.8,459.2h0.6v0.6h-0.6zM107.0,474.4h0.6v0.6h-0.6zM109.5,471.5h0.6v0.6h-0.6zM99.5,476.4h0.6v0.6h-0.6zM106.7,471.8h0.6v0.6h-0.6zM113.1,471.1h0.6v0.6h-0.6zM100.7,461.5h0.6v0.6h-0.6zM106.3,466.0h0.6v0.6h-0.6zM99.8,475.2h0.6v0.6h-0.6zM101.5,467.0h0.6v0.6h-0.6zM111.6,466.4h0.6v0.6h-0.6zM106.6,477.5h0.6v0.6h-0.6zM106.4,471.9h0.6v0.6h-0.6zM104.1,469.4h0.6v0.6h-0.6zM103.4,482.0h0.6v0.6h-0.6zM100.4,465.4h0.6v0.6h-0.6zM102.0,465.3h0.6v0.6h-0.6zM107.2,473.2h0.6v0.6h-0.6zM115.2,473.9h0.6v0.6h-0.6zM112.3,462.6h0.6v0.6h-0.6zM112.8,458.3h0.6v0.6h-0.6zM110.5,466.1h0.6v0.6h-0.6zM99.9,467.4h0.6v0.6h-0.6zM101.9,468.0h0.6v0.6h-0.6zM102.7,466.3h0.6v0.6h-0.6zM109.2,462.0h0.6v0.6h-0.6zM110.2,475.0h0.6v0.6h-0.6zM103.7,476.1h0.6v0.6h-0.6zM98.9,471.8h0.6v0.6h-0.6zM105.8,467.7h0.6v0.6h-0.6zM100.9,466.3h0.6v0.6h-0.6zM107.6,469.6h0.6v0.6h-0.6zM100.8,471.8h0.6v0.6h-0.6zM101.6,471.1h0.6v0.6h-0.6zM112.8,469.6h0.6v0.6h-0.6zM102.8,465.3h0.6v0.6h-0.6zM114.0,473.5h0.6v0.6h-0.6zM106.7,469.9h0.6v0.6h-0.6zM104.8,462.1h0.6v0.6h-0.6zM118.1,470.3h0.6v0.6h-0.6zM109.7,472.1h0.6v0.6h-0.6zM120.4,474.3h0.6v0.6h-0.6zM140.2,458.6h0.6v0.6h-0.6zM108.3,475.5h0.6v0.6h-0.6zM109.4,469.7h0.6v0.6h-0.6zM113.5,474.6h0.6v0.6h-0.6zM104.6,462.0h0.6v0.6h-0.6zM100.5,473.8h0.6v0.6h-0.6zM105.6,468.5h0.6v0.6h-0.6zM123.7,471.7h0.6v0.6h-0.6zM110.3,463.7h0.6v0.6h-0.6zM112.5,466.0h0.6v0.6h-0.6zM100.9,466.1h0.6v0.6h-0.6zM105.2,474.7h0.6v0.6h-0.6zM108.6,469.9h0.6v0.6h-0.6zM101.5,465.3h0.6v0.6h-0.6zM105.5,454.2h0.6v0.6h-0.6zM102.7,467.3h0.6v0.6h-0.6zM109.1,463.5h0.6v0.6h-0.6zM101.4,466.4h0.6v0.6h-0.6zM105.0,471.8h0.6v0.6h-0.6zM105.4,462.1h0.6v0.6h-0.6zM114.0,470.3h0.6v0.6h-0.6zM108.6,461.5h0.6v0.6h-0.6zM111.5,480.8h0.6v0.6h-0.6zM106.8,474.5h0.6v0.6h-0.6zM102.0,472.0h0.6v0.6h-0.6zM103.8,469.9h0.6v0.6h-0.6zM102.4,482.0h0.6v0.6h-0.6zM113.6,465.0h0.6v0.6h-0.6zM102.2,463.8h0.6v0.6h-0.6zM115.1,472.3h0.6v0.6h-0.6zM102.5,461.1h0.6v0.6h-0.6zM113.0,474.6h0.6v0.6h-0.6zM109.5,477.3h0.6v0.6h-0.6zM109.8,470.9h0.6v0.6h-0.6zM102.2,465.8h0.6v0.6h-0.6zM111.1,469.9h0.6v0.6h-0.6zM109.8,462.3h0.6v0.6h-0.6zM103.0,470.8h0.6v0.6h-0.6zM111.1,459.5h0.6v0.6h-0.6zM100.9,464.9h0.6v0.6h-0.6zM102.6,467.7h0.6v0.6h-0.6zM106.1,472.8h0.6v0.6h-0.6zM104.8,468.1h0.6v0.6h-0.6zM110.0,476.1h0.6v0.6h-0.6zM103.1,464.2h0.6v0.6h-0.6zM117.4,473.5h0.6v0.6h-0.6zM120.9,466.3h0.6v0.6h-0.6zM99.3,467.6h0.6v0.6h-0.6zM101.8,460.6h0.6v0.6h-0.6zM109.6,460.4h0.6v0.6h-0.6zM100.2,480.1h0.6v0.6h-0.6zM108.3,465.0h0.6v0.6h-0.6zM113.9,469.8h0.6v0.6h-0.6zM102.9,465.2h0.6v0.6h-0.6zM104.0,472.8h0.6v0.6h-0.6zM116.7,471.8h0.6v0.6h-0.6zM103.0,458.0h0.6v0.6h-0.6zM103.3,466.6h0.6v0.6h-0.6zM100.8,474.5h0.6v0.6h-0.6zM103.0,469.4h0.6v0.6h-0.6zM100.0,469.0h0.6v0.6h-0.6zM114.0,469.8h0.6v0.6h-0.6zM112.5,471.5h0.6v0.6h-0.6zM103.4,471.7h0.6v0.6h-0.6zM100.7,475.9h0.6v0.6h-0.6zM101.9,477.6h0.6v0.6h-0.6zM105.8,475.6h0.6v0.6h-0.6zM101.3,458.7h0.6v0.6h-0.6zM117.6,467.7h0.6v0.6h-0.6zM99.5,466.4h0.6v0.6h-0.6zM104.3,470.7h0.6v0.6h-0.6zM116.2,463.8h0.6v0.6h-0.6zM101.4,470.1h0.6v0.6h-0.6zM115.8,475.7h0.6v0.6h-0.6zM102.3,469.2h0.6v0.6h-0.6zM110.8,467.8h0.6v0.6h-0.6zM104.0,462.5h0.6v0.6h-0.6zM106.0,468.1h0.6v0.6h-0.6zM121.4,470.4h0.6v0.6h-0.6zM105.6,469.6h0.6v0.6h-0.6zM115.4,473.5h0.6v0.6h-0.6zM120.3,464.1h0.6v0.6h-0.6zM98.9,468.0h0.6v0.6h-0.6zM104.3,462.1h0.6v0.6h-0.6zM105.0,460.9h0.6v0.6h-0.6zM104.8,470.3h0.6v0.6h-0.6zM105.2,468.0h0.6v0.6h-0.6zM102.8,465.7h0.6v0.6h-0.6zM117.9,476.0h0.6v0.6h-0.6zM104.8,475.8h0.6v0.6h-0.6zM99.9,470.9h0.6v0.6h-0.6zM99.9,463.5h0.6v0.6h-0.6zM110.5,471.1h0.6v0.6h-0.6zM101.2,468.7h0.6v0.6h-0.6zM99.4,468.3h0.6v0.6h-0.6zM109.2,473.5h0.6v0.6h-0.6zM101.8,466.8h0.6v0.6h-0.6zM107.6,463.5h0.6v0.6h-0.6zM105.9,472.5h0.6v0.6h-0.6zM100.0,466.7h0.6v0.6h-0.6zM107.7,466.5h0.6v0.6h-0.6zM99.8,469.6h0.6v0.6h-0.6zM104.7,471.7h0.6v0.6h-0.6zM106.3,471.5h0.6v0.6h-0.6zM115.5,470.0h0.6v0.6h-0.6zM113.0,461.2h0.6v0.6h-0.6zM106.2,465.5h0.6v0.6h-0.6zM102.9,470.8h0.6v0.6h-0.6zM113.1,471.1h0.6v0.6h-0.6zM117.5,474.3h0.6v0.6h-0.6zM107.2,467.7h0.6v0.6h-0.6zM114.2,466.9h0.6v0.6h-0.6zM111.0,468.7h0.6v0.6h-0.6zM108.4,470.2h0.6v0.6h-0.6zM111.8,469.2h0.6v0.6h-0.6zM118.3,463.2h0.6v0.6h-0.6zM104.0,463.5h0.6v0.6h-0.6zM102.1,463.4h0.6v0.6h-0.6zM106.7,473.6h0.6v0.6h-0.6zM112.8,474.2h0.6v0.6h-0.6zM102.5,475.0h0.6v0.6h-0.6zM106.7,461.6h0.6v0.6h-0.6zM114.1,463.7h0.6v0.6h-0.6zM109.3,466.8h0.6v0.6h-0.6zM106.3,474.5h0.6v0.6h-0.6zM102.2,468.2h0.6v0.6h-0.6zM105.6,475.9h0.6v0.6h-0.6zM112.5,472.7h0.6v0.6h-0.6zM119.8,467.8h0.6v0.6h-0.6zM105.9,468.5h0.6v0.6h-0.6zM104.1,472.4h0.6v0.6h-0.6zM110.7,457.2h0.6v0.6h-0.6zM104.1,474.8h0.6v0.6h-0.6zM113.1,462.9h0.6v0.6h-0.6zM105.9,467.4h0.6v0.6h-0.6zM109.5,467.5h0.6v0.6h-0.6zM100.6,473.0h0.6v0.6h-0.6zM115.1,463.0h0.6v0.6h-0.6zM106.3,468.1h0.6v0.6h-0.6zM115.8,466.1h0.6v0.6h-0.6zM101.9,471.0h0.6v0.6h-0.6zM105.7,472.3h0.6v0.6h-0.6zM104.8,470.4h0.6v0.6h-0.6zM109.9,473.1h0.6v0.6h-0.6zM110.6,467.9h0.6v0.6h-0.6zM119.7,470.2h0.6v0.6h-0.6zM104.7,459.6h0.6v0.6h-0.6zM105.4,467.8h0.6v0.6h-0.6zM113.2,472.4h0.6v0.6h-0.6zM107.2,467.6h0.6v0.6h-0.6zM106.2,474.2h0.6v0.6h-0.6z" fill="#4f6fd2" opacity="0.60"/>
<path d="M116.4,461.8h0.55v0.55h-0.55zM112.0,466.6h0.55v0.55h-0.55zM117.3,474.3h0.55v0.55h-0.55zM113.0,465.8h0.55v0.55h-0.55zM120.2,470.3h0.55v0.55h-0.55zM106.6,470.3h0.55v0.55h-0.55zM115.3,469.7h0.55v0.55h-0.55zM100.0,458.2h0.55v0.55h-0.55zM100.2,459.6h0.55v0.55h-0.55zM122.3,472.9h0.55v0.55h-0.55zM102.1,475.3h0.55v0.55h-0.55zM103.5,464.0h0.55v0.55h-0.55zM132.9,461.6h0.55v0.55h-0.55zM119.9,472.1h0.55v0.55h-0.55zM123.5,471.3h0.55v0.55h-0.55zM115.9,475.6h0.55v0.55h-0.55zM112.9,468.5h0.55v0.55h-0.55zM117.2,466.3h0.55v0.55h-0.55zM112.3,474.0h0.55v0.55h-0.55zM128.1,471.0h0.55v0.55h-0.55zM112.7,465.6h0.55v0.55h-0.55zM110.2,466.2h0.55v0.55h-0.55zM109.7,467.6h0.55v0.55h-0.55zM111.6,473.4h0.55v0.55h-0.55zM101.0,466.0h0.55v0.55h-0.55zM120.9,466.0h0.55v0.55h-0.55zM110.0,470.8h0.55v0.55h-0.55zM112.9,463.2h0.55v0.55h-0.55zM115.0,471.2h0.55v0.55h-0.55zM101.9,469.2h0.55v0.55h-0.55zM113.3,473.1h0.55v0.55h-0.55zM113.0,465.9h0.55v0.55h-0.55zM107.0,469.1h0.55v0.55h-0.55zM111.5,472.4h0.55v0.55h-0.55zM117.4,474.2h0.55v0.55h-0.55zM120.0,468.9h0.55v0.55h-0.55zM113.1,471.1h0.55v0.55h-0.55zM120.5,461.4h0.55v0.55h-0.55zM117.3,466.3h0.55v0.55h-0.55zM116.6,472.0h0.55v0.55h-0.55zM122.6,459.5h0.55v0.55h-0.55zM115.7,468.1h0.55v0.55h-0.55zM108.7,472.5h0.55v0.55h-0.55zM122.0,468.2h0.55v0.55h-0.55zM126.3,475.3h0.55v0.55h-0.55zM115.5,472.2h0.55v0.55h-0.55zM121.5,476.6h0.55v0.55h-0.55zM121.0,471.5h0.55v0.55h-0.55zM114.8,471.7h0.55v0.55h-0.55zM127.8,467.7h0.55v0.55h-0.55zM112.9,463.3h0.55v0.55h-0.55zM136.7,466.2h0.55v0.55h-0.55zM109.3,465.3h0.55v0.55h-0.55zM124.4,469.9h0.55v0.55h-0.55zM130.2,467.9h0.55v0.55h-0.55zM114.9,482.4h0.55v0.55h-0.55zM111.7,467.1h0.55v0.55h-0.55zM119.5,480.2h0.55v0.55h-0.55zM117.8,460.1h0.55v0.55h-0.55zM112.6,467.1h0.55v0.55h-0.55zM120.6,466.4h0.55v0.55h-0.55zM115.1,461.8h0.55v0.55h-0.55zM102.6,468.5h0.55v0.55h-0.55zM128.5,463.4h0.55v0.55h-0.55zM99.7,474.0h0.55v0.55h-0.55zM117.4,472.1h0.55v0.55h-0.55zM112.4,469.4h0.55v0.55h-0.55zM113.1,468.2h0.55v0.55h-0.55zM129.9,466.2h0.55v0.55h-0.55zM110.4,468.2h0.55v0.55h-0.55zM112.3,476.6h0.55v0.55h-0.55zM112.5,470.1h0.55v0.55h-0.55zM103.0,470.9h0.55v0.55h-0.55zM119.7,471.5h0.55v0.55h-0.55zM99.7,465.1h0.55v0.55h-0.55zM113.1,476.3h0.55v0.55h-0.55zM131.2,473.3h0.55v0.55h-0.55zM108.3,467.1h0.55v0.55h-0.55zM121.0,458.5h0.55v0.55h-0.55zM126.4,475.5h0.55v0.55h-0.55zM121.8,466.8h0.55v0.55h-0.55zM117.2,460.3h0.55v0.55h-0.55zM105.5,466.0h0.55v0.55h-0.55zM107.2,476.5h0.55v0.55h-0.55zM118.0,456.2h0.55v0.55h-0.55zM124.2,470.7h0.55v0.55h-0.55zM111.9,464.6h0.55v0.55h-0.55zM132.5,469.4h0.55v0.55h-0.55zM116.3,460.2h0.55v0.55h-0.55zM108.8,472.7h0.55v0.55h-0.55zM115.1,466.0h0.55v0.55h-0.55zM111.2,460.3h0.55v0.55h-0.55zM101.0,460.4h0.55v0.55h-0.55zM116.8,472.8h0.55v0.55h-0.55zM110.8,473.7h0.55v0.55h-0.55zM114.3,452.6h0.55v0.55h-0.55zM128.5,462.8h0.55v0.55h-0.55zM128.1,466.8h0.55v0.55h-0.55zM113.3,465.8h0.55v0.55h-0.55zM104.9,471.2h0.55v0.55h-0.55zM128.9,474.6h0.55v0.55h-0.55zM108.9,470.7h0.55v0.55h-0.55zM123.3,471.1h0.55v0.55h-0.55zM102.3,478.4h0.55v0.55h-0.55zM107.3,464.0h0.55v0.55h-0.55zM115.2,469.3h0.55v0.55h-0.55zM108.9,461.6h0.55v0.55h-0.55zM102.9,468.2h0.55v0.55h-0.55zM119.7,469.2h0.55v0.55h-0.55zM115.7,463.8h0.55v0.55h-0.55zM108.9,472.6h0.55v0.55h-0.55zM109.3,476.1h0.55v0.55h-0.55zM123.1,471.6h0.55v0.55h-0.55zM111.8,463.5h0.55v0.55h-0.55zM112.5,463.4h0.55v0.55h-0.55zM110.6,466.4h0.55v0.55h-0.55zM108.8,473.8h0.55v0.55h-0.55zM105.9,464.4h0.55v0.55h-0.55zM124.5,469.4h0.55v0.55h-0.55zM118.3,465.0h0.55v0.55h-0.55zM116.8,474.7h0.55v0.55h-0.55zM114.1,470.3h0.55v0.55h-0.55zM124.9,471.1h0.55v0.55h-0.55zM125.0,462.2h0.55v0.55h-0.55zM117.7,464.8h0.55v0.55h-0.55zM125.6,465.5h0.55v0.55h-0.55zM108.0,464.7h0.55v0.55h-0.55zM120.4,470.4h0.55v0.55h-0.55zM115.1,475.0h0.55v0.55h-0.55zM106.5,462.2h0.55v0.55h-0.55zM113.9,467.9h0.55v0.55h-0.55zM114.7,470.2h0.55v0.55h-0.55zM100.0,476.1h0.55v0.55h-0.55zM117.0,472.3h0.55v0.55h-0.55zM115.9,464.0h0.55v0.55h-0.55zM112.1,461.3h0.55v0.55h-0.55zM112.4,467.0h0.55v0.55h-0.55zM108.4,470.9h0.55v0.55h-0.55zM125.6,468.0h0.55v0.55h-0.55zM110.2,462.6h0.55v0.55h-0.55zM107.2,464.5h0.55v0.55h-0.55zM112.4,472.1h0.55v0.55h-0.55zM115.6,475.6h0.55v0.55h-0.55zM117.4,469.3h0.55v0.55h-0.55zM116.2,460.7h0.55v0.55h-0.55zM113.3,464.6h0.55v0.55h-0.55zM111.9,467.9h0.55v0.55h-0.55zM111.3,467.8h0.55v0.55h-0.55z" fill="#6f86da" opacity="0.50"/>
<path d="M113.6,454.5h0.55v0.55h-0.55zM105.5,457.5h0.55v0.55h-0.55zM111.2,454.8h0.55v0.55h-0.55zM124.7,461.3h0.55v0.55h-0.55zM128.2,451.8h0.55v0.55h-0.55zM114.1,455.3h0.55v0.55h-0.55zM111.6,452.2h0.55v0.55h-0.55zM117.5,458.6h0.55v0.55h-0.55zM128.4,450.3h0.55v0.55h-0.55zM114.5,449.2h0.55v0.55h-0.55zM108.7,441.1h0.55v0.55h-0.55zM127.8,445.0h0.55v0.55h-0.55zM111.7,444.0h0.55v0.55h-0.55zM108.1,447.8h0.55v0.55h-0.55zM109.0,452.3h0.55v0.55h-0.55zM108.3,447.3h0.55v0.55h-0.55zM122.9,449.4h0.55v0.55h-0.55zM112.6,460.5h0.55v0.55h-0.55zM111.2,452.4h0.55v0.55h-0.55zM118.4,450.8h0.55v0.55h-0.55zM111.3,452.2h0.55v0.55h-0.55zM107.7,456.7h0.55v0.55h-0.55zM113.0,460.0h0.55v0.55h-0.55zM113.9,445.9h0.55v0.55h-0.55zM113.9,451.5h0.55v0.55h-0.55zM108.7,457.7h0.55v0.55h-0.55zM114.1,444.9h0.55v0.55h-0.55zM126.8,452.2h0.55v0.55h-0.55zM114.6,447.3h0.55v0.55h-0.55zM112.9,450.3h0.55v0.55h-0.55zM122.9,454.3h0.55v0.55h-0.55zM112.7,449.8h0.55v0.55h-0.55zM118.6,446.0h0.55v0.55h-0.55zM113.0,455.3h0.55v0.55h-0.55zM120.0,462.0h0.55v0.55h-0.55zM113.9,462.0h0.55v0.55h-0.55zM114.4,452.0h0.55v0.55h-0.55zM107.5,446.8h0.55v0.55h-0.55zM118.1,450.1h0.55v0.55h-0.55zM105.6,454.7h0.55v0.55h-0.55zM114.6,449.2h0.55v0.55h-0.55zM112.4,452.1h0.55v0.55h-0.55zM111.8,452.2h0.55v0.55h-0.55zM107.4,440.7h0.55v0.55h-0.55zM106.0,458.8h0.55v0.55h-0.55zM108.1,453.7h0.55v0.55h-0.55zM115.6,447.9h0.55v0.55h-0.55zM111.3,451.5h0.55v0.55h-0.55zM113.6,455.9h0.55v0.55h-0.55zM111.3,451.8h0.55v0.55h-0.55zM118.3,453.5h0.55v0.55h-0.55zM114.3,449.9h0.55v0.55h-0.55zM110.2,448.1h0.55v0.55h-0.55zM111.8,445.5h0.55v0.55h-0.55zM118.7,455.2h0.55v0.55h-0.55zM116.2,446.1h0.55v0.55h-0.55zM112.1,455.4h0.55v0.55h-0.55zM107.9,465.0h0.55v0.55h-0.55zM122.7,451.1h0.55v0.55h-0.55zM106.1,446.3h0.55v0.55h-0.55zM115.1,458.6h0.55v0.55h-0.55zM111.4,449.4h0.55v0.55h-0.55zM106.4,455.6h0.55v0.55h-0.55zM119.6,451.4h0.55v0.55h-0.55zM113.8,443.1h0.55v0.55h-0.55zM106.4,452.7h0.55v0.55h-0.55zM108.3,454.3h0.55v0.55h-0.55zM105.9,452.2h0.55v0.55h-0.55zM115.8,459.6h0.55v0.55h-0.55zM105.9,446.8h0.55v0.55h-0.55zM119.5,454.6h0.55v0.55h-0.55zM110.6,459.4h0.55v0.55h-0.55zM123.4,451.0h0.55v0.55h-0.55zM120.4,458.1h0.55v0.55h-0.55zM113.2,457.4h0.55v0.55h-0.55zM105.2,450.8h0.55v0.55h-0.55zM117.2,448.0h0.55v0.55h-0.55zM112.3,452.6h0.55v0.55h-0.55zM110.6,446.4h0.55v0.55h-0.55zM108.5,464.0h0.55v0.55h-0.55zM111.1,454.8h0.55v0.55h-0.55zM119.6,445.5h0.55v0.55h-0.55zM109.4,455.7h0.55v0.55h-0.55zM113.7,446.8h0.55v0.55h-0.55zM123.2,447.6h0.55v0.55h-0.55zM118.1,462.5h0.55v0.55h-0.55zM107.3,448.6h0.55v0.55h-0.55zM110.3,447.6h0.55v0.55h-0.55zM107.3,447.2h0.55v0.55h-0.55zM117.7,449.2h0.55v0.55h-0.55zM108.8,450.9h0.55v0.55h-0.55zM107.7,450.4h0.55v0.55h-0.55zM108.8,456.4h0.55v0.55h-0.55zM108.6,459.1h0.55v0.55h-0.55zM118.1,447.4h0.55v0.55h-0.55z" fill="#6f80d8" opacity="0.55"/>
<path d="M106.8,450.6h0.55v0.55h-0.55zM109.9,443.8h0.55v0.55h-0.55zM111.5,451.8h0.55v0.55h-0.55zM113.9,451.4h0.55v0.55h-0.55zM116.2,456.8h0.55v0.55h-0.55zM107.1,454.9h0.55v0.55h-0.55zM107.6,446.6h0.55v0.55h-0.55zM113.3,448.8h0.55v0.55h-0.55zM107.4,451.3h0.55v0.55h-0.55zM116.3,455.0h0.55v0.55h-0.55zM107.4,450.1h0.55v0.55h-0.55zM115.2,452.0h0.55v0.55h-0.55z" fill="#c070b0" opacity="0.50"/>
<path d="M101.3,460.2h0.6v0.6h-0.6zM99.2,477.7h0.6v0.6h-0.6zM97.2,469.4h0.6v0.6h-0.6zM104.7,480.3h0.6v0.6h-0.6zM94.9,466.8h0.6v0.6h-0.6zM103.7,472.4h0.6v0.6h-0.6zM103.4,467.1h0.6v0.6h-0.6zM92.9,469.6h0.6v0.6h-0.6zM101.9,462.9h0.6v0.6h-0.6zM102.7,460.5h0.6v0.6h-0.6zM102.0,463.5h0.6v0.6h-0.6zM96.4,472.1h0.6v0.6h-0.6zM97.0,468.0h0.6v0.6h-0.6zM95.3,463.5h0.6v0.6h-0.6zM101.1,474.1h0.6v0.6h-0.6zM95.1,454.4h0.6v0.6h-0.6zM99.1,448.8h0.6v0.6h-0.6zM101.6,468.0h0.6v0.6h-0.6zM96.1,467.3h0.6v0.6h-0.6zM101.0,483.5h0.6v0.6h-0.6zM97.8,475.1h0.6v0.6h-0.6zM97.8,457.5h0.6v0.6h-0.6zM97.6,464.0h0.6v0.6h-0.6zM93.7,456.5h0.6v0.6h-0.6zM104.5,439.8h0.6v0.6h-0.6zM102.3,469.7h0.6v0.6h-0.6zM97.6,451.8h0.6v0.6h-0.6zM103.2,456.8h0.6v0.6h-0.6zM100.2,458.3h0.6v0.6h-0.6zM95.0,472.8h0.6v0.6h-0.6zM101.5,449.9h0.6v0.6h-0.6zM103.1,446.3h0.6v0.6h-0.6zM94.5,470.8h0.6v0.6h-0.6zM97.5,460.8h0.6v0.6h-0.6zM104.9,448.3h0.6v0.6h-0.6zM101.4,456.1h0.6v0.6h-0.6zM99.5,458.2h0.6v0.6h-0.6zM96.2,461.4h0.6v0.6h-0.6zM95.8,461.0h0.6v0.6h-0.6zM95.6,457.6h0.6v0.6h-0.6zM99.6,444.6h0.6v0.6h-0.6zM98.9,468.9h0.6v0.6h-0.6zM99.5,471.6h0.6v0.6h-0.6zM95.5,467.6h0.6v0.6h-0.6zM100.3,428.9h0.6v0.6h-0.6zM99.1,471.0h0.6v0.6h-0.6zM98.9,461.2h0.6v0.6h-0.6zM98.6,459.0h0.6v0.6h-0.6zM95.3,452.9h0.6v0.6h-0.6zM99.0,463.4h0.6v0.6h-0.6zM101.4,466.7h0.6v0.6h-0.6zM98.8,442.6h0.6v0.6h-0.6zM94.8,480.3h0.6v0.6h-0.6zM100.6,468.5h0.6v0.6h-0.6zM95.3,455.3h0.6v0.6h-0.6zM100.1,451.8h0.6v0.6h-0.6zM103.4,452.0h0.6v0.6h-0.6zM97.6,447.4h0.6v0.6h-0.6zM100.4,475.8h0.6v0.6h-0.6zM99.9,460.7h0.6v0.6h-0.6zM97.8,470.0h0.6v0.6h-0.6zM99.1,481.1h0.6v0.6h-0.6zM98.1,456.4h0.6v0.6h-0.6zM97.2,438.7h0.6v0.6h-0.6zM99.9,462.3h0.6v0.6h-0.6zM93.3,447.3h0.6v0.6h-0.6zM95.2,457.2h0.6v0.6h-0.6zM95.4,469.6h0.6v0.6h-0.6zM103.4,453.3h0.6v0.6h-0.6zM99.2,448.5h0.6v0.6h-0.6zM103.9,448.2h0.6v0.6h-0.6zM96.3,460.9h0.6v0.6h-0.6zM98.4,458.0h0.6v0.6h-0.6zM95.5,459.8h0.6v0.6h-0.6zM96.9,455.9h0.6v0.6h-0.6zM102.7,453.9h0.6v0.6h-0.6zM100.6,453.5h0.6v0.6h-0.6zM102.7,452.0h0.6v0.6h-0.6zM95.6,457.9h0.6v0.6h-0.6zM103.6,456.1h0.6v0.6h-0.6zM96.0,459.0h0.6v0.6h-0.6zM96.5,463.8h0.6v0.6h-0.6zM96.7,464.5h0.6v0.6h-0.6zM102.3,466.5h0.6v0.6h-0.6zM104.5,464.3h0.6v0.6h-0.6zM105.8,475.4h0.6v0.6h-0.6zM98.1,469.8h0.6v0.6h-0.6zM96.5,458.5h0.6v0.6h-0.6zM98.8,451.7h0.6v0.6h-0.6zM100.2,459.8h0.6v0.6h-0.6zM106.3,469.7h0.6v0.6h-0.6zM98.2,453.1h0.6v0.6h-0.6zM97.2,452.9h0.6v0.6h-0.6zM96.4,460.9h0.6v0.6h-0.6zM94.3,457.3h0.6v0.6h-0.6zM100.9,454.1h0.6v0.6h-0.6zM95.1,455.1h0.6v0.6h-0.6zM102.2,452.0h0.6v0.6h-0.6zM104.7,441.7h0.6v0.6h-0.6zM96.2,467.8h0.6v0.6h-0.6zM103.9,458.5h0.6v0.6h-0.6zM93.2,457.6h0.6v0.6h-0.6zM95.9,452.9h0.6v0.6h-0.6zM97.8,453.9h0.6v0.6h-0.6zM99.0,462.5h0.6v0.6h-0.6zM98.1,440.3h0.6v0.6h-0.6zM98.5,430.8h0.6v0.6h-0.6zM99.4,455.9h0.6v0.6h-0.6zM105.1,476.1h0.6v0.6h-0.6zM99.9,455.2h0.6v0.6h-0.6zM100.8,479.5h0.6v0.6h-0.6zM98.8,459.1h0.6v0.6h-0.6zM97.0,460.0h0.6v0.6h-0.6zM102.1,450.3h0.6v0.6h-0.6zM102.9,462.4h0.6v0.6h-0.6zM107.1,463.0h0.6v0.6h-0.6zM103.7,449.5h0.6v0.6h-0.6zM107.8,461.8h0.6v0.6h-0.6zM98.8,478.0h0.6v0.6h-0.6zM99.7,446.7h0.6v0.6h-0.6zM101.3,467.1h0.6v0.6h-0.6zM99.1,455.5h0.6v0.6h-0.6zM93.3,480.1h0.6v0.6h-0.6zM97.6,465.0h0.6v0.6h-0.6zM97.3,452.8h0.6v0.6h-0.6zM100.1,450.8h0.6v0.6h-0.6zM102.5,442.5h0.6v0.6h-0.6zM101.3,474.4h0.6v0.6h-0.6zM97.6,463.4h0.6v0.6h-0.6zM102.1,455.9h0.6v0.6h-0.6zM98.3,458.8h0.6v0.6h-0.6zM108.9,451.6h0.6v0.6h-0.6zM98.5,455.8h0.6v0.6h-0.6zM97.2,450.4h0.6v0.6h-0.6zM96.8,462.7h0.6v0.6h-0.6zM103.3,479.5h0.6v0.6h-0.6zM94.6,449.8h0.6v0.6h-0.6zM99.1,449.8h0.6v0.6h-0.6zM96.4,458.4h0.6v0.6h-0.6zM97.2,451.3h0.6v0.6h-0.6zM99.9,452.1h0.6v0.6h-0.6zM98.2,464.6h0.6v0.6h-0.6zM101.7,463.3h0.6v0.6h-0.6zM103.1,462.7h0.6v0.6h-0.6zM93.9,477.7h0.6v0.6h-0.6zM109.4,470.2h0.6v0.6h-0.6zM104.9,473.6h0.6v0.6h-0.6zM97.6,468.1h0.6v0.6h-0.6zM96.7,454.5h0.6v0.6h-0.6zM101.2,462.0h0.6v0.6h-0.6zM96.8,444.8h0.6v0.6h-0.6zM102.0,461.0h0.6v0.6h-0.6zM99.7,450.9h0.6v0.6h-0.6zM96.4,460.5h0.6v0.6h-0.6zM92.5,474.8h0.6v0.6h-0.6zM99.3,473.5h0.6v0.6h-0.6zM102.6,454.5h0.6v0.6h-0.6zM101.0,448.3h0.6v0.6h-0.6zM95.9,476.3h0.6v0.6h-0.6zM97.3,452.2h0.6v0.6h-0.6zM100.9,461.3h0.6v0.6h-0.6zM102.7,446.5h0.6v0.6h-0.6zM98.3,448.8h0.6v0.6h-0.6zM99.3,457.9h0.6v0.6h-0.6zM95.8,441.2h0.6v0.6h-0.6zM94.3,471.7h0.6v0.6h-0.6zM97.9,448.6h0.6v0.6h-0.6zM99.8,448.3h0.6v0.6h-0.6zM102.5,471.0h0.6v0.6h-0.6zM99.3,454.5h0.6v0.6h-0.6zM92.7,466.6h0.6v0.6h-0.6zM106.5,463.3h0.6v0.6h-0.6zM97.3,470.2h0.6v0.6h-0.6zM97.8,447.2h0.6v0.6h-0.6zM98.8,467.9h0.6v0.6h-0.6zM92.7,472.9h0.6v0.6h-0.6zM105.0,460.8h0.6v0.6h-0.6zM97.5,444.9h0.6v0.6h-0.6zM101.1,457.9h0.6v0.6h-0.6zM103.6,478.9h0.6v0.6h-0.6zM103.6,463.1h0.6v0.6h-0.6zM92.7,476.2h0.6v0.6h-0.6zM97.5,455.6h0.6v0.6h-0.6zM103.0,466.5h0.6v0.6h-0.6zM95.5,457.3h0.6v0.6h-0.6zM98.2,459.4h0.6v0.6h-0.6zM95.0,478.1h0.6v0.6h-0.6zM98.7,468.6h0.6v0.6h-0.6zM101.8,452.8h0.6v0.6h-0.6zM97.6,471.1h0.6v0.6h-0.6zM105.1,444.5h0.6v0.6h-0.6zM106.1,454.7h0.6v0.6h-0.6zM98.5,456.2h0.6v0.6h-0.6zM101.3,458.9h0.6v0.6h-0.6zM99.1,450.6h0.6v0.6h-0.6zM104.4,465.2h0.6v0.6h-0.6zM101.6,476.9h0.6v0.6h-0.6zM98.3,462.8h0.6v0.6h-0.6zM98.7,471.1h0.6v0.6h-0.6zM100.3,441.9h0.6v0.6h-0.6zM101.3,458.7h0.6v0.6h-0.6zM100.1,472.2h0.6v0.6h-0.6zM98.3,468.5h0.6v0.6h-0.6zM99.3,460.2h0.6v0.6h-0.6zM97.4,460.0h0.6v0.6h-0.6zM98.1,470.2h0.6v0.6h-0.6zM91.0,467.8h0.6v0.6h-0.6zM99.0,449.3h0.6v0.6h-0.6zM102.0,460.8h0.6v0.6h-0.6zM101.2,476.5h0.6v0.6h-0.6zM100.0,443.1h0.6v0.6h-0.6zM93.5,460.6h0.6v0.6h-0.6zM98.9,440.8h0.6v0.6h-0.6zM91.5,455.0h0.6v0.6h-0.6zM90.6,466.8h0.6v0.6h-0.6zM91.0,471.2h0.6v0.6h-0.6zM97.5,474.0h0.6v0.6h-0.6zM95.1,456.0h0.6v0.6h-0.6zM103.2,442.8h0.6v0.6h-0.6zM101.6,477.8h0.6v0.6h-0.6zM95.7,459.5h0.6v0.6h-0.6zM105.2,478.2h0.6v0.6h-0.6zM105.1,460.1h0.6v0.6h-0.6zM98.0,459.3h0.6v0.6h-0.6zM97.9,470.7h0.6v0.6h-0.6zM102.3,467.2h0.6v0.6h-0.6zM96.8,470.2h0.6v0.6h-0.6zM101.0,464.0h0.6v0.6h-0.6zM103.7,457.0h0.6v0.6h-0.6zM99.7,473.9h0.6v0.6h-0.6zM96.6,471.4h0.6v0.6h-0.6zM101.9,478.4h0.6v0.6h-0.6zM103.9,454.8h0.6v0.6h-0.6zM105.7,456.1h0.6v0.6h-0.6zM95.0,458.2h0.6v0.6h-0.6zM98.0,451.1h0.6v0.6h-0.6zM102.8,467.2h0.6v0.6h-0.6zM101.5,445.7h0.6v0.6h-0.6zM105.8,466.7h0.6v0.6h-0.6zM103.5,465.4h0.6v0.6h-0.6zM100.6,470.1h0.6v0.6h-0.6zM99.9,477.2h0.6v0.6h-0.6zM97.5,438.2h0.6v0.6h-0.6zM98.0,461.3h0.6v0.6h-0.6zM100.8,462.5h0.6v0.6h-0.6zM100.9,466.6h0.6v0.6h-0.6zM98.7,467.7h0.6v0.6h-0.6zM101.3,452.6h0.6v0.6h-0.6zM93.0,464.0h0.6v0.6h-0.6zM101.1,473.7h0.6v0.6h-0.6zM103.3,464.8h0.6v0.6h-0.6zM103.5,454.9h0.6v0.6h-0.6zM97.7,476.8h0.6v0.6h-0.6zM95.1,461.2h0.6v0.6h-0.6zM95.6,447.7h0.6v0.6h-0.6zM106.9,441.4h0.6v0.6h-0.6zM105.7,456.4h0.6v0.6h-0.6zM96.6,442.6h0.6v0.6h-0.6zM100.1,468.6h0.6v0.6h-0.6zM101.4,451.1h0.6v0.6h-0.6zM105.2,463.9h0.6v0.6h-0.6zM101.2,468.2h0.6v0.6h-0.6zM101.4,457.9h0.6v0.6h-0.6zM100.6,453.4h0.6v0.6h-0.6zM100.3,450.6h0.6v0.6h-0.6zM94.2,454.8h0.6v0.6h-0.6zM98.8,453.7h0.6v0.6h-0.6zM98.3,455.3h0.6v0.6h-0.6zM99.5,481.3h0.6v0.6h-0.6zM101.4,471.1h0.6v0.6h-0.6zM102.9,471.4h0.6v0.6h-0.6zM100.8,471.1h0.6v0.6h-0.6zM103.2,459.7h0.6v0.6h-0.6zM98.4,461.4h0.6v0.6h-0.6zM99.2,466.8h0.6v0.6h-0.6zM97.8,456.9h0.6v0.6h-0.6zM100.2,467.1h0.6v0.6h-0.6zM99.0,444.7h0.6v0.6h-0.6zM98.5,471.0h0.6v0.6h-0.6zM98.6,475.7h0.6v0.6h-0.6zM97.6,458.8h0.6v0.6h-0.6zM102.2,474.7h0.6v0.6h-0.6zM98.3,478.1h0.6v0.6h-0.6zM100.0,466.1h0.6v0.6h-0.6zM105.7,471.0h0.6v0.6h-0.6zM98.6,460.9h0.6v0.6h-0.6zM96.2,474.2h0.6v0.6h-0.6zM100.6,482.7h0.6v0.6h-0.6zM103.7,461.8h0.6v0.6h-0.6zM97.2,458.0h0.6v0.6h-0.6zM103.8,460.2h0.6v0.6h-0.6zM103.4,475.5h0.6v0.6h-0.6zM104.7,464.5h0.6v0.6h-0.6zM101.9,447.3h0.6v0.6h-0.6zM100.6,462.0h0.6v0.6h-0.6zM102.7,441.9h0.6v0.6h-0.6zM100.0,456.4h0.6v0.6h-0.6zM99.7,460.1h0.6v0.6h-0.6zM98.2,468.4h0.6v0.6h-0.6zM100.3,474.5h0.6v0.6h-0.6zM108.3,469.9h0.6v0.6h-0.6zM100.6,478.3h0.6v0.6h-0.6zM94.5,482.0h0.6v0.6h-0.6zM95.4,456.4h0.6v0.6h-0.6zM99.6,446.7h0.6v0.6h-0.6zM97.2,463.6h0.6v0.6h-0.6zM100.9,446.0h0.6v0.6h-0.6zM88.8,469.2h0.6v0.6h-0.6zM93.5,465.6h0.6v0.6h-0.6zM101.1,470.7h0.6v0.6h-0.6zM97.4,454.9h0.6v0.6h-0.6zM110.3,460.6h0.6v0.6h-0.6zM95.8,446.9h0.6v0.6h-0.6zM98.5,481.0h0.6v0.6h-0.6zM101.9,451.6h0.6v0.6h-0.6zM94.5,454.7h0.6v0.6h-0.6zM99.3,464.9h0.6v0.6h-0.6zM101.1,474.2h0.6v0.6h-0.6zM94.7,444.3h0.6v0.6h-0.6zM99.1,468.3h0.6v0.6h-0.6zM97.4,464.7h0.6v0.6h-0.6zM99.1,474.7h0.6v0.6h-0.6zM98.6,456.4h0.6v0.6h-0.6zM101.2,472.9h0.6v0.6h-0.6zM97.1,460.5h0.6v0.6h-0.6zM96.8,448.9h0.6v0.6h-0.6zM108.0,454.8h0.6v0.6h-0.6zM98.2,457.8h0.6v0.6h-0.6zM96.5,460.1h0.6v0.6h-0.6zM99.0,465.9h0.6v0.6h-0.6zM97.4,445.7h0.6v0.6h-0.6zM98.9,469.6h0.6v0.6h-0.6zM103.9,460.7h0.6v0.6h-0.6zM98.4,453.2h0.6v0.6h-0.6zM104.7,454.9h0.6v0.6h-0.6zM97.5,461.1h0.6v0.6h-0.6zM98.6,462.4h0.6v0.6h-0.6zM100.9,480.8h0.6v0.6h-0.6zM101.2,466.4h0.6v0.6h-0.6zM101.2,471.7h0.6v0.6h-0.6zM98.2,460.7h0.6v0.6h-0.6zM98.0,459.7h0.6v0.6h-0.6zM98.0,470.6h0.6v0.6h-0.6zM103.2,461.2h0.6v0.6h-0.6zM98.3,471.2h0.6v0.6h-0.6zM98.6,467.9h0.6v0.6h-0.6zM97.1,477.5h0.6v0.6h-0.6zM97.7,468.0h0.6v0.6h-0.6zM105.5,466.2h0.6v0.6h-0.6zM98.4,470.1h0.6v0.6h-0.6zM104.8,436.6h0.6v0.6h-0.6zM98.0,460.0h0.6v0.6h-0.6zM102.4,444.7h0.6v0.6h-0.6zM102.2,462.4h0.6v0.6h-0.6zM101.4,450.2h0.6v0.6h-0.6zM99.8,468.5h0.6v0.6h-0.6zM95.7,429.6h0.6v0.6h-0.6zM99.1,459.2h0.6v0.6h-0.6zM101.8,462.4h0.6v0.6h-0.6zM94.7,436.4h0.6v0.6h-0.6zM103.3,472.7h0.6v0.6h-0.6zM98.9,458.9h0.6v0.6h-0.6zM101.9,455.7h0.6v0.6h-0.6zM94.8,475.9h0.6v0.6h-0.6zM94.4,457.1h0.6v0.6h-0.6zM104.0,467.1h0.6v0.6h-0.6zM103.3,478.7h0.6v0.6h-0.6zM100.1,445.0h0.6v0.6h-0.6z" fill="#3f5fc4" opacity="0.60"/>
<g filter="url(#bl)" opacity="0.92">
<ellipse cx="99.60" cy="450.80" rx="5.40" ry="9.80" fill="#2f4fa8" opacity="1.00" transform="rotate(6 99.60 450.80)"/>
<ellipse cx="98.70" cy="461.60" rx="3.00" ry="4.50" fill="#3a5ab4" opacity="0.90" transform="rotate(0 98.70 461.60)"/>
<ellipse cx="98.10" cy="471.00" rx="2.90" ry="8.60" fill="#4668c0" opacity="0.55" transform="rotate(0 98.10 471.00)"/>
<ellipse cx="99.60" cy="450.80" rx="4.70" ry="9.10" fill="#3c74d0" opacity="1.00" transform="rotate(6 99.60 450.80)"/>
<ellipse cx="98.70" cy="461.60" rx="2.10" ry="3.80" fill="#4a78cc" opacity="0.80" transform="rotate(0 98.70 461.60)"/>
<ellipse cx="99.60" cy="450.80" rx="4.00" ry="8.20" fill="#45b5d8" opacity="1.00" transform="rotate(6 99.60 450.80)"/>
<ellipse cx="98.10" cy="470.00" rx="1.60" ry="6.00" fill="#5a86d0" opacity="0.50" transform="rotate(0 98.10 470.00)"/>
<ellipse cx="99.60" cy="450.80" rx="3.50" ry="7.60" fill="#6cc66a" opacity="1.00" transform="rotate(6 99.60 450.80)"/>
<ellipse cx="99.60" cy="450.50" rx="2.70" ry="5.90" fill="#e8d83a" opacity="1.00" transform="rotate(6 99.60 450.50)"/>
<ellipse cx="99.50" cy="450.50" rx="1.80" ry="3.90" fill="#f0982a" opacity="1.00" transform="rotate(6 99.50 450.50)"/>
</g>
<rect x="81.50" y="417.00" width="68.50" height="68.60" fill="none" stroke="#808080" stroke-width="0.7" />
<rect x="104.90" y="442.30" width="23.90" height="13.30" fill="none" stroke="#333" stroke-width="0.7" />
<text x="120.45" y="440.00" font-size="6.70" fill="#2e2e2e" text-anchor="middle" textLength="14.00" lengthAdjust="spacingAndGlyphs">LSKs</text>
<text x="78.80" y="341.00" font-size="6.70" fill="#2e2e2e" text-anchor="end" textLength="9.20" lengthAdjust="spacingAndGlyphs">10<tspan dy="-2.41" font-size="4.02">5</tspan></text>
<text x="78.80" y="357.20" font-size="6.70" fill="#2e2e2e" text-anchor="end" textLength="9.20" lengthAdjust="spacingAndGlyphs">10<tspan dy="-2.41" font-size="4.02">4</tspan></text>
<text x="78.80" y="376.00" font-size="6.70" fill="#2e2e2e" text-anchor="end" textLength="9.20" lengthAdjust="spacingAndGlyphs">10<tspan dy="-2.41" font-size="4.02">3</tspan></text>
<text x="78.80" y="386.70" font-size="6.70" fill="#2e2e2e" text-anchor="end">0</text>
<text x="78.80" y="398.20" font-size="6.70" fill="#2e2e2e" text-anchor="end" textLength="12.20" lengthAdjust="spacingAndGlyphs">−10<tspan dy="-2.41" font-size="4.02">3</tspan></text>
<text x="78.80" y="426.00" font-size="6.70" fill="#2e2e2e" text-anchor="end" textLength="9.20" lengthAdjust="spacingAndGlyphs">10<tspan dy="-2.41" font-size="4.02">5</tspan></text>
<text x="78.80" y="442.70" font-size="6.70" fill="#2e2e2e" text-anchor="end" textLength="9.20" lengthAdjust="spacingAndGlyphs">10<tspan dy="-2.41" font-size="4.02">4</tspan></text>
<text x="78.80" y="461.20" font-size="6.70" fill="#2e2e2e" text-anchor="end" textLength="9.20" lengthAdjust="spacingAndGlyphs">10<tspan dy="-2.41" font-size="4.02">3</tspan></text>
<text x="78.80" y="473.00" font-size="6.70" fill="#2e2e2e" text-anchor="end">0</text>
<text x="78.80" y="483.00" font-size="6.70" fill="#2e2e2e" text-anchor="end" textLength="12.20" lengthAdjust="spacingAndGlyphs">−10<tspan dy="-2.41" font-size="4.02">3</tspan></text>
<text x="86.00" y="411.70" font-size="6.70" fill="#2e2e2e" text-anchor="middle" textLength="12.20" lengthAdjust="spacingAndGlyphs">−10<tspan dy="-2.41" font-size="4.02">3</tspan></text>
<text x="99.00" y="411.70" font-size="6.70" fill="#2e2e2e" text-anchor="middle">0</text>
<text x="108.80" y="411.70" font-size="6.70" fill="#2e2e2e" text-anchor="middle" textLength="9.20" lengthAdjust="spacingAndGlyphs">10<tspan dy="-2.41" font-size="4.02">3</tspan></text>
<text x="128.80" y="411.70" font-size="6.70" fill="#2e2e2e" text-anchor="middle" textLength="9.20" lengthAdjust="spacingAndGlyphs">10<tspan dy="-2.41" font-size="4.02">4</tspan></text>
<text x="144.50" y="411.70" font-size="6.70" fill="#2e2e2e" text-anchor="middle" textLength="9.20" lengthAdjust="spacingAndGlyphs">10<tspan dy="-2.41" font-size="4.02">5</tspan></text>
<text x="86.00" y="496.00" font-size="6.70" fill="#2e2e2e" text-anchor="middle" textLength="12.20" lengthAdjust="spacingAndGlyphs">−10<tspan dy="-2.41" font-size="4.02">3</tspan></text>
<text x="99.00" y="496.00" font-size="6.70" fill="#2e2e2e" text-anchor="middle">0</text>
<text x="108.80" y="496.00" font-size="6.70" fill="#2e2e2e" text-anchor="middle" textLength="9.20" lengthAdjust="spacingAndGlyphs">10<tspan dy="-2.41" font-size="4.02">3</tspan></text>
<text x="128.80" y="496.00" font-size="6.70" fill="#2e2e2e" text-anchor="middle" textLength="9.20" lengthAdjust="spacingAndGlyphs">10<tspan dy="-2.41" font-size="4.02">4</tspan></text>
<text x="144.50" y="496.00" font-size="6.70" fill="#2e2e2e" text-anchor="middle" textLength="9.20" lengthAdjust="spacingAndGlyphs">10<tspan dy="-2.41" font-size="4.02">5</tspan></text>
<rect x="98.00" y="400.50" width="2.00" height="1.40" fill="#222" />
<rect x="98.00" y="485.50" width="2.00" height="1.40" fill="#222" />
<rect x="81.00" y="383.50" width="1.40" height="2.00" fill="#222" />
<rect x="81.00" y="469.80" width="1.40" height="2.00" fill="#222" />
<line x1="61.30" y1="503.40" x2="61.30" y2="472.72" stroke="#231f20" stroke-width="1.1" />
<path d="M61.30,470.00 L58.58,475.10 L64.02,475.10 Z" fill="#231f20"/>
<line x1="60.80" y1="503.00" x2="91.28" y2="503.00" stroke="#231f20" stroke-width="1.1" />
<path d="M94.00,503.00 L88.90,500.28 L88.90,505.72 Z" fill="#231f20"/>
<text x="57.30" y="487.50" font-size="9.60" fill="#2e2e2e" text-anchor="middle" textLength="17.00" lengthAdjust="spacingAndGlyphs" transform="rotate(-90 57.30 487.50)">c-Kit</text>
<text x="79.20" y="513.00" font-size="9.60" fill="#2e2e2e" text-anchor="middle" textLength="16.20" lengthAdjust="spacingAndGlyphs">Sca-1</text>
<text x="223.40" y="330.40" font-size="6.30" fill="#2e2e2e" text-anchor="middle" textLength="14.30" lengthAdjust="spacingAndGlyphs">LSKs</text>
<path d="M225.8,378.1h.6v.6h-.6zM231.3,372.5h.6v.6h-.6zM231.2,375.9h.6v.6h-.6zM232.0,374.6h.6v.6h-.6zM234.2,372.5h.6v.6h-.6zM233.3,372.7h.6v.6h-.6zM231.6,375.5h.6v.6h-.6zM233.1,374.8h.6v.6h-.6zM231.1,377.2h.6v.6h-.6zM233.9,366.3h.6v.6h-.6zM232.5,373.8h.6v.6h-.6zM230.3,375.6h.6v.6h-.6zM229.4,378.6h.6v.6h-.6zM231.6,378.5h.6v.6h-.6zM233.8,376.0h.6v.6h-.6zM230.1,374.0h.6v.6h-.6zM232.4,374.5h.6v.6h-.6zM230.5,371.4h.6v.6h-.6zM233.0,376.4h.6v.6h-.6zM229.4,373.7h.6v.6h-.6zM232.7,374.8h.6v.6h-.6zM234.6,372.3h.6v.6h-.6zM230.7,378.9h.6v.6h-.6zM234.0,374.6h.6v.6h-.6zM232.1,376.7h.6v.6h-.6zM226.0,379.8h.6v.6h-.6zM234.2,375.2h.6v.6h-.6zM232.6,374.1h.6v.6h-.6zM230.6,375.5h.6v.6h-.6zM231.6,371.2h.6v.6h-.6zM233.5,375.9h.6v.6h-.6zM225.8,378.0h.6v.6h-.6zM229.5,378.0h.6v.6h-.6zM231.8,373.6h.6v.6h-.6zM232.3,373.0h.6v.6h-.6zM229.3,380.4h.6v.6h-.6zM230.7,374.9h.6v.6h-.6zM225.6,377.7h.6v.6h-.6zM230.1,378.7h.6v.6h-.6zM228.2,376.7h.6v.6h-.6zM230.5,377.9h.6v.6h-.6zM233.8,374.9h.6v.6h-.6zM231.3,378.9h.6v.6h-.6zM234.9,371.7h.6v.6h-.6zM235.1,374.1h.6v.6h-.6zM231.2,373.8h.6v.6h-.6zM232.8,374.4h.6v.6h-.6zM235.5,375.7h.6v.6h-.6zM231.2,375.1h.6v.6h-.6zM233.8,372.3h.6v.6h-.6zM229.3,378.9h.6v.6h-.6zM231.6,371.6h.6v.6h-.6zM236.7,372.6h.6v.6h-.6zM229.5,378.5h.6v.6h-.6zM232.8,374.9h.6v.6h-.6zM232.7,375.3h.6v.6h-.6zM229.7,377.2h.6v.6h-.6zM231.7,376.0h.6v.6h-.6zM236.1,371.1h.6v.6h-.6zM229.8,378.4h.6v.6h-.6zM237.2,372.1h.6v.6h-.6zM234.8,371.1h.6v.6h-.6zM233.1,373.6h.6v.6h-.6zM229.3,378.4h.6v.6h-.6zM229.3,375.5h.6v.6h-.6zM230.7,375.5h.6v.6h-.6zM231.7,376.7h.6v.6h-.6zM229.4,378.2h.6v.6h-.6zM232.4,374.7h.6v.6h-.6zM232.0,374.8h.6v.6h-.6zM226.2,377.9h.6v.6h-.6zM229.9,376.6h.6v.6h-.6zM228.8,377.2h.6v.6h-.6zM232.4,377.8h.6v.6h-.6zM232.1,376.3h.6v.6h-.6zM232.9,373.8h.6v.6h-.6zM232.7,372.5h.6v.6h-.6zM229.8,375.0h.6v.6h-.6zM232.1,376.5h.6v.6h-.6zM229.6,377.7h.6v.6h-.6zM230.8,376.1h.6v.6h-.6zM230.9,376.7h.6v.6h-.6zM229.1,378.7h.6v.6h-.6zM233.5,370.3h.6v.6h-.6zM232.2,372.8h.6v.6h-.6zM232.2,378.3h.6v.6h-.6zM233.4,374.2h.6v.6h-.6zM235.3,371.7h.6v.6h-.6zM228.8,373.9h.6v.6h-.6zM234.6,375.0h.6v.6h-.6zM229.3,375.6h.6v.6h-.6zM228.7,380.3h.6v.6h-.6zM227.2,381.9h.6v.6h-.6zM232.5,373.0h.6v.6h-.6zM229.1,377.9h.6v.6h-.6zM233.2,370.5h.6v.6h-.6zM230.4,377.9h.6v.6h-.6zM231.5,378.1h.6v.6h-.6zM228.7,376.4h.6v.6h-.6zM228.3,379.1h.6v.6h-.6zM233.5,372.6h.6v.6h-.6zM228.6,375.8h.6v.6h-.6zM231.2,374.3h.6v.6h-.6zM234.6,368.5h.6v.6h-.6zM227.4,378.0h.6v.6h-.6zM232.3,375.4h.6v.6h-.6zM233.0,375.8h.6v.6h-.6zM232.1,373.2h.6v.6h-.6zM233.8,370.5h.6v.6h-.6zM231.8,375.0h.6v.6h-.6z" fill="#8587c4" opacity="0.7"/>
<path d="M237.4,378.4h0.5v0.5h-0.5zM232.5,368.7h0.5v0.5h-0.5zM230.0,379.3h0.5v0.5h-0.5zM239.6,369.9h0.5v0.5h-0.5zM223.2,382.8h0.5v0.5h-0.5zM244.5,379.4h0.5v0.5h-0.5zM217.6,369.6h0.5v0.5h-0.5zM228.2,374.1h0.5v0.5h-0.5zM233.4,383.9h0.5v0.5h-0.5zM235.2,373.9h0.5v0.5h-0.5zM226.2,377.6h0.5v0.5h-0.5zM233.0,381.4h0.5v0.5h-0.5zM228.0,383.8h0.5v0.5h-0.5zM234.8,377.1h0.5v0.5h-0.5zM231.6,386.6h0.5v0.5h-0.5zM234.4,377.1h0.5v0.5h-0.5zM228.4,383.4h0.5v0.5h-0.5zM232.8,379.3h0.5v0.5h-0.5zM226.0,377.3h0.5v0.5h-0.5zM231.4,387.5h0.5v0.5h-0.5zM222.6,379.2h0.5v0.5h-0.5zM224.8,371.7h0.5v0.5h-0.5zM244.3,372.2h0.5v0.5h-0.5zM237.8,383.8h0.5v0.5h-0.5zM233.3,378.9h0.5v0.5h-0.5zM230.2,381.1h0.5v0.5h-0.5zM232.8,381.5h0.5v0.5h-0.5zM234.3,370.4h0.5v0.5h-0.5zM222.7,378.4h0.5v0.5h-0.5zM230.2,371.8h0.5v0.5h-0.5zM236.2,381.1h0.5v0.5h-0.5zM232.3,383.9h0.5v0.5h-0.5zM234.2,378.0h0.5v0.5h-0.5zM226.8,384.4h0.5v0.5h-0.5zM227.5,374.9h0.5v0.5h-0.5zM224.7,382.1h0.5v0.5h-0.5zM232.0,377.8h0.5v0.5h-0.5zM236.2,374.4h0.5v0.5h-0.5zM235.5,376.0h0.5v0.5h-0.5zM229.5,377.6h0.5v0.5h-0.5zM231.8,385.6h0.5v0.5h-0.5zM226.8,383.8h0.5v0.5h-0.5zM237.9,377.8h0.5v0.5h-0.5zM226.5,372.9h0.5v0.5h-0.5zM230.0,393.1h0.5v0.5h-0.5zM229.3,379.3h0.5v0.5h-0.5zM224.8,380.8h0.5v0.5h-0.5zM232.0,383.6h0.5v0.5h-0.5zM243.1,383.7h0.5v0.5h-0.5zM225.4,378.0h0.5v0.5h-0.5z" fill="#8587c4" opacity="0.40"/>
<path d="M206.3,377.5h0.5v0.5h-0.5zM205.6,385.3h0.5v0.5h-0.5zM201.0,382.6h0.5v0.5h-0.5zM214.9,371.9h0.5v0.5h-0.5zM218.9,386.2h0.5v0.5h-0.5zM224.9,378.3h0.5v0.5h-0.5zM218.7,380.6h0.5v0.5h-0.5zM222.9,379.6h0.5v0.5h-0.5zM220.9,374.5h0.5v0.5h-0.5zM210.1,374.1h0.5v0.5h-0.5zM213.1,373.3h0.5v0.5h-0.5zM215.1,376.7h0.5v0.5h-0.5zM205.7,380.8h0.5v0.5h-0.5zM221.0,382.2h0.5v0.5h-0.5zM216.2,378.4h0.5v0.5h-0.5zM213.0,371.6h0.5v0.5h-0.5zM226.0,371.2h0.5v0.5h-0.5zM208.7,374.4h0.5v0.5h-0.5zM207.6,380.4h0.5v0.5h-0.5zM209.6,376.8h0.5v0.5h-0.5zM216.3,373.5h0.5v0.5h-0.5zM207.4,381.9h0.5v0.5h-0.5zM211.1,370.3h0.5v0.5h-0.5zM217.7,372.3h0.5v0.5h-0.5zM214.0,379.6h0.5v0.5h-0.5zM215.8,380.9h0.5v0.5h-0.5zM211.6,379.4h0.5v0.5h-0.5zM204.1,380.9h0.5v0.5h-0.5zM202.6,383.2h0.5v0.5h-0.5zM209.6,383.9h0.5v0.5h-0.5zM213.7,382.1h0.5v0.5h-0.5zM211.3,378.3h0.5v0.5h-0.5zM217.0,382.8h0.5v0.5h-0.5zM211.7,365.7h0.5v0.5h-0.5zM214.9,383.1h0.5v0.5h-0.5zM221.8,378.2h0.5v0.5h-0.5zM220.5,361.5h0.5v0.5h-0.5zM211.6,376.3h0.5v0.5h-0.5zM226.6,378.3h0.5v0.5h-0.5zM229.7,379.7h0.5v0.5h-0.5zM211.4,376.6h0.5v0.5h-0.5zM209.0,380.2h0.5v0.5h-0.5zM214.9,374.5h0.5v0.5h-0.5zM224.8,384.9h0.5v0.5h-0.5zM212.2,382.2h0.5v0.5h-0.5zM213.0,377.0h0.5v0.5h-0.5zM208.9,376.2h0.5v0.5h-0.5zM224.8,388.1h0.5v0.5h-0.5zM213.3,377.9h0.5v0.5h-0.5zM221.0,375.3h0.5v0.5h-0.5z" fill="#8587c4" opacity="0.35"/>
<rect x="189.25" y="332.50" width="69.50" height="69.50" fill="none" stroke="#969696" stroke-width="0.65" />
<line x1="223.00" y1="332.50" x2="223.00" y2="402.00" stroke="#969696" stroke-width="0.6" />
<line x1="189.25" y1="369.25" x2="258.75" y2="369.25" stroke="#969696" stroke-width="0.6" />
<text x="192.45" y="340.60" font-size="6.30" fill="#2e2e2e" textLength="21.00" lengthAdjust="spacingAndGlyphs">MPP3/</text>
<text x="192.45" y="348.80" font-size="6.30" fill="#2e2e2e" textLength="18.50" lengthAdjust="spacingAndGlyphs">MPP4</text>
<text x="226.00" y="340.60" font-size="6.30" fill="#2e2e2e" textLength="18.00" lengthAdjust="spacingAndGlyphs">MPP2</text>
<text x="192.45" y="398.00" font-size="6.30" fill="#2e2e2e" textLength="17.50" lengthAdjust="spacingAndGlyphs">MPP1</text>
<text x="226.20" y="398.00" font-size="6.30" fill="#2e2e2e" textLength="15.50" lengthAdjust="spacingAndGlyphs">HSCs</text>
<path d="M228.7,455.8h.6v.6h-.6zM232.8,460.2h.6v.6h-.6zM235.4,460.5h.6v.6h-.6zM231.8,456.4h.6v.6h-.6zM223.1,459.6h.6v.6h-.6zM228.3,462.3h.6v.6h-.6zM235.4,465.8h.6v.6h-.6zM232.3,459.6h.6v.6h-.6zM230.4,459.4h.6v.6h-.6zM233.6,460.9h.6v.6h-.6zM232.7,461.3h.6v.6h-.6zM233.6,456.8h.6v.6h-.6zM232.6,458.8h.6v.6h-.6zM234.6,458.5h.6v.6h-.6zM233.6,461.3h.6v.6h-.6zM233.3,457.4h.6v.6h-.6zM232.1,465.7h.6v.6h-.6zM232.7,460.5h.6v.6h-.6zM230.4,459.0h.6v.6h-.6zM228.6,462.9h.6v.6h-.6zM231.4,461.3h.6v.6h-.6zM230.1,460.6h.6v.6h-.6zM232.1,458.1h.6v.6h-.6zM230.6,462.2h.6v.6h-.6zM228.0,459.0h.6v.6h-.6zM226.9,461.2h.6v.6h-.6zM224.8,457.8h.6v.6h-.6zM226.7,462.5h.6v.6h-.6zM229.5,460.7h.6v.6h-.6zM229.4,456.9h.6v.6h-.6zM234.2,456.8h.6v.6h-.6zM226.1,465.8h.6v.6h-.6zM229.9,463.2h.6v.6h-.6zM230.9,453.5h.6v.6h-.6zM228.5,458.0h.6v.6h-.6zM229.3,464.6h.6v.6h-.6zM230.7,456.8h.6v.6h-.6zM227.3,459.0h.6v.6h-.6zM228.9,461.2h.6v.6h-.6zM231.8,461.5h.6v.6h-.6zM230.9,459.4h.6v.6h-.6zM232.1,460.7h.6v.6h-.6zM228.7,456.4h.6v.6h-.6zM231.1,461.1h.6v.6h-.6zM226.1,459.6h.6v.6h-.6zM226.1,460.5h.6v.6h-.6zM229.8,460.3h.6v.6h-.6zM227.5,455.6h.6v.6h-.6zM233.2,460.2h.6v.6h-.6zM234.8,453.0h.6v.6h-.6zM228.3,455.4h.6v.6h-.6zM236.1,460.0h.6v.6h-.6zM229.8,458.4h.6v.6h-.6zM231.3,454.8h.6v.6h-.6zM231.6,453.9h.6v.6h-.6zM232.1,459.3h.6v.6h-.6zM229.7,458.6h.6v.6h-.6zM231.7,464.7h.6v.6h-.6zM229.5,457.4h.6v.6h-.6zM229.8,464.4h.6v.6h-.6z" fill="#8f91cc" opacity="0.55"/>
<path d="M237.9,462.8h0.5v0.5h-0.5zM227.0,466.0h0.5v0.5h-0.5zM232.7,469.3h0.5v0.5h-0.5zM228.7,459.5h0.5v0.5h-0.5zM229.2,456.2h0.5v0.5h-0.5zM222.9,460.3h0.5v0.5h-0.5zM228.6,463.5h0.5v0.5h-0.5zM220.9,461.3h0.5v0.5h-0.5zM241.8,454.3h0.5v0.5h-0.5zM227.4,460.6h0.5v0.5h-0.5zM233.4,459.0h0.5v0.5h-0.5zM243.5,460.3h0.5v0.5h-0.5zM231.2,463.9h0.5v0.5h-0.5zM238.1,465.3h0.5v0.5h-0.5zM221.1,463.4h0.5v0.5h-0.5zM225.9,469.0h0.5v0.5h-0.5zM232.9,464.9h0.5v0.5h-0.5zM229.1,459.4h0.5v0.5h-0.5zM236.1,467.7h0.5v0.5h-0.5zM243.5,461.8h0.5v0.5h-0.5zM236.5,457.7h0.5v0.5h-0.5zM233.0,463.1h0.5v0.5h-0.5zM223.1,460.0h0.5v0.5h-0.5zM230.3,461.9h0.5v0.5h-0.5zM227.9,461.6h0.5v0.5h-0.5zM229.6,460.8h0.5v0.5h-0.5zM219.2,463.7h0.5v0.5h-0.5zM240.2,462.2h0.5v0.5h-0.5zM230.5,458.9h0.5v0.5h-0.5zM224.7,458.2h0.5v0.5h-0.5zM221.4,463.2h0.5v0.5h-0.5zM224.0,464.7h0.5v0.5h-0.5zM230.2,455.8h0.5v0.5h-0.5zM243.1,461.2h0.5v0.5h-0.5zM230.4,460.7h0.5v0.5h-0.5zM222.5,462.9h0.5v0.5h-0.5zM232.8,452.4h0.5v0.5h-0.5zM229.8,463.7h0.5v0.5h-0.5zM240.7,453.0h0.5v0.5h-0.5zM225.2,468.8h0.5v0.5h-0.5zM225.1,466.2h0.5v0.5h-0.5zM223.5,457.2h0.5v0.5h-0.5zM234.1,460.2h0.5v0.5h-0.5zM222.9,463.2h0.5v0.5h-0.5zM236.7,462.5h0.5v0.5h-0.5zM243.2,456.5h0.5v0.5h-0.5zM239.6,464.5h0.5v0.5h-0.5zM234.9,466.8h0.5v0.5h-0.5zM227.8,461.5h0.5v0.5h-0.5zM221.4,459.4h0.5v0.5h-0.5z" fill="#8f91cc" opacity="0.40"/>
<path d="M209.7,469.1h0.5v0.5h-0.5zM211.3,465.7h0.5v0.5h-0.5zM213.5,475.9h0.5v0.5h-0.5zM209.1,459.3h0.5v0.5h-0.5zM217.9,455.1h0.5v0.5h-0.5zM214.2,458.9h0.5v0.5h-0.5zM208.9,462.9h0.5v0.5h-0.5zM226.5,468.5h0.5v0.5h-0.5zM219.1,466.3h0.5v0.5h-0.5zM217.1,460.5h0.5v0.5h-0.5zM215.1,463.5h0.5v0.5h-0.5zM217.8,468.4h0.5v0.5h-0.5zM207.0,457.3h0.5v0.5h-0.5zM222.8,458.4h0.5v0.5h-0.5zM221.3,478.2h0.5v0.5h-0.5zM220.4,465.6h0.5v0.5h-0.5zM213.2,464.9h0.5v0.5h-0.5zM219.5,479.2h0.5v0.5h-0.5zM219.4,463.1h0.5v0.5h-0.5zM223.8,464.0h0.5v0.5h-0.5zM222.0,465.4h0.5v0.5h-0.5zM215.4,467.9h0.5v0.5h-0.5zM213.2,460.7h0.5v0.5h-0.5zM213.6,464.4h0.5v0.5h-0.5zM211.8,467.8h0.5v0.5h-0.5zM216.1,465.5h0.5v0.5h-0.5zM211.9,465.1h0.5v0.5h-0.5zM218.3,462.5h0.5v0.5h-0.5zM212.5,465.3h0.5v0.5h-0.5zM215.5,461.0h0.5v0.5h-0.5zM219.1,466.2h0.5v0.5h-0.5zM225.4,458.2h0.5v0.5h-0.5zM206.3,465.4h0.5v0.5h-0.5zM225.6,468.8h0.5v0.5h-0.5zM214.1,460.2h0.5v0.5h-0.5zM215.9,461.5h0.5v0.5h-0.5zM209.1,464.4h0.5v0.5h-0.5zM209.8,462.4h0.5v0.5h-0.5zM209.6,463.0h0.5v0.5h-0.5zM216.9,464.2h0.5v0.5h-0.5zM215.6,458.7h0.5v0.5h-0.5zM205.2,463.4h0.5v0.5h-0.5zM213.9,467.2h0.5v0.5h-0.5zM205.6,468.6h0.5v0.5h-0.5zM213.2,458.5h0.5v0.5h-0.5zM210.4,461.6h0.5v0.5h-0.5zM222.1,461.7h0.5v0.5h-0.5zM215.9,459.5h0.5v0.5h-0.5zM205.7,460.3h0.5v0.5h-0.5zM204.1,462.3h0.5v0.5h-0.5z" fill="#8f91cc" opacity="0.35"/>
<rect x="189.25" y="416.25" width="69.50" height="69.25" fill="none" stroke="#969696" stroke-width="0.65" />
<line x1="223.00" y1="416.25" x2="223.00" y2="485.50" stroke="#969696" stroke-width="0.6" />
<line x1="189.25" y1="453.00" x2="258.75" y2="453.00" stroke="#969696" stroke-width="0.6" />
<text x="192.45" y="423.80" font-size="6.30" fill="#2e2e2e" textLength="21.00" lengthAdjust="spacingAndGlyphs">MPP3/</text>
<text x="192.45" y="432.00" font-size="6.30" fill="#2e2e2e" textLength="18.50" lengthAdjust="spacingAndGlyphs">MPP4</text>
<text x="226.00" y="423.80" font-size="6.30" fill="#2e2e2e" textLength="18.00" lengthAdjust="spacingAndGlyphs">MPP2</text>
<text x="192.45" y="482.50" font-size="6.30" fill="#2e2e2e" textLength="17.50" lengthAdjust="spacingAndGlyphs">MPP1</text>
<text x="226.20" y="482.50" font-size="6.30" fill="#2e2e2e" textLength="15.50" lengthAdjust="spacingAndGlyphs">HSCs</text>
<text x="185.70" y="341.50" font-size="6.70" fill="#2e2e2e" text-anchor="end" textLength="9.20" lengthAdjust="spacingAndGlyphs">10<tspan dy="-2.41" font-size="4.02">6</tspan></text>
<text x="185.70" y="354.20" font-size="6.70" fill="#2e2e2e" text-anchor="end" textLength="9.20" lengthAdjust="spacingAndGlyphs">10<tspan dy="-2.41" font-size="4.02">5</tspan></text>
<text x="185.70" y="366.70" font-size="6.70" fill="#2e2e2e" text-anchor="end" textLength="9.20" lengthAdjust="spacingAndGlyphs">10<tspan dy="-2.41" font-size="4.02">4</tspan></text>
<text x="185.70" y="381.70" font-size="6.70" fill="#2e2e2e" text-anchor="end" textLength="9.20" lengthAdjust="spacingAndGlyphs">10<tspan dy="-2.41" font-size="4.02">3</tspan></text>
<text x="185.70" y="391.70" font-size="6.70" fill="#2e2e2e" text-anchor="end">0</text>
<text x="185.70" y="402.00" font-size="6.70" fill="#2e2e2e" text-anchor="end" textLength="12.20" lengthAdjust="spacingAndGlyphs">−10<tspan dy="-2.41" font-size="4.02">3</tspan></text>
<text x="185.70" y="438.50" font-size="6.70" fill="#2e2e2e" text-anchor="end" textLength="9.20" lengthAdjust="spacingAndGlyphs">10<tspan dy="-2.41" font-size="4.02">5</tspan></text>
<text x="185.70" y="451.00" font-size="6.70" fill="#2e2e2e" text-anchor="end" textLength="9.20" lengthAdjust="spacingAndGlyphs">10<tspan dy="-2.41" font-size="4.02">4</tspan></text>
<text x="185.70" y="466.00" font-size="6.70" fill="#2e2e2e" text-anchor="end" textLength="9.20" lengthAdjust="spacingAndGlyphs">10<tspan dy="-2.41" font-size="4.02">3</tspan></text>
<text x="185.70" y="476.00" font-size="6.70" fill="#2e2e2e" text-anchor="end">0</text>
<text x="185.70" y="484.50" font-size="6.70" fill="#2e2e2e" text-anchor="end" textLength="12.20" lengthAdjust="spacingAndGlyphs">−10<tspan dy="-2.41" font-size="4.02">3</tspan></text>
<text x="210.80" y="411.00" font-size="6.70" fill="#2e2e2e" text-anchor="middle">0</text>
<text x="243.50" y="411.00" font-size="6.70" fill="#2e2e2e" text-anchor="middle" textLength="9.20" lengthAdjust="spacingAndGlyphs">10<tspan dy="-2.41" font-size="4.02">4</tspan></text>
<text x="257.20" y="411.00" font-size="6.70" fill="#2e2e2e" text-anchor="middle" textLength="9.20" lengthAdjust="spacingAndGlyphs">10<tspan dy="-2.41" font-size="4.02">5</tspan></text>
<text x="210.80" y="496.00" font-size="6.70" fill="#2e2e2e" text-anchor="middle">0</text>
<text x="243.50" y="496.00" font-size="6.70" fill="#2e2e2e" text-anchor="middle" textLength="9.20" lengthAdjust="spacingAndGlyphs">10<tspan dy="-2.41" font-size="4.02">4</tspan></text>
<text x="257.20" y="496.00" font-size="6.70" fill="#2e2e2e" text-anchor="middle" textLength="9.20" lengthAdjust="spacingAndGlyphs">10<tspan dy="-2.41" font-size="4.02">5</tspan></text>
<rect x="209.80" y="401.90" width="2.00" height="1.40" fill="#222" />
<rect x="209.80" y="485.40" width="2.00" height="1.40" fill="#222" />
<rect x="188.00" y="388.50" width="1.40" height="2.00" fill="#222" />
<rect x="188.00" y="472.80" width="1.40" height="2.00" fill="#222" />
<text x="266.00" y="368.80" font-size="6.30" fill="#2e2e2e" text-anchor="middle" textLength="9.50" lengthAdjust="spacingAndGlyphs" transform="rotate(-90 266.00 368.80)">WT</text>
<text x="267.40" y="451.50" font-size="6.30" text-anchor="middle" fill="#2f83a6" font-style="italic" textLength="43.50" lengthAdjust="spacingAndGlyphs" transform="rotate(-90 267.40 451.50)">Vav<tspan dy="-2.27" font-size="3.78">Cre+</tspan><tspan dy="2.27">Rxrab</tspan><tspan dy="-2.27" font-size="3.78">fl/fl</tspan></text>
<line x1="170.50" y1="503.40" x2="170.50" y2="472.72" stroke="#231f20" stroke-width="1.1" />
<path d="M170.50,470.00 L167.78,475.10 L173.22,475.10 Z" fill="#231f20"/>
<line x1="170.00" y1="503.00" x2="200.08" y2="503.00" stroke="#231f20" stroke-width="1.1" />
<path d="M202.80,503.00 L197.70,500.28 L197.70,505.72 Z" fill="#231f20"/>
<text x="165.20" y="483.30" font-size="9.60" fill="#2e2e2e" text-anchor="middle" textLength="18.50" lengthAdjust="spacingAndGlyphs" transform="rotate(-90 165.20 483.30)">CD48</text>
<text x="188.20" y="513.30" font-size="9.60" fill="#2e2e2e" text-anchor="middle" textLength="21.30" lengthAdjust="spacingAndGlyphs">CD150</text>
<line x1="344.70" y1="338.80" x2="344.70" y2="438.10" stroke="#231f20" stroke-width="1" />
<line x1="344.20" y1="437.60" x2="444.00" y2="437.60" stroke="#231f20" stroke-width="1" />
<line x1="341.70" y1="437.60" x2="344.70" y2="437.60" stroke="#231f20" stroke-width="0.9" />
<text x="338.10" y="440.20" font-size="7.30" fill="#2e2e2e" text-anchor="end" textLength="3.40" lengthAdjust="spacingAndGlyphs">0</text>
<line x1="341.70" y1="404.85" x2="344.70" y2="404.85" stroke="#231f20" stroke-width="0.9" />
<text x="338.10" y="407.45" font-size="7.30" fill="#2e2e2e" text-anchor="end" textLength="6.80" lengthAdjust="spacingAndGlyphs">50</text>
<line x1="341.70" y1="372.10" x2="344.70" y2="372.10" stroke="#231f20" stroke-width="0.9" />
<text x="338.10" y="374.70" font-size="7.30" fill="#2e2e2e" text-anchor="end" textLength="10.20" lengthAdjust="spacingAndGlyphs">100</text>
<line x1="341.70" y1="339.35" x2="344.70" y2="339.35" stroke="#231f20" stroke-width="0.9" />
<text x="338.10" y="341.95" font-size="7.30" fill="#2e2e2e" text-anchor="end" textLength="10.20" lengthAdjust="spacingAndGlyphs">150</text>
<line x1="344.70" y1="437.60" x2="344.70" y2="440.60" stroke="#231f20" stroke-width="0.9" />
<text x="344.70" y="450.20" font-size="7.30" fill="#2e2e2e" text-anchor="middle" textLength="3.20" lengthAdjust="spacingAndGlyphs">0</text>
<line x1="372.80" y1="437.60" x2="372.80" y2="440.60" stroke="#231f20" stroke-width="0.9" />
<text x="372.80" y="450.20" font-size="7.30" fill="#2e2e2e" text-anchor="middle" textLength="6.40" lengthAdjust="spacingAndGlyphs">10</text>
<line x1="400.90" y1="437.60" x2="400.90" y2="440.60" stroke="#231f20" stroke-width="0.9" />
<text x="400.90" y="450.20" font-size="7.30" fill="#2e2e2e" text-anchor="middle" textLength="6.40" lengthAdjust="spacingAndGlyphs">20</text>
<line x1="429.00" y1="437.60" x2="429.00" y2="440.60" stroke="#231f20" stroke-width="0.9" />
<text x="429.00" y="450.20" font-size="7.30" fill="#2e2e2e" text-anchor="middle" textLength="6.40" lengthAdjust="spacingAndGlyphs">30</text>
<text x="394.40" y="462.40" font-size="8.60" fill="#2e2e2e" text-anchor="middle" textLength="79.30" lengthAdjust="spacingAndGlyphs">Days after transplantation</text>
<text x="321.60" y="390.00" font-size="8.60" fill="#2e2e2e" text-anchor="middle" textLength="30.40" lengthAdjust="spacingAndGlyphs" transform="rotate(-90 321.60 390.00)">% survival</text>
<line x1="388.75" y1="339.30" x2="398.75" y2="339.30" stroke="#333" stroke-width="1.2" />
<line x1="393.75" y1="339.30" x2="393.75" y2="337.00" stroke="#333" stroke-width="1" />
<text x="402.50" y="341.50" font-size="6.50" fill="#2e2e2e" textLength="10.00" lengthAdjust="spacingAndGlyphs">WT</text>
<line x1="388.75" y1="350.80" x2="398.75" y2="350.80" stroke="#1b7f8c" stroke-width="1.2" />
<line x1="393.75" y1="350.80" x2="393.75" y2="348.50" stroke="#1b7f8c" stroke-width="1" />
<text x="402.50" y="352.80" font-size="6.50" fill="#1b7f8c" font-style="italic" textLength="42.50" lengthAdjust="spacingAndGlyphs">Vav<tspan dy="-2.34" font-size="3.90">Cre+</tspan><tspan dy="2.34">Rxrab</tspan><tspan dy="-2.34" font-size="3.90">fl/fl</tspan></text>
<polyline points="344.70,372.10 369.71,372.10 369.71,389.39 372.80,389.39 372.80,400.27 375.19,400.27 375.19,413.37 378.14,413.37 378.14,417.30 381.51,417.30 381.51,423.85 386.57,423.85 386.57,427.12 411.86,427.12 411.86,430.59 443.05,430.59" fill="none" stroke="#1b7f8c" stroke-width="1.3"/>
<line x1="443.05" y1="430.59" x2="443.05" y2="428.39" stroke="#1b7f8c" stroke-width="0.9" />
<polyline points="344.70,372.10 375.19,372.10 375.19,378.65 378.14,378.65 378.14,388.48 384.04,388.48 384.04,391.75 386.57,391.75 386.57,395.03 443.05,395.03" fill="none" stroke="#333" stroke-width="1.3"/>
<line x1="443.05" y1="395.03" x2="443.05" y2="392.83" stroke="#2a2a2a" stroke-width="0.9" />
<line x1="447.00" y1="394.50" x2="447.00" y2="430.00" stroke="#231f20" stroke-width="1" />
<text x="455.00" y="412.50" font-size="6.80" fill="#2e2e2e" text-anchor="middle" textLength="27.00" lengthAdjust="spacingAndGlyphs" transform="rotate(-90 455.00 412.50)">P ≤ .0001</text>
<text x="75.50" y="555.60" font-size="6.50" fill="#2e2e2e" font-style="italic" textLength="9.80" lengthAdjust="spacingAndGlyphs">WT</text>
<text x="86.70" y="555.60" font-size="6.50" fill="#2e2e2e" textLength="6.50" lengthAdjust="spacingAndGlyphs">or</text>
<text x="75.00" y="565.00" font-size="6.50" fill="#2f83a6" font-style="italic" textLength="41.30" lengthAdjust="spacingAndGlyphs">Vav<tspan dy="-2.34" font-size="3.90">Cre+</tspan><tspan dy="2.34">Rxrab</tspan><tspan dy="-2.34" font-size="3.90">fl/fl</tspan></text>
<g transform="translate(72.50,568.50)">
<path d="M38.3,12.3 C42.5,13.2 45,15.8 44.6,18.8 C44.2,22.6 38.5,24 32.5,23.3 C27.5,22.7 24,21.2 20.2,19.3" fill="none" stroke="#6a6a6a" stroke-width="1.35" stroke-linecap="round"/>
<path d="M38.3,12.3 C42.5,13.2 45,15.8 44.6,18.8 C44.2,22.6 38.5,24 32.5,23.3 C27.5,22.7 24,21.2 20.2,19.3" fill="none" stroke="#ffffff" stroke-width="0.7" stroke-linecap="round"/>
<path d="M0,10.3 C1,8.5 3.5,6.3 7.5,4.3 L11.8,3 C15,1.5 20,-0.3 26.5,-0.5 C32,-0.5 37,3.3 38.8,8.8 C39.5,11.2 39,13.6 37,15 C35,16.3 32,16.4 29.5,16.4 L28.5,17.8 L22,17.5 L22.3,16.3 L25.5,15.9 C22,15.3 18,15.1 14.5,14.6 L14,16.5 L10.8,16.5 L11,15.2 L12,14.3 C9.5,14.5 8,14.3 7,14 L5,15.1 L3.6,14.2 L4.2,13 C2.5,12.4 0.8,11.5 0,10.3 Z" fill="#ffffff" stroke="#4a4a4a" stroke-width="0.65" stroke-linejoin="round"/>
<circle cx="9.8" cy="2.7" r="2.0" fill="#ffffff" stroke="#4a4a4a" stroke-width="0.6"/>
<circle cx="9.9" cy="3.0" r="1.0" fill="none" stroke="#777" stroke-width="0.3"/>
<path d="M32.5,7.2 C29.8,8.8 28.5,12 30,16 M14.3,9.2 C13.8,11.6 14,13.2 14.5,14.6" fill="none" stroke="#666" stroke-width="0.4"/>
<path d="M16,4h.4M20,3h.4M24,2h.4M29,2.5h.4M33,4h.4M36,7h.4M18,6.5h.4M23,5h.4M28,5.5h.4M32,8h.4M37,11h.4M21,13h.4M26,14h.4M34,13h.4M17,12.5h.4M24,11.8h.4M30,12h.4M9,8h.4M6,10h.4M10,11h.4M12,6.5h.4M8,12.5h.4" stroke="#888" stroke-width="0.4" fill="none"/>
<path d="M1.8,8.6 L-1.8,5.6 M2,8.2 L-0.8,3.8 M2.6,7.7 L0.8,3.4 M3.4,7.2 L2.8,3.6 M1.6,9.2 L-2,8.2 M1.6,9.8 L-1.6,10.8 M4.4,6.6 L4.6,3.8" stroke="#444" stroke-width="0.38" fill="none"/>
<circle cx="5.8" cy="8.2" r="0.75" fill="#222"/>
<path d="M3.2,12.6 L8.4,13 L9,14.8 L5.2,15.4 L3.8,14.4 Z" fill="#222"/>
<path d="M22,17.6 L28.5,17.9 M10.8,16.6 L14,16.6" stroke="#2a2a2a" stroke-width="1.0"/>
</g>
<path transform="translate(37.40,592.40) rotate(-3) scale(1.07)" d="M1.2,0.6 C0,0.8 -0.2,2.6 1,3.4 C1.8,4 1.9,5.5 1.9,7.5 L2.2,17.5 C2.2,19.5 1.8,20.6 1,21.4 C0,22.4 0.5,24.2 1.8,24 C2.5,23.9 2.8,23.4 3.1,23.1 C3.5,23.6 4,24.1 4.8,24 C6,23.8 6.2,22.2 5.2,21.4 C4.4,20.7 4.3,19.5 4.3,17.5 L4.1,7.5 C4.1,5.5 4.3,4.1 5.2,3.4 C6.3,2.5 6,0.6 4.7,0.7 C3.9,0.7 3.4,1.3 3,1.7 C2.6,1.2 2.1,0.5 1.2,0.6 Z" fill="#fbf0cc" stroke="#c89e4c" stroke-width="0.75"/>
<text x="48.00" y="607.60" font-size="6.50" fill="#2e2e2e" textLength="37.50" lengthAdjust="spacingAndGlyphs">300 LT-HSCs</text>
<line x1="94.25" y1="592.50" x2="94.25" y2="621.00" stroke="#231f20" stroke-width="1.1" />
<path d="M94.25,623.80 L91.45,618.55 L97.05,618.55 Z" fill="#231f20"/>
<text x="117.00" y="605.80" font-size="6.50" fill="#2e2e2e" text-anchor="middle" textLength="33.80" lengthAdjust="spacingAndGlyphs">1 µM 9c-RA</text>
<text x="116.70" y="614.00" font-size="6.50" fill="#2e2e2e" text-anchor="middle" textLength="28.30" lengthAdjust="spacingAndGlyphs">or vehicle</text>
<line x1="139.50" y1="598.80" x2="139.50" y2="616.30" stroke="#231f20" stroke-width="0.8" />
<text x="143.75" y="609.00" font-size="6.50" fill="#2e2e2e" textLength="11.30" lengthAdjust="spacingAndGlyphs">48h</text>
<ellipse cx="92.50" cy="633.60" rx="12.50" ry="2" fill="#6e0f22"/>
<ellipse cx="92.50" cy="632.30" rx="12.50" ry="1.7" fill="#a8203c"/>
<ellipse cx="129.75" cy="633.60" rx="12.75" ry="2" fill="#6e0f22"/>
<ellipse cx="129.75" cy="632.30" rx="12.75" ry="1.7" fill="#a8203c"/>
<ellipse cx="165.00" cy="633.60" rx="12.50" ry="2" fill="#6e0f22"/>
<ellipse cx="165.00" cy="632.30" rx="12.50" ry="1.7" fill="#a8203c"/>
<path d="M101.00,626.00 Q112.50,619.35 123.50,625.80" fill="none" stroke="#231f20" stroke-width="0.9"/>
<path d="M126.00,628.20 L121.00,626.80 L124.00,623.00 Z" fill="#231f20"/>
<path d="M137.50,626.00 Q149.00,619.35 160.00,625.80" fill="none" stroke="#231f20" stroke-width="0.9"/>
<path d="M162.50,628.20 L157.50,626.80 L160.50,623.00 Z" fill="#231f20"/>
<text x="131.20" y="646.90" font-size="6.50" fill="#2e2e2e" text-anchor="middle" textLength="83.50" lengthAdjust="spacingAndGlyphs">In vitro self-renewal capacity</text>
<circle cx="244.30" cy="540.50" r="1.80" fill="#4a4a4a" />
<text x="248.75" y="543.00" font-size="6.50" fill="#2e2e2e" textLength="10.00" lengthAdjust="spacingAndGlyphs">WT</text>
<rect x="265.40" y="538.80" width="3.30" height="3.30" fill="#3f86a6" />
<text x="272.50" y="543.00" font-size="6.50" fill="#2f83a6" font-style="italic" textLength="42.50" lengthAdjust="spacingAndGlyphs">Vav<tspan dy="-2.34" font-size="3.90">Cre+</tspan><tspan dy="2.34">Rxrab</tspan><tspan dy="-2.34" font-size="3.90">fl/fl</tspan></text>
<text x="212.80" y="608.70" font-size="8.60" fill="#2e2e2e" text-anchor="middle" textLength="62.20" lengthAdjust="spacingAndGlyphs" transform="rotate(-90 212.80 608.70)">Normalized number</text>
<text x="223.60" y="608.00" font-size="8.60" fill="#2e2e2e" text-anchor="middle" textLength="23.40" lengthAdjust="spacingAndGlyphs" transform="rotate(-90 223.60 608.00)">of CFUs</text>
<line x1="242.80" y1="563.75" x2="242.80" y2="655.00" stroke="#231f20" stroke-width="1" />
<line x1="242.30" y1="654.50" x2="306.30" y2="654.50" stroke="#231f20" stroke-width="1" />
<line x1="239.80" y1="654.50" x2="242.80" y2="654.50" stroke="#231f20" stroke-width="0.9" />
<text x="236.80" y="657.10" font-size="7.30" fill="#2e2e2e" text-anchor="end" textLength="3.40" lengthAdjust="spacingAndGlyphs">0</text>
<line x1="239.80" y1="631.94" x2="242.80" y2="631.94" stroke="#231f20" stroke-width="0.9" />
<text x="236.80" y="634.54" font-size="7.30" fill="#2e2e2e" text-anchor="end" textLength="8.90" lengthAdjust="spacingAndGlyphs">0.5</text>
<line x1="239.80" y1="609.38" x2="242.80" y2="609.38" stroke="#231f20" stroke-width="0.9" />
<text x="236.80" y="611.98" font-size="7.30" fill="#2e2e2e" text-anchor="end" textLength="8.90" lengthAdjust="spacingAndGlyphs">1.0</text>
<line x1="239.80" y1="586.81" x2="242.80" y2="586.81" stroke="#231f20" stroke-width="0.9" />
<text x="236.80" y="589.41" font-size="7.30" fill="#2e2e2e" text-anchor="end" textLength="8.90" lengthAdjust="spacingAndGlyphs">1.5</text>
<line x1="239.80" y1="564.25" x2="242.80" y2="564.25" stroke="#231f20" stroke-width="0.9" />
<text x="236.80" y="566.85" font-size="7.30" fill="#2e2e2e" text-anchor="end" textLength="8.90" lengthAdjust="spacingAndGlyphs">2.0</text>
<text x="245.50" y="557.00" font-size="6.50" fill="#2e2e2e" textLength="29.00" lengthAdjust="spacingAndGlyphs">1<tspan dy="-2.34" font-size="3.90">st</tspan><tspan dy="2.34"> plating</tspan></text>
<rect x="248.10" y="610.10" width="8.30" height="44.40" fill="#a5a5a5" />
<line x1="252.25" y1="605.30" x2="252.25" y2="615.00" stroke="#222" stroke-width="0.8" />
<line x1="250.05" y1="605.30" x2="254.45" y2="605.30" stroke="#222" stroke-width="0.8" />
<line x1="250.05" y1="615.00" x2="254.45" y2="615.00" stroke="#222" stroke-width="0.8" />
<circle cx="248.70" cy="601.20" r="1.30" fill="#333" />
<circle cx="254.80" cy="601.60" r="1.30" fill="#333" />
<circle cx="251.80" cy="605.30" r="1.30" fill="#333" />
<circle cx="251.80" cy="607.70" r="1.30" fill="#333" />
<circle cx="252.40" cy="611.70" r="1.30" fill="#333" />
<circle cx="248.70" cy="619.80" r="1.30" fill="#333" />
<circle cx="254.50" cy="618.70" r="1.30" fill="#333" />
<line x1="252.25" y1="654.50" x2="252.25" y2="657.50" stroke="#231f20" stroke-width="0.9" />
<text x="254.25" y="663.70" font-size="6.6" text-anchor="end" fill="#231f20" transform="rotate(-45 254.25 663.70)">Vehicle</text>
<rect x="260.20" y="632.40" width="8.20" height="22.10" fill="#a5a5a5" />
<line x1="264.30" y1="630.60" x2="264.30" y2="636.20" stroke="#222" stroke-width="0.8" />
<line x1="262.10" y1="630.60" x2="266.50" y2="630.60" stroke="#222" stroke-width="0.8" />
<line x1="262.10" y1="636.20" x2="266.50" y2="636.20" stroke="#222" stroke-width="0.8" />
<circle cx="264.20" cy="622.20" r="1.30" fill="#333" />
<circle cx="264.20" cy="626.50" r="1.30" fill="#333" />
<circle cx="261.80" cy="632.60" r="1.30" fill="#333" />
<circle cx="266.90" cy="632.60" r="1.30" fill="#333" />
<circle cx="262.90" cy="636.60" r="1.30" fill="#333" />
<circle cx="266.90" cy="638.60" r="1.30" fill="#333" />
<circle cx="264.20" cy="645.40" r="1.30" fill="#333" />
<line x1="264.30" y1="654.50" x2="264.30" y2="657.50" stroke="#231f20" stroke-width="0.9" />
<text x="266.30" y="663.70" font-size="6.6" text-anchor="end" fill="#231f20" transform="rotate(-45 266.30 663.70)">9c-RA</text>
<rect x="281.00" y="598.90" width="8.50" height="55.60" fill="#94b0ca" />
<line x1="285.25" y1="592.20" x2="285.25" y2="605.70" stroke="#2e7f9f" stroke-width="0.8" />
<line x1="283.05" y1="592.20" x2="287.45" y2="592.20" stroke="#2e7f9f" stroke-width="0.8" />
<line x1="283.05" y1="605.70" x2="287.45" y2="605.70" stroke="#2e7f9f" stroke-width="0.8" />
<rect x="282.10" y="591.00" width="2.40" height="2.40" fill="#2e7f9f" />
<rect x="284.30" y="590.10" width="2.40" height="2.40" fill="#2e7f9f" />
<rect x="286.20" y="591.40" width="2.40" height="2.40" fill="#2e7f9f" />
<rect x="284.30" y="593.70" width="2.40" height="2.40" fill="#2e7f9f" />
<rect x="284.30" y="600.40" width="2.40" height="2.40" fill="#2e7f9f" />
<rect x="284.60" y="604.50" width="2.40" height="2.40" fill="#2e7f9f" />
<rect x="284.30" y="611.20" width="2.40" height="2.40" fill="#2e7f9f" />
<line x1="285.25" y1="654.50" x2="285.25" y2="657.50" stroke="#231f20" stroke-width="0.9" />
<text x="287.25" y="663.70" font-size="6.6" text-anchor="end" fill="#231f20" transform="rotate(-45 287.25 663.70)">Vehicle</text>
<rect x="293.50" y="605.30" width="8.40" height="49.20" fill="#94b0ca" />
<line x1="297.70" y1="598.30" x2="297.70" y2="608.60" stroke="#2e7f9f" stroke-width="0.8" />
<line x1="295.50" y1="598.30" x2="299.90" y2="598.30" stroke="#2e7f9f" stroke-width="0.8" />
<line x1="295.50" y1="608.60" x2="299.90" y2="608.60" stroke="#2e7f9f" stroke-width="0.8" />
<rect x="296.40" y="585.00" width="2.40" height="2.40" fill="#2e7f9f" />
<rect x="299.10" y="596.40" width="2.40" height="2.40" fill="#2e7f9f" />
<rect x="294.00" y="598.70" width="2.40" height="2.40" fill="#2e7f9f" />
<rect x="298.70" y="604.10" width="2.40" height="2.40" fill="#2e7f9f" />
<rect x="294.30" y="605.40" width="2.40" height="2.40" fill="#2e7f9f" />
<rect x="296.70" y="609.20" width="2.40" height="2.40" fill="#2e7f9f" />
<rect x="296.40" y="618.60" width="2.40" height="2.40" fill="#2e7f9f" />
<line x1="297.70" y1="654.50" x2="297.70" y2="657.50" stroke="#231f20" stroke-width="0.9" />
<text x="299.70" y="663.70" font-size="6.6" text-anchor="end" fill="#231f20" transform="rotate(-45 299.70 663.70)">9c-RA</text>
<line x1="251.40" y1="598.00" x2="263.60" y2="598.00" stroke="#3a3a3a" stroke-width="1.2" />
<text x="257.50" y="598.70" font-size="7.00" text-anchor="middle" fill="#222222" textLength="8.40" lengthAdjust="spacingAndGlyphs">***</text>
<line x1="264.20" y1="581.80" x2="297.20" y2="581.80" stroke="#3a3a3a" stroke-width="1.2" />
<text x="289.10" y="582.50" font-size="7.00" text-anchor="middle" fill="#222222" textLength="11.20" lengthAdjust="spacingAndGlyphs">****</text>
<line x1="334.40" y1="563.75" x2="334.40" y2="655.00" stroke="#231f20" stroke-width="1" />
<line x1="333.90" y1="654.50" x2="397.50" y2="654.50" stroke="#231f20" stroke-width="1" />
<line x1="331.40" y1="654.50" x2="334.40" y2="654.50" stroke="#231f20" stroke-width="0.9" />
<text x="328.40" y="657.10" font-size="7.30" fill="#2e2e2e" text-anchor="end" textLength="3.40" lengthAdjust="spacingAndGlyphs">0</text>
<line x1="331.40" y1="624.42" x2="334.40" y2="624.42" stroke="#231f20" stroke-width="0.9" />
<text x="328.40" y="627.02" font-size="7.30" fill="#2e2e2e" text-anchor="end" textLength="3.40" lengthAdjust="spacingAndGlyphs">1</text>
<line x1="331.40" y1="594.33" x2="334.40" y2="594.33" stroke="#231f20" stroke-width="0.9" />
<text x="328.40" y="596.93" font-size="7.30" fill="#2e2e2e" text-anchor="end" textLength="3.40" lengthAdjust="spacingAndGlyphs">2</text>
<line x1="331.40" y1="564.25" x2="334.40" y2="564.25" stroke="#231f20" stroke-width="0.9" />
<text x="328.40" y="566.85" font-size="7.30" fill="#2e2e2e" text-anchor="end" textLength="3.40" lengthAdjust="spacingAndGlyphs">3</text>
<text x="337.50" y="557.00" font-size="6.50" fill="#2e2e2e" textLength="30.50" lengthAdjust="spacingAndGlyphs">2<tspan dy="-2.34" font-size="3.90">nd</tspan><tspan dy="2.34"> plating</tspan></text>
<rect x="339.10" y="624.20" width="8.50" height="30.30" fill="#a5a5a5" />
<line x1="343.35" y1="621.50" x2="343.35" y2="627.00" stroke="#222" stroke-width="0.8" />
<line x1="341.15" y1="621.50" x2="345.55" y2="621.50" stroke="#222" stroke-width="0.8" />
<line x1="341.15" y1="627.00" x2="345.55" y2="627.00" stroke="#222" stroke-width="0.8" />
<circle cx="343.20" cy="618.40" r="1.30" fill="#333" />
<circle cx="343.20" cy="622.40" r="1.30" fill="#333" />
<circle cx="345.40" cy="624.60" r="1.30" fill="#333" />
<circle cx="340.60" cy="625.80" r="1.30" fill="#333" />
<circle cx="344.70" cy="626.80" r="1.30" fill="#333" />
<circle cx="342.50" cy="627.50" r="1.30" fill="#333" />
<circle cx="341.00" cy="628.70" r="1.30" fill="#333" />
<line x1="343.35" y1="654.50" x2="343.35" y2="657.50" stroke="#231f20" stroke-width="0.9" />
<text x="345.35" y="663.70" font-size="6.6" text-anchor="end" fill="#231f20" transform="rotate(-45 345.35 663.70)">Vehicle</text>
<rect x="351.70" y="597.40" width="8.40" height="57.10" fill="#a5a5a5" />
<line x1="355.90" y1="588.60" x2="355.90" y2="606.00" stroke="#222" stroke-width="0.8" />
<line x1="353.70" y1="588.60" x2="358.10" y2="588.60" stroke="#222" stroke-width="0.8" />
<line x1="353.70" y1="606.00" x2="358.10" y2="606.00" stroke="#222" stroke-width="0.8" />
<circle cx="355.70" cy="583.80" r="1.30" fill="#333" />
<circle cx="355.70" cy="590.10" r="1.30" fill="#333" />
<circle cx="355.70" cy="594.10" r="1.30" fill="#333" />
<circle cx="356.10" cy="598.50" r="1.30" fill="#333" />
<circle cx="355.70" cy="602.60" r="1.30" fill="#333" />
<circle cx="356.10" cy="606.70" r="1.30" fill="#333" />
<circle cx="355.70" cy="610.20" r="1.30" fill="#333" />
<line x1="355.90" y1="654.50" x2="355.90" y2="657.50" stroke="#231f20" stroke-width="0.9" />
<text x="357.90" y="663.70" font-size="6.6" text-anchor="end" fill="#231f20" transform="rotate(-45 357.90 663.70)">9c-RA</text>
<rect x="372.60" y="619.50" width="8.50" height="35.00" fill="#94b0ca" />
<line x1="376.85" y1="616.30" x2="376.85" y2="622.50" stroke="#2e7f9f" stroke-width="0.8" />
<line x1="374.65" y1="616.30" x2="379.05" y2="616.30" stroke="#2e7f9f" stroke-width="0.8" />
<line x1="374.65" y1="622.50" x2="379.05" y2="622.50" stroke="#2e7f9f" stroke-width="0.8" />
<rect x="372.60" y="613.10" width="2.40" height="2.40" fill="#2e7f9f" />
<rect x="375.80" y="614.30" width="2.40" height="2.40" fill="#2e7f9f" />
<rect x="372.80" y="616.80" width="2.40" height="2.40" fill="#2e7f9f" />
<rect x="378.00" y="618.70" width="2.40" height="2.40" fill="#2e7f9f" />
<rect x="376.10" y="620.50" width="2.40" height="2.40" fill="#2e7f9f" />
<rect x="375.10" y="622.70" width="2.40" height="2.40" fill="#2e7f9f" />
<line x1="376.85" y1="654.50" x2="376.85" y2="657.50" stroke="#231f20" stroke-width="0.9" />
<text x="378.85" y="663.70" font-size="6.6" text-anchor="end" fill="#231f20" transform="rotate(-45 378.85 663.70)">Vehicle</text>
<rect x="385.10" y="618.40" width="8.40" height="36.10" fill="#94b0ca" />
<line x1="389.30" y1="614.60" x2="389.30" y2="622.20" stroke="#2e7f9f" stroke-width="0.8" />
<line x1="387.10" y1="614.60" x2="391.50" y2="614.60" stroke="#2e7f9f" stroke-width="0.8" />
<line x1="387.10" y1="622.20" x2="391.50" y2="622.20" stroke="#2e7f9f" stroke-width="0.8" />
<rect x="387.80" y="608.70" width="2.40" height="2.40" fill="#2e7f9f" />
<rect x="385.30" y="614.30" width="2.40" height="2.40" fill="#2e7f9f" />
<rect x="391.20" y="614.90" width="2.40" height="2.40" fill="#2e7f9f" />
<rect x="387.50" y="617.20" width="2.40" height="2.40" fill="#2e7f9f" />
<rect x="385.30" y="619.30" width="2.40" height="2.40" fill="#2e7f9f" />
<rect x="389.30" y="619.70" width="2.40" height="2.40" fill="#2e7f9f" />
<rect x="385.80" y="621.90" width="2.40" height="2.40" fill="#2e7f9f" />
<line x1="389.30" y1="654.50" x2="389.30" y2="657.50" stroke="#231f20" stroke-width="0.9" />
<text x="391.30" y="663.70" font-size="6.6" text-anchor="end" fill="#231f20" transform="rotate(-45 391.30 663.70)">9c-RA</text>
<line x1="343.50" y1="579.80" x2="355.30" y2="579.80" stroke="#3a3a3a" stroke-width="1.2" />
<text x="349.10" y="580.70" font-size="7.00" text-anchor="middle" fill="#222222" textLength="11.20" lengthAdjust="spacingAndGlyphs">****</text>
<line x1="356.40" y1="572.50" x2="389.50" y2="572.50" stroke="#3a3a3a" stroke-width="1.2" />
<text x="380.70" y="572.90" font-size="7.00" text-anchor="middle" fill="#222222" textLength="11.20" lengthAdjust="spacingAndGlyphs">****</text>
<line x1="425.80" y1="563.75" x2="425.80" y2="655.00" stroke="#231f20" stroke-width="1" />
<line x1="425.30" y1="654.50" x2="489.30" y2="654.50" stroke="#231f20" stroke-width="1" />
<line x1="422.80" y1="654.50" x2="425.80" y2="654.50" stroke="#231f20" stroke-width="0.9" />
<text x="419.80" y="657.10" font-size="7.30" fill="#2e2e2e" text-anchor="end" textLength="3.40" lengthAdjust="spacingAndGlyphs">0</text>
<line x1="422.80" y1="624.42" x2="425.80" y2="624.42" stroke="#231f20" stroke-width="0.9" />
<text x="419.80" y="627.02" font-size="7.30" fill="#2e2e2e" text-anchor="end" textLength="3.40" lengthAdjust="spacingAndGlyphs">1</text>
<line x1="422.80" y1="594.33" x2="425.80" y2="594.33" stroke="#231f20" stroke-width="0.9" />
<text x="419.80" y="596.93" font-size="7.30" fill="#2e2e2e" text-anchor="end" textLength="3.40" lengthAdjust="spacingAndGlyphs">2</text>
<line x1="422.80" y1="564.25" x2="425.80" y2="564.25" stroke="#231f20" stroke-width="0.9" />
<text x="419.80" y="566.85" font-size="7.30" fill="#2e2e2e" text-anchor="end" textLength="3.40" lengthAdjust="spacingAndGlyphs">3</text>
<text x="428.90" y="557.00" font-size="6.50" fill="#2e2e2e" textLength="30.00" lengthAdjust="spacingAndGlyphs">3<tspan dy="-2.34" font-size="3.90">rd</tspan><tspan dy="2.34"> plating</tspan></text>
<rect x="430.50" y="625.10" width="8.60" height="29.40" fill="#a5a5a5" />
<line x1="434.80" y1="615.90" x2="434.80" y2="634.00" stroke="#222" stroke-width="0.8" />
<line x1="432.60" y1="615.90" x2="437.00" y2="615.90" stroke="#222" stroke-width="0.8" />
<line x1="432.60" y1="634.00" x2="437.00" y2="634.00" stroke="#222" stroke-width="0.8" />
<circle cx="434.90" cy="614.90" r="1.30" fill="#333" />
<circle cx="431.60" cy="619.50" r="1.30" fill="#333" />
<circle cx="437.80" cy="619.50" r="1.30" fill="#333" />
<circle cx="434.50" cy="625.90" r="1.30" fill="#333" />
<circle cx="431.60" cy="627.20" r="1.30" fill="#333" />
<circle cx="437.40" cy="628.40" r="1.30" fill="#333" />
<circle cx="432.90" cy="632.70" r="1.30" fill="#333" />
<circle cx="437.00" cy="633.70" r="1.30" fill="#333" />
<line x1="434.80" y1="654.50" x2="434.80" y2="657.50" stroke="#231f20" stroke-width="0.9" />
<text x="436.80" y="663.70" font-size="6.6" text-anchor="end" fill="#231f20" transform="rotate(-45 436.80 663.70)">Vehicle</text>
<rect x="442.90" y="596.80" width="8.60" height="57.70" fill="#a5a5a5" />
<line x1="447.20" y1="588.40" x2="447.20" y2="609.80" stroke="#222" stroke-width="0.8" />
<line x1="445.00" y1="588.40" x2="449.40" y2="588.40" stroke="#222" stroke-width="0.8" />
<line x1="445.00" y1="609.80" x2="449.40" y2="609.80" stroke="#222" stroke-width="0.8" />
<circle cx="447.10" cy="582.30" r="1.30" fill="#333" />
<circle cx="447.10" cy="592.30" r="1.30" fill="#333" />
<circle cx="444.20" cy="597.20" r="1.30" fill="#333" />
<circle cx="449.90" cy="597.70" r="1.30" fill="#333" />
<circle cx="445.80" cy="599.30" r="1.30" fill="#333" />
<circle cx="449.90" cy="602.00" r="1.30" fill="#333" />
<circle cx="447.10" cy="616.20" r="1.30" fill="#333" />
<line x1="447.20" y1="654.50" x2="447.20" y2="657.50" stroke="#231f20" stroke-width="0.9" />
<text x="449.20" y="663.70" font-size="6.6" text-anchor="end" fill="#231f20" transform="rotate(-45 449.20 663.70)">9c-RA</text>
<rect x="463.90" y="644.50" width="8.60" height="10.00" fill="#94b0ca" />
<line x1="468.20" y1="640.50" x2="468.20" y2="648.00" stroke="#2e7f9f" stroke-width="0.8" />
<line x1="466.00" y1="640.50" x2="470.40" y2="640.50" stroke="#2e7f9f" stroke-width="0.8" />
<line x1="466.00" y1="648.00" x2="470.40" y2="648.00" stroke="#2e7f9f" stroke-width="0.8" />
<rect x="464.00" y="637.30" width="2.40" height="2.40" fill="#2e7f9f" />
<rect x="468.10" y="639.30" width="2.40" height="2.40" fill="#2e7f9f" />
<rect x="466.50" y="641.20" width="2.40" height="2.40" fill="#2e7f9f" />
<rect x="469.20" y="643.80" width="2.40" height="2.40" fill="#2e7f9f" />
<rect x="464.80" y="645.40" width="2.40" height="2.40" fill="#2e7f9f" />
<rect x="467.30" y="646.50" width="2.40" height="2.40" fill="#2e7f9f" />
<line x1="468.20" y1="654.50" x2="468.20" y2="657.50" stroke="#231f20" stroke-width="0.9" />
<text x="470.20" y="663.70" font-size="6.6" text-anchor="end" fill="#231f20" transform="rotate(-45 470.20 663.70)">Vehicle</text>
<rect x="476.50" y="634.30" width="8.40" height="20.20" fill="#94b0ca" />
<line x1="480.70" y1="629.50" x2="480.70" y2="639.00" stroke="#2e7f9f" stroke-width="0.8" />
<line x1="478.50" y1="629.50" x2="482.90" y2="629.50" stroke="#2e7f9f" stroke-width="0.8" />
<line x1="478.50" y1="639.00" x2="482.90" y2="639.00" stroke="#2e7f9f" stroke-width="0.8" />
<rect x="479.40" y="624.40" width="2.40" height="2.40" fill="#2e7f9f" />
<rect x="477.80" y="628.80" width="2.40" height="2.40" fill="#2e7f9f" />
<rect x="481.00" y="629.30" width="2.40" height="2.40" fill="#2e7f9f" />
<rect x="479.40" y="633.10" width="2.40" height="2.40" fill="#2e7f9f" />
<rect x="482.10" y="634.10" width="2.40" height="2.40" fill="#2e7f9f" />
<rect x="478.60" y="636.80" width="2.40" height="2.40" fill="#2e7f9f" />
<rect x="481.00" y="637.30" width="2.40" height="2.40" fill="#2e7f9f" />
<rect x="477.30" y="638.50" width="2.40" height="2.40" fill="#2e7f9f" />
<line x1="480.70" y1="654.50" x2="480.70" y2="657.50" stroke="#231f20" stroke-width="0.9" />
<text x="482.70" y="663.70" font-size="6.6" text-anchor="end" fill="#231f20" transform="rotate(-45 482.70 663.70)">9c-RA</text>
<line x1="434.90" y1="579.60" x2="446.70" y2="579.60" stroke="#3a3a3a" stroke-width="1.2" />
<text x="440.70" y="579.60" font-size="7.00" text-anchor="middle" fill="#222222" textLength="11.20" lengthAdjust="spacingAndGlyphs">****</text>
<line x1="434.90" y1="571.30" x2="468.10" y2="571.30" stroke="#3a3a3a" stroke-width="1.2" />
<text x="461.70" y="571.60" font-size="7.00" text-anchor="middle" fill="#222222" textLength="8.40" lengthAdjust="spacingAndGlyphs">***</text>
<line x1="447.80" y1="562.60" x2="480.60" y2="562.60" stroke="#3a3a3a" stroke-width="1.2" />
<text x="473.30" y="562.70" font-size="7.00" text-anchor="middle" fill="#222222" textLength="11.20" lengthAdjust="spacingAndGlyphs">****</text>
</g>
</svg>
</body></html>
